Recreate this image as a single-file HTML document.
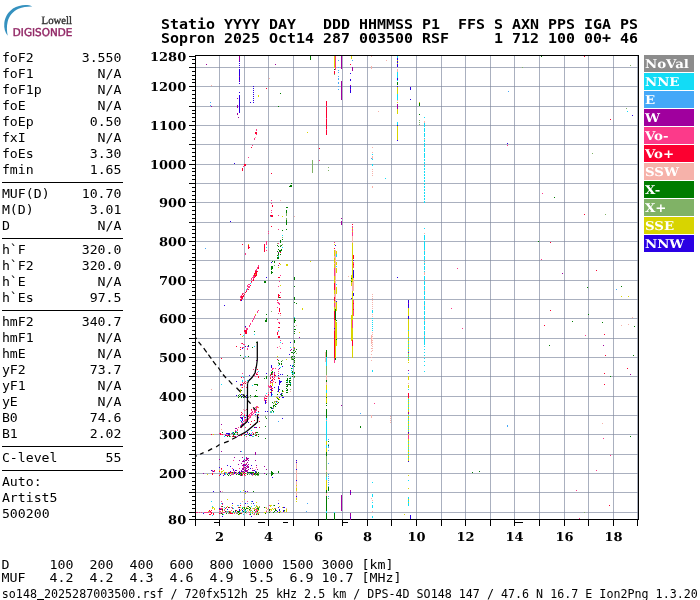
<!DOCTYPE html>
<html><head><meta charset="utf-8"><title>Ionogram</title>
<style>html,body{margin:0;padding:0;background:#fff;}svg{display:block;}</style></head>
<body><svg width="700" height="600" viewBox="0 0 700 600" shape-rendering="crispEdges">
<rect width="700" height="600" fill="#fff"/>
<path d="M32.3,6.5 C27,4 19,5 13,8.5 C8,12 5,17 4.3,23 C3.8,28 5,32.5 7.7,35.7 C6.8,31 6.6,26 7.6,22 C9,16 13,11 18.5,8.7 C23,7 28,6.3 32.3,6.5 Z" fill="#3591bf" shape-rendering="auto"/>
<text x="41.6" y="23.8" font-family="Liberation Serif, serif" font-size="11.2" fill="#2e2e2e" stroke="#2e2e2e" stroke-width="0.35" textLength="30.4" lengthAdjust="spacingAndGlyphs" text-rendering="geometricPrecision">Lowell</text>
<text x="12.8" y="36.2" font-family="DejaVu Sans, sans-serif" font-size="10.8" fill="#922866" stroke="#922866" stroke-width="0.45" textLength="59.6" lengthAdjust="spacingAndGlyphs" text-rendering="geometricPrecision">DIGISONDE</text>
<text x="161" y="28.6" font-family="DejaVu Sans Mono, monospace" font-weight="bold" font-size="13.3" textLength="477.0" lengthAdjust="spacingAndGlyphs" xml:space="preserve">Statio YYYY DAY   DDD HHMMSS P1  FFS S AXN PPS IGA PS</text>
<text x="161" y="42.5" font-family="DejaVu Sans Mono, monospace" font-weight="bold" font-size="13.3" textLength="477.0" lengthAdjust="spacingAndGlyphs" xml:space="preserve">Sopron 2025 Oct14 287 003500 RSF     1 712 100 00+ 46</text>
<text x="1.9" y="61.7" font-family="DejaVu Sans Mono, monospace" font-size="12.4" textLength="31.8" lengthAdjust="spacingAndGlyphs">foF2</text>
<text x="121.5" y="61.7" font-family="DejaVu Sans Mono, monospace" font-size="12.4" text-anchor="end" textLength="39.8" lengthAdjust="spacingAndGlyphs">3.550</text>
<text x="1.9" y="77.7" font-family="DejaVu Sans Mono, monospace" font-size="12.4" textLength="31.8" lengthAdjust="spacingAndGlyphs">foF1</text>
<text x="121.5" y="77.7" font-family="DejaVu Sans Mono, monospace" font-size="12.4" text-anchor="end" textLength="23.9" lengthAdjust="spacingAndGlyphs">N/A</text>
<text x="1.9" y="93.7" font-family="DejaVu Sans Mono, monospace" font-size="12.4" textLength="39.8" lengthAdjust="spacingAndGlyphs">foF1p</text>
<text x="121.5" y="93.7" font-family="DejaVu Sans Mono, monospace" font-size="12.4" text-anchor="end" textLength="23.9" lengthAdjust="spacingAndGlyphs">N/A</text>
<text x="1.9" y="109.7" font-family="DejaVu Sans Mono, monospace" font-size="12.4" textLength="23.9" lengthAdjust="spacingAndGlyphs">foE</text>
<text x="121.5" y="109.7" font-family="DejaVu Sans Mono, monospace" font-size="12.4" text-anchor="end" textLength="23.9" lengthAdjust="spacingAndGlyphs">N/A</text>
<text x="1.9" y="125.7" font-family="DejaVu Sans Mono, monospace" font-size="12.4" textLength="31.8" lengthAdjust="spacingAndGlyphs">foEp</text>
<text x="121.5" y="125.7" font-family="DejaVu Sans Mono, monospace" font-size="12.4" text-anchor="end" textLength="31.8" lengthAdjust="spacingAndGlyphs">0.50</text>
<text x="1.9" y="141.7" font-family="DejaVu Sans Mono, monospace" font-size="12.4" textLength="23.9" lengthAdjust="spacingAndGlyphs">fxI</text>
<text x="121.5" y="141.7" font-family="DejaVu Sans Mono, monospace" font-size="12.4" text-anchor="end" textLength="23.9" lengthAdjust="spacingAndGlyphs">N/A</text>
<text x="1.9" y="157.7" font-family="DejaVu Sans Mono, monospace" font-size="12.4" textLength="31.8" lengthAdjust="spacingAndGlyphs">foEs</text>
<text x="121.5" y="157.7" font-family="DejaVu Sans Mono, monospace" font-size="12.4" text-anchor="end" textLength="31.8" lengthAdjust="spacingAndGlyphs">3.30</text>
<text x="1.9" y="173.7" font-family="DejaVu Sans Mono, monospace" font-size="12.4" textLength="31.8" lengthAdjust="spacingAndGlyphs">fmin</text>
<text x="121.5" y="173.7" font-family="DejaVu Sans Mono, monospace" font-size="12.4" text-anchor="end" textLength="31.8" lengthAdjust="spacingAndGlyphs">1.65</text>
<rect x="2" y="182" width="121" height="1.2" fill="#000"/>
<text x="1.9" y="197.7" font-family="DejaVu Sans Mono, monospace" font-size="12.4" textLength="47.7" lengthAdjust="spacingAndGlyphs">MUF(D)</text>
<text x="121.5" y="197.7" font-family="DejaVu Sans Mono, monospace" font-size="12.4" text-anchor="end" textLength="39.8" lengthAdjust="spacingAndGlyphs">10.70</text>
<text x="1.9" y="213.7" font-family="DejaVu Sans Mono, monospace" font-size="12.4" textLength="31.8" lengthAdjust="spacingAndGlyphs">M(D)</text>
<text x="121.5" y="213.7" font-family="DejaVu Sans Mono, monospace" font-size="12.4" text-anchor="end" textLength="31.8" lengthAdjust="spacingAndGlyphs">3.01</text>
<text x="1.9" y="229.7" font-family="DejaVu Sans Mono, monospace" font-size="12.4" textLength="8.0" lengthAdjust="spacingAndGlyphs">D</text>
<text x="121.5" y="229.7" font-family="DejaVu Sans Mono, monospace" font-size="12.4" text-anchor="end" textLength="23.9" lengthAdjust="spacingAndGlyphs">N/A</text>
<rect x="2" y="238" width="121" height="1.2" fill="#000"/>
<text x="1.9" y="253.7" font-family="DejaVu Sans Mono, monospace" font-size="12.4" textLength="23.9" lengthAdjust="spacingAndGlyphs">h`F</text>
<text x="121.5" y="253.7" font-family="DejaVu Sans Mono, monospace" font-size="12.4" text-anchor="end" textLength="39.8" lengthAdjust="spacingAndGlyphs">320.0</text>
<text x="1.9" y="269.7" font-family="DejaVu Sans Mono, monospace" font-size="12.4" textLength="31.8" lengthAdjust="spacingAndGlyphs">h`F2</text>
<text x="121.5" y="269.7" font-family="DejaVu Sans Mono, monospace" font-size="12.4" text-anchor="end" textLength="39.8" lengthAdjust="spacingAndGlyphs">320.0</text>
<text x="1.9" y="285.7" font-family="DejaVu Sans Mono, monospace" font-size="12.4" textLength="23.9" lengthAdjust="spacingAndGlyphs">h`E</text>
<text x="121.5" y="285.7" font-family="DejaVu Sans Mono, monospace" font-size="12.4" text-anchor="end" textLength="23.9" lengthAdjust="spacingAndGlyphs">N/A</text>
<text x="1.9" y="301.7" font-family="DejaVu Sans Mono, monospace" font-size="12.4" textLength="31.8" lengthAdjust="spacingAndGlyphs">h`Es</text>
<text x="121.5" y="301.7" font-family="DejaVu Sans Mono, monospace" font-size="12.4" text-anchor="end" textLength="31.8" lengthAdjust="spacingAndGlyphs">97.5</text>
<rect x="2" y="310" width="121" height="1.2" fill="#000"/>
<text x="1.9" y="325.7" font-family="DejaVu Sans Mono, monospace" font-size="12.4" textLength="31.8" lengthAdjust="spacingAndGlyphs">hmF2</text>
<text x="121.5" y="325.7" font-family="DejaVu Sans Mono, monospace" font-size="12.4" text-anchor="end" textLength="39.8" lengthAdjust="spacingAndGlyphs">340.7</text>
<text x="1.9" y="341.7" font-family="DejaVu Sans Mono, monospace" font-size="12.4" textLength="31.8" lengthAdjust="spacingAndGlyphs">hmF1</text>
<text x="121.5" y="341.7" font-family="DejaVu Sans Mono, monospace" font-size="12.4" text-anchor="end" textLength="23.9" lengthAdjust="spacingAndGlyphs">N/A</text>
<text x="1.9" y="357.7" font-family="DejaVu Sans Mono, monospace" font-size="12.4" textLength="23.9" lengthAdjust="spacingAndGlyphs">hmE</text>
<text x="121.5" y="357.7" font-family="DejaVu Sans Mono, monospace" font-size="12.4" text-anchor="end" textLength="23.9" lengthAdjust="spacingAndGlyphs">N/A</text>
<text x="1.9" y="373.7" font-family="DejaVu Sans Mono, monospace" font-size="12.4" textLength="23.9" lengthAdjust="spacingAndGlyphs">yF2</text>
<text x="121.5" y="373.7" font-family="DejaVu Sans Mono, monospace" font-size="12.4" text-anchor="end" textLength="31.8" lengthAdjust="spacingAndGlyphs">73.7</text>
<text x="1.9" y="389.7" font-family="DejaVu Sans Mono, monospace" font-size="12.4" textLength="23.9" lengthAdjust="spacingAndGlyphs">yF1</text>
<text x="121.5" y="389.7" font-family="DejaVu Sans Mono, monospace" font-size="12.4" text-anchor="end" textLength="23.9" lengthAdjust="spacingAndGlyphs">N/A</text>
<text x="1.9" y="405.7" font-family="DejaVu Sans Mono, monospace" font-size="12.4" textLength="15.9" lengthAdjust="spacingAndGlyphs">yE</text>
<text x="121.5" y="405.7" font-family="DejaVu Sans Mono, monospace" font-size="12.4" text-anchor="end" textLength="23.9" lengthAdjust="spacingAndGlyphs">N/A</text>
<text x="1.9" y="421.7" font-family="DejaVu Sans Mono, monospace" font-size="12.4" textLength="15.9" lengthAdjust="spacingAndGlyphs">B0</text>
<text x="121.5" y="421.7" font-family="DejaVu Sans Mono, monospace" font-size="12.4" text-anchor="end" textLength="31.8" lengthAdjust="spacingAndGlyphs">74.6</text>
<text x="1.9" y="437.7" font-family="DejaVu Sans Mono, monospace" font-size="12.4" textLength="15.9" lengthAdjust="spacingAndGlyphs">B1</text>
<text x="121.5" y="437.7" font-family="DejaVu Sans Mono, monospace" font-size="12.4" text-anchor="end" textLength="31.8" lengthAdjust="spacingAndGlyphs">2.02</text>
<rect x="2" y="446" width="121" height="1.2" fill="#000"/>
<text x="1.9" y="461.7" font-family="DejaVu Sans Mono, monospace" font-size="12.4" textLength="55.6" lengthAdjust="spacingAndGlyphs">C-level</text>
<text x="121.5" y="461.7" font-family="DejaVu Sans Mono, monospace" font-size="12.4" text-anchor="end" textLength="15.9" lengthAdjust="spacingAndGlyphs">55</text>
<rect x="2" y="470" width="121" height="1.2" fill="#000"/>
<text x="1.9" y="485.7" font-family="DejaVu Sans Mono, monospace" font-size="12.4" textLength="39.8" lengthAdjust="spacingAndGlyphs">Auto:</text>
<text x="1.9" y="501.7" font-family="DejaVu Sans Mono, monospace" font-size="12.4" textLength="55.6" lengthAdjust="spacingAndGlyphs">Artist5</text>
<text x="1.9" y="517.7" font-family="DejaVu Sans Mono, monospace" font-size="12.4" textLength="47.7" lengthAdjust="spacingAndGlyphs">500200</text>
<rect x="219" y="56" width="1" height="463" fill="#aab0bf"/>
<rect x="244" y="56" width="1" height="463" fill="#aab0bf"/>
<rect x="268" y="56" width="1" height="463" fill="#aab0bf"/>
<rect x="293" y="56" width="1" height="463" fill="#aab0bf"/>
<rect x="318" y="56" width="1" height="463" fill="#aab0bf"/>
<rect x="342" y="56" width="1" height="463" fill="#aab0bf"/>
<rect x="367" y="56" width="1" height="463" fill="#aab0bf"/>
<rect x="391" y="56" width="1" height="463" fill="#aab0bf"/>
<rect x="416" y="56" width="1" height="463" fill="#aab0bf"/>
<rect x="441" y="56" width="1" height="463" fill="#aab0bf"/>
<rect x="465" y="56" width="1" height="463" fill="#aab0bf"/>
<rect x="490" y="56" width="1" height="463" fill="#aab0bf"/>
<rect x="514" y="56" width="1" height="463" fill="#aab0bf"/>
<rect x="539" y="56" width="1" height="463" fill="#aab0bf"/>
<rect x="564" y="56" width="1" height="463" fill="#aab0bf"/>
<rect x="588" y="56" width="1" height="463" fill="#aab0bf"/>
<rect x="613" y="56" width="1" height="463" fill="#aab0bf"/>
<rect x="637" y="56" width="1" height="463" fill="#aab0bf"/>
<rect x="196" y="512" width="441" height="1" fill="#aab0bf"/>
<rect x="196" y="492" width="441" height="1" fill="#aab0bf"/>
<rect x="196" y="473" width="441" height="1" fill="#aab0bf"/>
<rect x="196" y="454" width="441" height="1" fill="#aab0bf"/>
<rect x="196" y="434" width="441" height="1" fill="#aab0bf"/>
<rect x="196" y="415" width="441" height="1" fill="#aab0bf"/>
<rect x="196" y="396" width="441" height="1" fill="#aab0bf"/>
<rect x="196" y="376" width="441" height="1" fill="#aab0bf"/>
<rect x="196" y="357" width="441" height="1" fill="#aab0bf"/>
<rect x="196" y="338" width="441" height="1" fill="#aab0bf"/>
<rect x="196" y="318" width="441" height="1" fill="#aab0bf"/>
<rect x="196" y="299" width="441" height="1" fill="#aab0bf"/>
<rect x="196" y="280" width="441" height="1" fill="#aab0bf"/>
<rect x="196" y="260" width="441" height="1" fill="#aab0bf"/>
<rect x="196" y="241" width="441" height="1" fill="#aab0bf"/>
<rect x="196" y="222" width="441" height="1" fill="#aab0bf"/>
<rect x="196" y="202" width="441" height="1" fill="#aab0bf"/>
<rect x="196" y="183" width="441" height="1" fill="#aab0bf"/>
<rect x="196" y="164" width="441" height="1" fill="#aab0bf"/>
<rect x="196" y="144" width="441" height="1" fill="#aab0bf"/>
<rect x="196" y="125" width="441" height="1" fill="#aab0bf"/>
<rect x="196" y="106" width="441" height="1" fill="#aab0bf"/>
<rect x="196" y="86" width="441" height="1" fill="#aab0bf"/>
<rect x="196" y="67" width="441" height="1" fill="#aab0bf"/>
<rect x="219" y="512" width="1" height="1" fill="#8e95a7"/>
<rect x="219" y="492" width="1" height="1" fill="#8e95a7"/>
<rect x="219" y="473" width="1" height="1" fill="#8e95a7"/>
<rect x="219" y="454" width="1" height="1" fill="#8e95a7"/>
<rect x="219" y="434" width="1" height="1" fill="#8e95a7"/>
<rect x="219" y="415" width="1" height="1" fill="#8e95a7"/>
<rect x="219" y="396" width="1" height="1" fill="#8e95a7"/>
<rect x="219" y="376" width="1" height="1" fill="#8e95a7"/>
<rect x="219" y="357" width="1" height="1" fill="#8e95a7"/>
<rect x="219" y="338" width="1" height="1" fill="#8e95a7"/>
<rect x="219" y="318" width="1" height="1" fill="#8e95a7"/>
<rect x="219" y="299" width="1" height="1" fill="#8e95a7"/>
<rect x="219" y="280" width="1" height="1" fill="#8e95a7"/>
<rect x="219" y="260" width="1" height="1" fill="#8e95a7"/>
<rect x="219" y="241" width="1" height="1" fill="#8e95a7"/>
<rect x="219" y="222" width="1" height="1" fill="#8e95a7"/>
<rect x="219" y="202" width="1" height="1" fill="#8e95a7"/>
<rect x="219" y="183" width="1" height="1" fill="#8e95a7"/>
<rect x="219" y="164" width="1" height="1" fill="#8e95a7"/>
<rect x="219" y="144" width="1" height="1" fill="#8e95a7"/>
<rect x="219" y="125" width="1" height="1" fill="#8e95a7"/>
<rect x="219" y="106" width="1" height="1" fill="#8e95a7"/>
<rect x="219" y="86" width="1" height="1" fill="#8e95a7"/>
<rect x="219" y="67" width="1" height="1" fill="#8e95a7"/>
<rect x="244" y="512" width="1" height="1" fill="#8e95a7"/>
<rect x="244" y="492" width="1" height="1" fill="#8e95a7"/>
<rect x="244" y="473" width="1" height="1" fill="#8e95a7"/>
<rect x="244" y="454" width="1" height="1" fill="#8e95a7"/>
<rect x="244" y="434" width="1" height="1" fill="#8e95a7"/>
<rect x="244" y="415" width="1" height="1" fill="#8e95a7"/>
<rect x="244" y="396" width="1" height="1" fill="#8e95a7"/>
<rect x="244" y="376" width="1" height="1" fill="#8e95a7"/>
<rect x="244" y="357" width="1" height="1" fill="#8e95a7"/>
<rect x="244" y="338" width="1" height="1" fill="#8e95a7"/>
<rect x="244" y="318" width="1" height="1" fill="#8e95a7"/>
<rect x="244" y="299" width="1" height="1" fill="#8e95a7"/>
<rect x="244" y="280" width="1" height="1" fill="#8e95a7"/>
<rect x="244" y="260" width="1" height="1" fill="#8e95a7"/>
<rect x="244" y="241" width="1" height="1" fill="#8e95a7"/>
<rect x="244" y="222" width="1" height="1" fill="#8e95a7"/>
<rect x="244" y="202" width="1" height="1" fill="#8e95a7"/>
<rect x="244" y="183" width="1" height="1" fill="#8e95a7"/>
<rect x="244" y="164" width="1" height="1" fill="#8e95a7"/>
<rect x="244" y="144" width="1" height="1" fill="#8e95a7"/>
<rect x="244" y="125" width="1" height="1" fill="#8e95a7"/>
<rect x="244" y="106" width="1" height="1" fill="#8e95a7"/>
<rect x="244" y="86" width="1" height="1" fill="#8e95a7"/>
<rect x="244" y="67" width="1" height="1" fill="#8e95a7"/>
<rect x="268" y="512" width="1" height="1" fill="#8e95a7"/>
<rect x="268" y="492" width="1" height="1" fill="#8e95a7"/>
<rect x="268" y="473" width="1" height="1" fill="#8e95a7"/>
<rect x="268" y="454" width="1" height="1" fill="#8e95a7"/>
<rect x="268" y="434" width="1" height="1" fill="#8e95a7"/>
<rect x="268" y="415" width="1" height="1" fill="#8e95a7"/>
<rect x="268" y="396" width="1" height="1" fill="#8e95a7"/>
<rect x="268" y="376" width="1" height="1" fill="#8e95a7"/>
<rect x="268" y="357" width="1" height="1" fill="#8e95a7"/>
<rect x="268" y="338" width="1" height="1" fill="#8e95a7"/>
<rect x="268" y="318" width="1" height="1" fill="#8e95a7"/>
<rect x="268" y="299" width="1" height="1" fill="#8e95a7"/>
<rect x="268" y="280" width="1" height="1" fill="#8e95a7"/>
<rect x="268" y="260" width="1" height="1" fill="#8e95a7"/>
<rect x="268" y="241" width="1" height="1" fill="#8e95a7"/>
<rect x="268" y="222" width="1" height="1" fill="#8e95a7"/>
<rect x="268" y="202" width="1" height="1" fill="#8e95a7"/>
<rect x="268" y="183" width="1" height="1" fill="#8e95a7"/>
<rect x="268" y="164" width="1" height="1" fill="#8e95a7"/>
<rect x="268" y="144" width="1" height="1" fill="#8e95a7"/>
<rect x="268" y="125" width="1" height="1" fill="#8e95a7"/>
<rect x="268" y="106" width="1" height="1" fill="#8e95a7"/>
<rect x="268" y="86" width="1" height="1" fill="#8e95a7"/>
<rect x="268" y="67" width="1" height="1" fill="#8e95a7"/>
<rect x="293" y="512" width="1" height="1" fill="#8e95a7"/>
<rect x="293" y="492" width="1" height="1" fill="#8e95a7"/>
<rect x="293" y="473" width="1" height="1" fill="#8e95a7"/>
<rect x="293" y="454" width="1" height="1" fill="#8e95a7"/>
<rect x="293" y="434" width="1" height="1" fill="#8e95a7"/>
<rect x="293" y="415" width="1" height="1" fill="#8e95a7"/>
<rect x="293" y="396" width="1" height="1" fill="#8e95a7"/>
<rect x="293" y="376" width="1" height="1" fill="#8e95a7"/>
<rect x="293" y="357" width="1" height="1" fill="#8e95a7"/>
<rect x="293" y="338" width="1" height="1" fill="#8e95a7"/>
<rect x="293" y="318" width="1" height="1" fill="#8e95a7"/>
<rect x="293" y="299" width="1" height="1" fill="#8e95a7"/>
<rect x="293" y="280" width="1" height="1" fill="#8e95a7"/>
<rect x="293" y="260" width="1" height="1" fill="#8e95a7"/>
<rect x="293" y="241" width="1" height="1" fill="#8e95a7"/>
<rect x="293" y="222" width="1" height="1" fill="#8e95a7"/>
<rect x="293" y="202" width="1" height="1" fill="#8e95a7"/>
<rect x="293" y="183" width="1" height="1" fill="#8e95a7"/>
<rect x="293" y="164" width="1" height="1" fill="#8e95a7"/>
<rect x="293" y="144" width="1" height="1" fill="#8e95a7"/>
<rect x="293" y="125" width="1" height="1" fill="#8e95a7"/>
<rect x="293" y="106" width="1" height="1" fill="#8e95a7"/>
<rect x="293" y="86" width="1" height="1" fill="#8e95a7"/>
<rect x="293" y="67" width="1" height="1" fill="#8e95a7"/>
<rect x="318" y="512" width="1" height="1" fill="#8e95a7"/>
<rect x="318" y="492" width="1" height="1" fill="#8e95a7"/>
<rect x="318" y="473" width="1" height="1" fill="#8e95a7"/>
<rect x="318" y="454" width="1" height="1" fill="#8e95a7"/>
<rect x="318" y="434" width="1" height="1" fill="#8e95a7"/>
<rect x="318" y="415" width="1" height="1" fill="#8e95a7"/>
<rect x="318" y="396" width="1" height="1" fill="#8e95a7"/>
<rect x="318" y="376" width="1" height="1" fill="#8e95a7"/>
<rect x="318" y="357" width="1" height="1" fill="#8e95a7"/>
<rect x="318" y="338" width="1" height="1" fill="#8e95a7"/>
<rect x="318" y="318" width="1" height="1" fill="#8e95a7"/>
<rect x="318" y="299" width="1" height="1" fill="#8e95a7"/>
<rect x="318" y="280" width="1" height="1" fill="#8e95a7"/>
<rect x="318" y="260" width="1" height="1" fill="#8e95a7"/>
<rect x="318" y="241" width="1" height="1" fill="#8e95a7"/>
<rect x="318" y="222" width="1" height="1" fill="#8e95a7"/>
<rect x="318" y="202" width="1" height="1" fill="#8e95a7"/>
<rect x="318" y="183" width="1" height="1" fill="#8e95a7"/>
<rect x="318" y="164" width="1" height="1" fill="#8e95a7"/>
<rect x="318" y="144" width="1" height="1" fill="#8e95a7"/>
<rect x="318" y="125" width="1" height="1" fill="#8e95a7"/>
<rect x="318" y="106" width="1" height="1" fill="#8e95a7"/>
<rect x="318" y="86" width="1" height="1" fill="#8e95a7"/>
<rect x="318" y="67" width="1" height="1" fill="#8e95a7"/>
<rect x="342" y="512" width="1" height="1" fill="#8e95a7"/>
<rect x="342" y="492" width="1" height="1" fill="#8e95a7"/>
<rect x="342" y="473" width="1" height="1" fill="#8e95a7"/>
<rect x="342" y="454" width="1" height="1" fill="#8e95a7"/>
<rect x="342" y="434" width="1" height="1" fill="#8e95a7"/>
<rect x="342" y="415" width="1" height="1" fill="#8e95a7"/>
<rect x="342" y="396" width="1" height="1" fill="#8e95a7"/>
<rect x="342" y="376" width="1" height="1" fill="#8e95a7"/>
<rect x="342" y="357" width="1" height="1" fill="#8e95a7"/>
<rect x="342" y="338" width="1" height="1" fill="#8e95a7"/>
<rect x="342" y="318" width="1" height="1" fill="#8e95a7"/>
<rect x="342" y="299" width="1" height="1" fill="#8e95a7"/>
<rect x="342" y="280" width="1" height="1" fill="#8e95a7"/>
<rect x="342" y="260" width="1" height="1" fill="#8e95a7"/>
<rect x="342" y="241" width="1" height="1" fill="#8e95a7"/>
<rect x="342" y="222" width="1" height="1" fill="#8e95a7"/>
<rect x="342" y="202" width="1" height="1" fill="#8e95a7"/>
<rect x="342" y="183" width="1" height="1" fill="#8e95a7"/>
<rect x="342" y="164" width="1" height="1" fill="#8e95a7"/>
<rect x="342" y="144" width="1" height="1" fill="#8e95a7"/>
<rect x="342" y="125" width="1" height="1" fill="#8e95a7"/>
<rect x="342" y="106" width="1" height="1" fill="#8e95a7"/>
<rect x="342" y="86" width="1" height="1" fill="#8e95a7"/>
<rect x="342" y="67" width="1" height="1" fill="#8e95a7"/>
<rect x="367" y="512" width="1" height="1" fill="#8e95a7"/>
<rect x="367" y="492" width="1" height="1" fill="#8e95a7"/>
<rect x="367" y="473" width="1" height="1" fill="#8e95a7"/>
<rect x="367" y="454" width="1" height="1" fill="#8e95a7"/>
<rect x="367" y="434" width="1" height="1" fill="#8e95a7"/>
<rect x="367" y="415" width="1" height="1" fill="#8e95a7"/>
<rect x="367" y="396" width="1" height="1" fill="#8e95a7"/>
<rect x="367" y="376" width="1" height="1" fill="#8e95a7"/>
<rect x="367" y="357" width="1" height="1" fill="#8e95a7"/>
<rect x="367" y="338" width="1" height="1" fill="#8e95a7"/>
<rect x="367" y="318" width="1" height="1" fill="#8e95a7"/>
<rect x="367" y="299" width="1" height="1" fill="#8e95a7"/>
<rect x="367" y="280" width="1" height="1" fill="#8e95a7"/>
<rect x="367" y="260" width="1" height="1" fill="#8e95a7"/>
<rect x="367" y="241" width="1" height="1" fill="#8e95a7"/>
<rect x="367" y="222" width="1" height="1" fill="#8e95a7"/>
<rect x="367" y="202" width="1" height="1" fill="#8e95a7"/>
<rect x="367" y="183" width="1" height="1" fill="#8e95a7"/>
<rect x="367" y="164" width="1" height="1" fill="#8e95a7"/>
<rect x="367" y="144" width="1" height="1" fill="#8e95a7"/>
<rect x="367" y="125" width="1" height="1" fill="#8e95a7"/>
<rect x="367" y="106" width="1" height="1" fill="#8e95a7"/>
<rect x="367" y="86" width="1" height="1" fill="#8e95a7"/>
<rect x="367" y="67" width="1" height="1" fill="#8e95a7"/>
<rect x="391" y="512" width="1" height="1" fill="#8e95a7"/>
<rect x="391" y="492" width="1" height="1" fill="#8e95a7"/>
<rect x="391" y="473" width="1" height="1" fill="#8e95a7"/>
<rect x="391" y="454" width="1" height="1" fill="#8e95a7"/>
<rect x="391" y="434" width="1" height="1" fill="#8e95a7"/>
<rect x="391" y="415" width="1" height="1" fill="#8e95a7"/>
<rect x="391" y="396" width="1" height="1" fill="#8e95a7"/>
<rect x="391" y="376" width="1" height="1" fill="#8e95a7"/>
<rect x="391" y="357" width="1" height="1" fill="#8e95a7"/>
<rect x="391" y="338" width="1" height="1" fill="#8e95a7"/>
<rect x="391" y="318" width="1" height="1" fill="#8e95a7"/>
<rect x="391" y="299" width="1" height="1" fill="#8e95a7"/>
<rect x="391" y="280" width="1" height="1" fill="#8e95a7"/>
<rect x="391" y="260" width="1" height="1" fill="#8e95a7"/>
<rect x="391" y="241" width="1" height="1" fill="#8e95a7"/>
<rect x="391" y="222" width="1" height="1" fill="#8e95a7"/>
<rect x="391" y="202" width="1" height="1" fill="#8e95a7"/>
<rect x="391" y="183" width="1" height="1" fill="#8e95a7"/>
<rect x="391" y="164" width="1" height="1" fill="#8e95a7"/>
<rect x="391" y="144" width="1" height="1" fill="#8e95a7"/>
<rect x="391" y="125" width="1" height="1" fill="#8e95a7"/>
<rect x="391" y="106" width="1" height="1" fill="#8e95a7"/>
<rect x="391" y="86" width="1" height="1" fill="#8e95a7"/>
<rect x="391" y="67" width="1" height="1" fill="#8e95a7"/>
<rect x="416" y="512" width="1" height="1" fill="#8e95a7"/>
<rect x="416" y="492" width="1" height="1" fill="#8e95a7"/>
<rect x="416" y="473" width="1" height="1" fill="#8e95a7"/>
<rect x="416" y="454" width="1" height="1" fill="#8e95a7"/>
<rect x="416" y="434" width="1" height="1" fill="#8e95a7"/>
<rect x="416" y="415" width="1" height="1" fill="#8e95a7"/>
<rect x="416" y="396" width="1" height="1" fill="#8e95a7"/>
<rect x="416" y="376" width="1" height="1" fill="#8e95a7"/>
<rect x="416" y="357" width="1" height="1" fill="#8e95a7"/>
<rect x="416" y="338" width="1" height="1" fill="#8e95a7"/>
<rect x="416" y="318" width="1" height="1" fill="#8e95a7"/>
<rect x="416" y="299" width="1" height="1" fill="#8e95a7"/>
<rect x="416" y="280" width="1" height="1" fill="#8e95a7"/>
<rect x="416" y="260" width="1" height="1" fill="#8e95a7"/>
<rect x="416" y="241" width="1" height="1" fill="#8e95a7"/>
<rect x="416" y="222" width="1" height="1" fill="#8e95a7"/>
<rect x="416" y="202" width="1" height="1" fill="#8e95a7"/>
<rect x="416" y="183" width="1" height="1" fill="#8e95a7"/>
<rect x="416" y="164" width="1" height="1" fill="#8e95a7"/>
<rect x="416" y="144" width="1" height="1" fill="#8e95a7"/>
<rect x="416" y="125" width="1" height="1" fill="#8e95a7"/>
<rect x="416" y="106" width="1" height="1" fill="#8e95a7"/>
<rect x="416" y="86" width="1" height="1" fill="#8e95a7"/>
<rect x="416" y="67" width="1" height="1" fill="#8e95a7"/>
<rect x="441" y="512" width="1" height="1" fill="#8e95a7"/>
<rect x="441" y="492" width="1" height="1" fill="#8e95a7"/>
<rect x="441" y="473" width="1" height="1" fill="#8e95a7"/>
<rect x="441" y="454" width="1" height="1" fill="#8e95a7"/>
<rect x="441" y="434" width="1" height="1" fill="#8e95a7"/>
<rect x="441" y="415" width="1" height="1" fill="#8e95a7"/>
<rect x="441" y="396" width="1" height="1" fill="#8e95a7"/>
<rect x="441" y="376" width="1" height="1" fill="#8e95a7"/>
<rect x="441" y="357" width="1" height="1" fill="#8e95a7"/>
<rect x="441" y="338" width="1" height="1" fill="#8e95a7"/>
<rect x="441" y="318" width="1" height="1" fill="#8e95a7"/>
<rect x="441" y="299" width="1" height="1" fill="#8e95a7"/>
<rect x="441" y="280" width="1" height="1" fill="#8e95a7"/>
<rect x="441" y="260" width="1" height="1" fill="#8e95a7"/>
<rect x="441" y="241" width="1" height="1" fill="#8e95a7"/>
<rect x="441" y="222" width="1" height="1" fill="#8e95a7"/>
<rect x="441" y="202" width="1" height="1" fill="#8e95a7"/>
<rect x="441" y="183" width="1" height="1" fill="#8e95a7"/>
<rect x="441" y="164" width="1" height="1" fill="#8e95a7"/>
<rect x="441" y="144" width="1" height="1" fill="#8e95a7"/>
<rect x="441" y="125" width="1" height="1" fill="#8e95a7"/>
<rect x="441" y="106" width="1" height="1" fill="#8e95a7"/>
<rect x="441" y="86" width="1" height="1" fill="#8e95a7"/>
<rect x="441" y="67" width="1" height="1" fill="#8e95a7"/>
<rect x="465" y="512" width="1" height="1" fill="#8e95a7"/>
<rect x="465" y="492" width="1" height="1" fill="#8e95a7"/>
<rect x="465" y="473" width="1" height="1" fill="#8e95a7"/>
<rect x="465" y="454" width="1" height="1" fill="#8e95a7"/>
<rect x="465" y="434" width="1" height="1" fill="#8e95a7"/>
<rect x="465" y="415" width="1" height="1" fill="#8e95a7"/>
<rect x="465" y="396" width="1" height="1" fill="#8e95a7"/>
<rect x="465" y="376" width="1" height="1" fill="#8e95a7"/>
<rect x="465" y="357" width="1" height="1" fill="#8e95a7"/>
<rect x="465" y="338" width="1" height="1" fill="#8e95a7"/>
<rect x="465" y="318" width="1" height="1" fill="#8e95a7"/>
<rect x="465" y="299" width="1" height="1" fill="#8e95a7"/>
<rect x="465" y="280" width="1" height="1" fill="#8e95a7"/>
<rect x="465" y="260" width="1" height="1" fill="#8e95a7"/>
<rect x="465" y="241" width="1" height="1" fill="#8e95a7"/>
<rect x="465" y="222" width="1" height="1" fill="#8e95a7"/>
<rect x="465" y="202" width="1" height="1" fill="#8e95a7"/>
<rect x="465" y="183" width="1" height="1" fill="#8e95a7"/>
<rect x="465" y="164" width="1" height="1" fill="#8e95a7"/>
<rect x="465" y="144" width="1" height="1" fill="#8e95a7"/>
<rect x="465" y="125" width="1" height="1" fill="#8e95a7"/>
<rect x="465" y="106" width="1" height="1" fill="#8e95a7"/>
<rect x="465" y="86" width="1" height="1" fill="#8e95a7"/>
<rect x="465" y="67" width="1" height="1" fill="#8e95a7"/>
<rect x="490" y="512" width="1" height="1" fill="#8e95a7"/>
<rect x="490" y="492" width="1" height="1" fill="#8e95a7"/>
<rect x="490" y="473" width="1" height="1" fill="#8e95a7"/>
<rect x="490" y="454" width="1" height="1" fill="#8e95a7"/>
<rect x="490" y="434" width="1" height="1" fill="#8e95a7"/>
<rect x="490" y="415" width="1" height="1" fill="#8e95a7"/>
<rect x="490" y="396" width="1" height="1" fill="#8e95a7"/>
<rect x="490" y="376" width="1" height="1" fill="#8e95a7"/>
<rect x="490" y="357" width="1" height="1" fill="#8e95a7"/>
<rect x="490" y="338" width="1" height="1" fill="#8e95a7"/>
<rect x="490" y="318" width="1" height="1" fill="#8e95a7"/>
<rect x="490" y="299" width="1" height="1" fill="#8e95a7"/>
<rect x="490" y="280" width="1" height="1" fill="#8e95a7"/>
<rect x="490" y="260" width="1" height="1" fill="#8e95a7"/>
<rect x="490" y="241" width="1" height="1" fill="#8e95a7"/>
<rect x="490" y="222" width="1" height="1" fill="#8e95a7"/>
<rect x="490" y="202" width="1" height="1" fill="#8e95a7"/>
<rect x="490" y="183" width="1" height="1" fill="#8e95a7"/>
<rect x="490" y="164" width="1" height="1" fill="#8e95a7"/>
<rect x="490" y="144" width="1" height="1" fill="#8e95a7"/>
<rect x="490" y="125" width="1" height="1" fill="#8e95a7"/>
<rect x="490" y="106" width="1" height="1" fill="#8e95a7"/>
<rect x="490" y="86" width="1" height="1" fill="#8e95a7"/>
<rect x="490" y="67" width="1" height="1" fill="#8e95a7"/>
<rect x="514" y="512" width="1" height="1" fill="#8e95a7"/>
<rect x="514" y="492" width="1" height="1" fill="#8e95a7"/>
<rect x="514" y="473" width="1" height="1" fill="#8e95a7"/>
<rect x="514" y="454" width="1" height="1" fill="#8e95a7"/>
<rect x="514" y="434" width="1" height="1" fill="#8e95a7"/>
<rect x="514" y="415" width="1" height="1" fill="#8e95a7"/>
<rect x="514" y="396" width="1" height="1" fill="#8e95a7"/>
<rect x="514" y="376" width="1" height="1" fill="#8e95a7"/>
<rect x="514" y="357" width="1" height="1" fill="#8e95a7"/>
<rect x="514" y="338" width="1" height="1" fill="#8e95a7"/>
<rect x="514" y="318" width="1" height="1" fill="#8e95a7"/>
<rect x="514" y="299" width="1" height="1" fill="#8e95a7"/>
<rect x="514" y="280" width="1" height="1" fill="#8e95a7"/>
<rect x="514" y="260" width="1" height="1" fill="#8e95a7"/>
<rect x="514" y="241" width="1" height="1" fill="#8e95a7"/>
<rect x="514" y="222" width="1" height="1" fill="#8e95a7"/>
<rect x="514" y="202" width="1" height="1" fill="#8e95a7"/>
<rect x="514" y="183" width="1" height="1" fill="#8e95a7"/>
<rect x="514" y="164" width="1" height="1" fill="#8e95a7"/>
<rect x="514" y="144" width="1" height="1" fill="#8e95a7"/>
<rect x="514" y="125" width="1" height="1" fill="#8e95a7"/>
<rect x="514" y="106" width="1" height="1" fill="#8e95a7"/>
<rect x="514" y="86" width="1" height="1" fill="#8e95a7"/>
<rect x="514" y="67" width="1" height="1" fill="#8e95a7"/>
<rect x="539" y="512" width="1" height="1" fill="#8e95a7"/>
<rect x="539" y="492" width="1" height="1" fill="#8e95a7"/>
<rect x="539" y="473" width="1" height="1" fill="#8e95a7"/>
<rect x="539" y="454" width="1" height="1" fill="#8e95a7"/>
<rect x="539" y="434" width="1" height="1" fill="#8e95a7"/>
<rect x="539" y="415" width="1" height="1" fill="#8e95a7"/>
<rect x="539" y="396" width="1" height="1" fill="#8e95a7"/>
<rect x="539" y="376" width="1" height="1" fill="#8e95a7"/>
<rect x="539" y="357" width="1" height="1" fill="#8e95a7"/>
<rect x="539" y="338" width="1" height="1" fill="#8e95a7"/>
<rect x="539" y="318" width="1" height="1" fill="#8e95a7"/>
<rect x="539" y="299" width="1" height="1" fill="#8e95a7"/>
<rect x="539" y="280" width="1" height="1" fill="#8e95a7"/>
<rect x="539" y="260" width="1" height="1" fill="#8e95a7"/>
<rect x="539" y="241" width="1" height="1" fill="#8e95a7"/>
<rect x="539" y="222" width="1" height="1" fill="#8e95a7"/>
<rect x="539" y="202" width="1" height="1" fill="#8e95a7"/>
<rect x="539" y="183" width="1" height="1" fill="#8e95a7"/>
<rect x="539" y="164" width="1" height="1" fill="#8e95a7"/>
<rect x="539" y="144" width="1" height="1" fill="#8e95a7"/>
<rect x="539" y="125" width="1" height="1" fill="#8e95a7"/>
<rect x="539" y="106" width="1" height="1" fill="#8e95a7"/>
<rect x="539" y="86" width="1" height="1" fill="#8e95a7"/>
<rect x="539" y="67" width="1" height="1" fill="#8e95a7"/>
<rect x="564" y="512" width="1" height="1" fill="#8e95a7"/>
<rect x="564" y="492" width="1" height="1" fill="#8e95a7"/>
<rect x="564" y="473" width="1" height="1" fill="#8e95a7"/>
<rect x="564" y="454" width="1" height="1" fill="#8e95a7"/>
<rect x="564" y="434" width="1" height="1" fill="#8e95a7"/>
<rect x="564" y="415" width="1" height="1" fill="#8e95a7"/>
<rect x="564" y="396" width="1" height="1" fill="#8e95a7"/>
<rect x="564" y="376" width="1" height="1" fill="#8e95a7"/>
<rect x="564" y="357" width="1" height="1" fill="#8e95a7"/>
<rect x="564" y="338" width="1" height="1" fill="#8e95a7"/>
<rect x="564" y="318" width="1" height="1" fill="#8e95a7"/>
<rect x="564" y="299" width="1" height="1" fill="#8e95a7"/>
<rect x="564" y="280" width="1" height="1" fill="#8e95a7"/>
<rect x="564" y="260" width="1" height="1" fill="#8e95a7"/>
<rect x="564" y="241" width="1" height="1" fill="#8e95a7"/>
<rect x="564" y="222" width="1" height="1" fill="#8e95a7"/>
<rect x="564" y="202" width="1" height="1" fill="#8e95a7"/>
<rect x="564" y="183" width="1" height="1" fill="#8e95a7"/>
<rect x="564" y="164" width="1" height="1" fill="#8e95a7"/>
<rect x="564" y="144" width="1" height="1" fill="#8e95a7"/>
<rect x="564" y="125" width="1" height="1" fill="#8e95a7"/>
<rect x="564" y="106" width="1" height="1" fill="#8e95a7"/>
<rect x="564" y="86" width="1" height="1" fill="#8e95a7"/>
<rect x="564" y="67" width="1" height="1" fill="#8e95a7"/>
<rect x="588" y="512" width="1" height="1" fill="#8e95a7"/>
<rect x="588" y="492" width="1" height="1" fill="#8e95a7"/>
<rect x="588" y="473" width="1" height="1" fill="#8e95a7"/>
<rect x="588" y="454" width="1" height="1" fill="#8e95a7"/>
<rect x="588" y="434" width="1" height="1" fill="#8e95a7"/>
<rect x="588" y="415" width="1" height="1" fill="#8e95a7"/>
<rect x="588" y="396" width="1" height="1" fill="#8e95a7"/>
<rect x="588" y="376" width="1" height="1" fill="#8e95a7"/>
<rect x="588" y="357" width="1" height="1" fill="#8e95a7"/>
<rect x="588" y="338" width="1" height="1" fill="#8e95a7"/>
<rect x="588" y="318" width="1" height="1" fill="#8e95a7"/>
<rect x="588" y="299" width="1" height="1" fill="#8e95a7"/>
<rect x="588" y="280" width="1" height="1" fill="#8e95a7"/>
<rect x="588" y="260" width="1" height="1" fill="#8e95a7"/>
<rect x="588" y="241" width="1" height="1" fill="#8e95a7"/>
<rect x="588" y="222" width="1" height="1" fill="#8e95a7"/>
<rect x="588" y="202" width="1" height="1" fill="#8e95a7"/>
<rect x="588" y="183" width="1" height="1" fill="#8e95a7"/>
<rect x="588" y="164" width="1" height="1" fill="#8e95a7"/>
<rect x="588" y="144" width="1" height="1" fill="#8e95a7"/>
<rect x="588" y="125" width="1" height="1" fill="#8e95a7"/>
<rect x="588" y="106" width="1" height="1" fill="#8e95a7"/>
<rect x="588" y="86" width="1" height="1" fill="#8e95a7"/>
<rect x="588" y="67" width="1" height="1" fill="#8e95a7"/>
<rect x="613" y="512" width="1" height="1" fill="#8e95a7"/>
<rect x="613" y="492" width="1" height="1" fill="#8e95a7"/>
<rect x="613" y="473" width="1" height="1" fill="#8e95a7"/>
<rect x="613" y="454" width="1" height="1" fill="#8e95a7"/>
<rect x="613" y="434" width="1" height="1" fill="#8e95a7"/>
<rect x="613" y="415" width="1" height="1" fill="#8e95a7"/>
<rect x="613" y="396" width="1" height="1" fill="#8e95a7"/>
<rect x="613" y="376" width="1" height="1" fill="#8e95a7"/>
<rect x="613" y="357" width="1" height="1" fill="#8e95a7"/>
<rect x="613" y="338" width="1" height="1" fill="#8e95a7"/>
<rect x="613" y="318" width="1" height="1" fill="#8e95a7"/>
<rect x="613" y="299" width="1" height="1" fill="#8e95a7"/>
<rect x="613" y="280" width="1" height="1" fill="#8e95a7"/>
<rect x="613" y="260" width="1" height="1" fill="#8e95a7"/>
<rect x="613" y="241" width="1" height="1" fill="#8e95a7"/>
<rect x="613" y="222" width="1" height="1" fill="#8e95a7"/>
<rect x="613" y="202" width="1" height="1" fill="#8e95a7"/>
<rect x="613" y="183" width="1" height="1" fill="#8e95a7"/>
<rect x="613" y="164" width="1" height="1" fill="#8e95a7"/>
<rect x="613" y="144" width="1" height="1" fill="#8e95a7"/>
<rect x="613" y="125" width="1" height="1" fill="#8e95a7"/>
<rect x="613" y="106" width="1" height="1" fill="#8e95a7"/>
<rect x="613" y="86" width="1" height="1" fill="#8e95a7"/>
<rect x="613" y="67" width="1" height="1" fill="#8e95a7"/>
<rect x="637" y="512" width="1" height="1" fill="#8e95a7"/>
<rect x="637" y="492" width="1" height="1" fill="#8e95a7"/>
<rect x="637" y="473" width="1" height="1" fill="#8e95a7"/>
<rect x="637" y="454" width="1" height="1" fill="#8e95a7"/>
<rect x="637" y="434" width="1" height="1" fill="#8e95a7"/>
<rect x="637" y="415" width="1" height="1" fill="#8e95a7"/>
<rect x="637" y="396" width="1" height="1" fill="#8e95a7"/>
<rect x="637" y="376" width="1" height="1" fill="#8e95a7"/>
<rect x="637" y="357" width="1" height="1" fill="#8e95a7"/>
<rect x="637" y="338" width="1" height="1" fill="#8e95a7"/>
<rect x="637" y="318" width="1" height="1" fill="#8e95a7"/>
<rect x="637" y="299" width="1" height="1" fill="#8e95a7"/>
<rect x="637" y="280" width="1" height="1" fill="#8e95a7"/>
<rect x="637" y="260" width="1" height="1" fill="#8e95a7"/>
<rect x="637" y="241" width="1" height="1" fill="#8e95a7"/>
<rect x="637" y="222" width="1" height="1" fill="#8e95a7"/>
<rect x="637" y="202" width="1" height="1" fill="#8e95a7"/>
<rect x="637" y="183" width="1" height="1" fill="#8e95a7"/>
<rect x="637" y="164" width="1" height="1" fill="#8e95a7"/>
<rect x="637" y="144" width="1" height="1" fill="#8e95a7"/>
<rect x="637" y="125" width="1" height="1" fill="#8e95a7"/>
<rect x="637" y="106" width="1" height="1" fill="#8e95a7"/>
<rect x="637" y="86" width="1" height="1" fill="#8e95a7"/>
<rect x="637" y="67" width="1" height="1" fill="#8e95a7"/>
<rect x="195" y="55" width="444" height="1" fill="#000"/>
<rect x="195" y="519" width="444" height="1" fill="#000"/>
<rect x="195" y="55" width="1" height="465" fill="#000"/>
<rect x="638" y="55" width="1" height="465" fill="#000"/>
<rect x="189" y="519" width="6" height="1" fill="#000"/>
<rect x="192" y="516" width="3" height="1" fill="#000"/>
<rect x="189" y="512" width="6" height="1" fill="#000"/>
<rect x="192" y="508" width="3" height="1" fill="#000"/>
<rect x="192" y="504" width="3" height="1" fill="#000"/>
<rect x="192" y="500" width="3" height="1" fill="#000"/>
<rect x="192" y="496" width="3" height="1" fill="#000"/>
<rect x="189" y="492" width="6" height="1" fill="#000"/>
<rect x="192" y="489" width="3" height="1" fill="#000"/>
<rect x="192" y="485" width="3" height="1" fill="#000"/>
<rect x="192" y="481" width="3" height="1" fill="#000"/>
<rect x="192" y="477" width="3" height="1" fill="#000"/>
<rect x="189" y="473" width="6" height="1" fill="#000"/>
<rect x="192" y="469" width="3" height="1" fill="#000"/>
<rect x="192" y="465" width="3" height="1" fill="#000"/>
<rect x="192" y="462" width="3" height="1" fill="#000"/>
<rect x="192" y="458" width="3" height="1" fill="#000"/>
<rect x="189" y="454" width="6" height="1" fill="#000"/>
<rect x="192" y="450" width="3" height="1" fill="#000"/>
<rect x="192" y="446" width="3" height="1" fill="#000"/>
<rect x="192" y="442" width="3" height="1" fill="#000"/>
<rect x="192" y="438" width="3" height="1" fill="#000"/>
<rect x="189" y="434" width="6" height="1" fill="#000"/>
<rect x="192" y="431" width="3" height="1" fill="#000"/>
<rect x="192" y="427" width="3" height="1" fill="#000"/>
<rect x="192" y="423" width="3" height="1" fill="#000"/>
<rect x="192" y="419" width="3" height="1" fill="#000"/>
<rect x="189" y="415" width="6" height="1" fill="#000"/>
<rect x="192" y="411" width="3" height="1" fill="#000"/>
<rect x="192" y="407" width="3" height="1" fill="#000"/>
<rect x="192" y="403" width="3" height="1" fill="#000"/>
<rect x="192" y="400" width="3" height="1" fill="#000"/>
<rect x="189" y="396" width="6" height="1" fill="#000"/>
<rect x="192" y="392" width="3" height="1" fill="#000"/>
<rect x="192" y="388" width="3" height="1" fill="#000"/>
<rect x="192" y="384" width="3" height="1" fill="#000"/>
<rect x="192" y="380" width="3" height="1" fill="#000"/>
<rect x="189" y="376" width="6" height="1" fill="#000"/>
<rect x="192" y="373" width="3" height="1" fill="#000"/>
<rect x="192" y="369" width="3" height="1" fill="#000"/>
<rect x="192" y="365" width="3" height="1" fill="#000"/>
<rect x="192" y="361" width="3" height="1" fill="#000"/>
<rect x="189" y="357" width="6" height="1" fill="#000"/>
<rect x="192" y="353" width="3" height="1" fill="#000"/>
<rect x="192" y="349" width="3" height="1" fill="#000"/>
<rect x="192" y="345" width="3" height="1" fill="#000"/>
<rect x="192" y="342" width="3" height="1" fill="#000"/>
<rect x="189" y="338" width="6" height="1" fill="#000"/>
<rect x="192" y="334" width="3" height="1" fill="#000"/>
<rect x="192" y="330" width="3" height="1" fill="#000"/>
<rect x="192" y="326" width="3" height="1" fill="#000"/>
<rect x="192" y="322" width="3" height="1" fill="#000"/>
<rect x="189" y="318" width="6" height="1" fill="#000"/>
<rect x="192" y="315" width="3" height="1" fill="#000"/>
<rect x="192" y="311" width="3" height="1" fill="#000"/>
<rect x="192" y="307" width="3" height="1" fill="#000"/>
<rect x="192" y="303" width="3" height="1" fill="#000"/>
<rect x="189" y="299" width="6" height="1" fill="#000"/>
<rect x="192" y="295" width="3" height="1" fill="#000"/>
<rect x="192" y="291" width="3" height="1" fill="#000"/>
<rect x="192" y="287" width="3" height="1" fill="#000"/>
<rect x="192" y="284" width="3" height="1" fill="#000"/>
<rect x="189" y="280" width="6" height="1" fill="#000"/>
<rect x="192" y="276" width="3" height="1" fill="#000"/>
<rect x="192" y="272" width="3" height="1" fill="#000"/>
<rect x="192" y="268" width="3" height="1" fill="#000"/>
<rect x="192" y="264" width="3" height="1" fill="#000"/>
<rect x="189" y="260" width="6" height="1" fill="#000"/>
<rect x="192" y="257" width="3" height="1" fill="#000"/>
<rect x="192" y="253" width="3" height="1" fill="#000"/>
<rect x="192" y="249" width="3" height="1" fill="#000"/>
<rect x="192" y="245" width="3" height="1" fill="#000"/>
<rect x="189" y="241" width="6" height="1" fill="#000"/>
<rect x="192" y="237" width="3" height="1" fill="#000"/>
<rect x="192" y="233" width="3" height="1" fill="#000"/>
<rect x="192" y="229" width="3" height="1" fill="#000"/>
<rect x="192" y="226" width="3" height="1" fill="#000"/>
<rect x="189" y="222" width="6" height="1" fill="#000"/>
<rect x="192" y="218" width="3" height="1" fill="#000"/>
<rect x="192" y="214" width="3" height="1" fill="#000"/>
<rect x="192" y="210" width="3" height="1" fill="#000"/>
<rect x="192" y="206" width="3" height="1" fill="#000"/>
<rect x="189" y="202" width="6" height="1" fill="#000"/>
<rect x="192" y="199" width="3" height="1" fill="#000"/>
<rect x="192" y="195" width="3" height="1" fill="#000"/>
<rect x="192" y="191" width="3" height="1" fill="#000"/>
<rect x="192" y="187" width="3" height="1" fill="#000"/>
<rect x="189" y="183" width="6" height="1" fill="#000"/>
<rect x="192" y="179" width="3" height="1" fill="#000"/>
<rect x="192" y="175" width="3" height="1" fill="#000"/>
<rect x="192" y="171" width="3" height="1" fill="#000"/>
<rect x="192" y="168" width="3" height="1" fill="#000"/>
<rect x="189" y="164" width="6" height="1" fill="#000"/>
<rect x="192" y="160" width="3" height="1" fill="#000"/>
<rect x="192" y="156" width="3" height="1" fill="#000"/>
<rect x="192" y="152" width="3" height="1" fill="#000"/>
<rect x="192" y="148" width="3" height="1" fill="#000"/>
<rect x="189" y="144" width="6" height="1" fill="#000"/>
<rect x="192" y="140" width="3" height="1" fill="#000"/>
<rect x="192" y="137" width="3" height="1" fill="#000"/>
<rect x="192" y="133" width="3" height="1" fill="#000"/>
<rect x="192" y="129" width="3" height="1" fill="#000"/>
<rect x="189" y="125" width="6" height="1" fill="#000"/>
<rect x="192" y="121" width="3" height="1" fill="#000"/>
<rect x="192" y="117" width="3" height="1" fill="#000"/>
<rect x="192" y="113" width="3" height="1" fill="#000"/>
<rect x="192" y="110" width="3" height="1" fill="#000"/>
<rect x="189" y="106" width="6" height="1" fill="#000"/>
<rect x="192" y="102" width="3" height="1" fill="#000"/>
<rect x="192" y="98" width="3" height="1" fill="#000"/>
<rect x="192" y="94" width="3" height="1" fill="#000"/>
<rect x="192" y="90" width="3" height="1" fill="#000"/>
<rect x="189" y="86" width="6" height="1" fill="#000"/>
<rect x="192" y="82" width="3" height="1" fill="#000"/>
<rect x="192" y="79" width="3" height="1" fill="#000"/>
<rect x="192" y="75" width="3" height="1" fill="#000"/>
<rect x="192" y="71" width="3" height="1" fill="#000"/>
<rect x="189" y="67" width="6" height="1" fill="#000"/>
<rect x="192" y="63" width="3" height="1" fill="#000"/>
<rect x="192" y="59" width="3" height="1" fill="#000"/>
<rect x="189" y="56" width="6" height="1" fill="#000"/>
<rect x="195" y="520" width="1" height="6" fill="#000"/>
<rect x="219" y="520" width="1" height="6" fill="#000"/>
<rect x="244" y="520" width="1" height="6" fill="#000"/>
<rect x="268" y="520" width="1" height="6" fill="#000"/>
<rect x="293" y="520" width="1" height="6" fill="#000"/>
<rect x="318" y="520" width="1" height="6" fill="#000"/>
<rect x="342" y="520" width="1" height="6" fill="#000"/>
<rect x="367" y="520" width="1" height="6" fill="#000"/>
<rect x="391" y="520" width="1" height="6" fill="#000"/>
<rect x="416" y="520" width="1" height="6" fill="#000"/>
<rect x="441" y="520" width="1" height="6" fill="#000"/>
<rect x="465" y="520" width="1" height="6" fill="#000"/>
<rect x="490" y="520" width="1" height="6" fill="#000"/>
<rect x="514" y="520" width="1" height="6" fill="#000"/>
<rect x="539" y="520" width="1" height="6" fill="#000"/>
<rect x="564" y="520" width="1" height="6" fill="#000"/>
<rect x="588" y="520" width="1" height="6" fill="#000"/>
<rect x="613" y="520" width="1" height="6" fill="#000"/>
<rect x="637" y="520" width="1" height="6" fill="#000"/>
<rect x="214" y="522" width="5" height="1" fill="#000"/>
<rect x="258" y="522" width="7" height="1" fill="#000"/>
<rect x="283" y="522" width="5" height="1" fill="#000"/>
<rect x="343" y="522" width="5" height="1" fill="#000"/>
<rect x="515" y="522" width="8" height="1" fill="#000"/>
<text transform="translate(186.2,61.0) scale(1.066,1)" font-family="DejaVu Serif, serif" font-weight="bold" font-size="12.2" text-rendering="geometricPrecision" text-anchor="end">1280</text>
<text transform="translate(186.2,91.0) scale(1.066,1)" font-family="DejaVu Serif, serif" font-weight="bold" font-size="12.2" text-rendering="geometricPrecision" text-anchor="end">1200</text>
<text transform="translate(186.2,130.0) scale(1.066,1)" font-family="DejaVu Serif, serif" font-weight="bold" font-size="12.2" text-rendering="geometricPrecision" text-anchor="end">1100</text>
<text transform="translate(186.2,169.0) scale(1.066,1)" font-family="DejaVu Serif, serif" font-weight="bold" font-size="12.2" text-rendering="geometricPrecision" text-anchor="end">1000</text>
<text transform="translate(186.2,207.0) scale(1.066,1)" font-family="DejaVu Serif, serif" font-weight="bold" font-size="12.2" text-rendering="geometricPrecision" text-anchor="end">900</text>
<text transform="translate(186.2,246.0) scale(1.066,1)" font-family="DejaVu Serif, serif" font-weight="bold" font-size="12.2" text-rendering="geometricPrecision" text-anchor="end">800</text>
<text transform="translate(186.2,285.0) scale(1.066,1)" font-family="DejaVu Serif, serif" font-weight="bold" font-size="12.2" text-rendering="geometricPrecision" text-anchor="end">700</text>
<text transform="translate(186.2,323.0) scale(1.066,1)" font-family="DejaVu Serif, serif" font-weight="bold" font-size="12.2" text-rendering="geometricPrecision" text-anchor="end">600</text>
<text transform="translate(186.2,362.0) scale(1.066,1)" font-family="DejaVu Serif, serif" font-weight="bold" font-size="12.2" text-rendering="geometricPrecision" text-anchor="end">500</text>
<text transform="translate(186.2,401.0) scale(1.066,1)" font-family="DejaVu Serif, serif" font-weight="bold" font-size="12.2" text-rendering="geometricPrecision" text-anchor="end">400</text>
<text transform="translate(186.2,439.0) scale(1.066,1)" font-family="DejaVu Serif, serif" font-weight="bold" font-size="12.2" text-rendering="geometricPrecision" text-anchor="end">300</text>
<text transform="translate(186.2,478.0) scale(1.066,1)" font-family="DejaVu Serif, serif" font-weight="bold" font-size="12.2" text-rendering="geometricPrecision" text-anchor="end">200</text>
<text transform="translate(186.2,524.0) scale(1.066,1)" font-family="DejaVu Serif, serif" font-weight="bold" font-size="12.2" text-rendering="geometricPrecision" text-anchor="end">80</text>
<text transform="translate(219.5,540.7) scale(1.066,1)" font-family="DejaVu Serif, serif" font-weight="bold" font-size="12.2" text-rendering="geometricPrecision" text-anchor="middle">2</text>
<text transform="translate(268.5,540.7) scale(1.066,1)" font-family="DejaVu Serif, serif" font-weight="bold" font-size="12.2" text-rendering="geometricPrecision" text-anchor="middle">4</text>
<text transform="translate(318.5,540.7) scale(1.066,1)" font-family="DejaVu Serif, serif" font-weight="bold" font-size="12.2" text-rendering="geometricPrecision" text-anchor="middle">6</text>
<text transform="translate(367.5,540.7) scale(1.066,1)" font-family="DejaVu Serif, serif" font-weight="bold" font-size="12.2" text-rendering="geometricPrecision" text-anchor="middle">8</text>
<text transform="translate(416.5,540.7) scale(1.066,1)" font-family="DejaVu Serif, serif" font-weight="bold" font-size="12.2" text-rendering="geometricPrecision" text-anchor="middle">10</text>
<text transform="translate(465.5,540.7) scale(1.066,1)" font-family="DejaVu Serif, serif" font-weight="bold" font-size="12.2" text-rendering="geometricPrecision" text-anchor="middle">12</text>
<text transform="translate(514.5,540.7) scale(1.066,1)" font-family="DejaVu Serif, serif" font-weight="bold" font-size="12.2" text-rendering="geometricPrecision" text-anchor="middle">14</text>
<text transform="translate(564.5,540.7) scale(1.066,1)" font-family="DejaVu Serif, serif" font-weight="bold" font-size="12.2" text-rendering="geometricPrecision" text-anchor="middle">16</text>
<text transform="translate(613.5,540.7) scale(1.066,1)" font-family="DejaVu Serif, serif" font-weight="bold" font-size="12.2" text-rendering="geometricPrecision" text-anchor="middle">18</text>
<rect x="644" y="55" width="50" height="17" fill="#8c8c8c"/>
<text transform="translate(645,68.2) scale(1.11,1)" font-family="DejaVu Serif, serif" font-weight="bold" font-size="12" fill="#fff" text-rendering="geometricPrecision">NoVal</text>
<rect x="644" y="73" width="50" height="17" fill="#12dcf6"/>
<text transform="translate(645,86.2) scale(1.11,1)" font-family="DejaVu Serif, serif" font-weight="bold" font-size="12" fill="#fff" text-rendering="geometricPrecision">NNE</text>
<rect x="644" y="91" width="50" height="17" fill="#44a8f8"/>
<text transform="translate(645,104.2) scale(1.11,1)" font-family="DejaVu Serif, serif" font-weight="bold" font-size="12" fill="#fff" text-rendering="geometricPrecision">E</text>
<rect x="644" y="109" width="50" height="17" fill="#a0009e"/>
<text transform="translate(645,122.2) scale(1.11,1)" font-family="DejaVu Serif, serif" font-weight="bold" font-size="12" fill="#fff" text-rendering="geometricPrecision">W</text>
<rect x="644" y="127" width="50" height="17" fill="#fc3a8a"/>
<text transform="translate(645,140.2) scale(1.11,1)" font-family="DejaVu Serif, serif" font-weight="bold" font-size="12" fill="#fff" text-rendering="geometricPrecision">Vo-</text>
<rect x="644" y="145" width="50" height="17" fill="#fc0030"/>
<text transform="translate(645,158.2) scale(1.11,1)" font-family="DejaVu Serif, serif" font-weight="bold" font-size="12" fill="#fff" text-rendering="geometricPrecision">Vo+</text>
<rect x="644" y="163" width="50" height="17" fill="#f6b2aa"/>
<text transform="translate(645,176.2) scale(1.11,1)" font-family="DejaVu Serif, serif" font-weight="bold" font-size="12" fill="#fff" text-rendering="geometricPrecision">SSW</text>
<rect x="644" y="181" width="50" height="17" fill="#007c00"/>
<text transform="translate(645,194.2) scale(1.11,1)" font-family="DejaVu Serif, serif" font-weight="bold" font-size="12" fill="#fff" text-rendering="geometricPrecision">X-</text>
<rect x="644" y="199" width="50" height="17" fill="#80b266"/>
<text transform="translate(645,212.2) scale(1.11,1)" font-family="DejaVu Serif, serif" font-weight="bold" font-size="12" fill="#fff" text-rendering="geometricPrecision">X+</text>
<rect x="644" y="217" width="50" height="17" fill="#d8d400"/>
<text transform="translate(645,230.2) scale(1.11,1)" font-family="DejaVu Serif, serif" font-weight="bold" font-size="12" fill="#fff" text-rendering="geometricPrecision">SSE</text>
<rect x="644" y="235" width="50" height="17" fill="#2a00e4"/>
<text transform="translate(645,248.2) scale(1.11,1)" font-family="DejaVu Serif, serif" font-weight="bold" font-size="12" fill="#fff" text-rendering="geometricPrecision">NNW</text>
<text x="1.5" y="569.2" font-family="DejaVu Sans Mono, monospace" font-size="12.4" xml:space="preserve" textLength="392.0" lengthAdjust="spacingAndGlyphs">D     100  200  400  600  800 1000 1500 3000 [km]</text>
<text x="1.5" y="581.8" font-family="DejaVu Sans Mono, monospace" font-size="12.4" xml:space="preserve" textLength="400.0" lengthAdjust="spacingAndGlyphs">MUF   4.2  4.2  4.3  4.6  4.9  5.5  6.9 10.7 [MHz]</text>
<rect x="37" y="599" width="7" height="1" fill="#000"/>
<text x="1.8" y="597.5" font-family="DejaVu Sans Mono, monospace" font-size="11.5" xml:space="preserve" textLength="696.0" lengthAdjust="spacingAndGlyphs">so148_2025287003500.rsf / 720fx512h 25 kHz 2.5 km / DPS-4D SO148 147 / 47.6 N 16.7 E Ion2Png 1.3.20</text>
<rect x="239" y="56" width="1" height="5" fill="#a0009e"/>
<rect x="239" y="61" width="1" height="1" fill="#2a00e4"/>
<rect x="239" y="63" width="1" height="1" fill="#2a00e4"/>
<rect x="239" y="65" width="1" height="1" fill="#2a00e4"/>
<rect x="239" y="67" width="1" height="1" fill="#2a00e4"/>
<rect x="239" y="69" width="1" height="1" fill="#2a00e4"/>
<rect x="239" y="71" width="1" height="1" fill="#2a00e4"/>
<rect x="239" y="73" width="1" height="1" fill="#2a00e4"/>
<rect x="239" y="75" width="1" height="1" fill="#2a00e4"/>
<rect x="239" y="77" width="1" height="1" fill="#2a00e4"/>
<rect x="239" y="79" width="1" height="1" fill="#2a00e4"/>
<rect x="239" y="81" width="1" height="1" fill="#2a00e4"/>
<rect x="239" y="83" width="1" height="1" fill="#2a00e4"/>
<rect x="239" y="69" width="1" height="6" fill="#2a00e4"/>
<rect x="239" y="77" width="1" height="4" fill="#2a00e4"/>
<rect x="239" y="76" width="1" height="1" fill="#a0009e"/>
<rect x="239" y="80" width="1" height="1" fill="#a0009e"/>
<rect x="239" y="92" width="1" height="1" fill="#2a00e4"/>
<rect x="239" y="95" width="1" height="18" fill="#2a00e4"/>
<rect x="237" y="98" width="1" height="1" fill="#a0009e"/>
<rect x="237" y="105" width="1" height="3" fill="#a0009e"/>
<rect x="237" y="113" width="1" height="2" fill="#a0009e"/>
<rect x="238" y="117" width="1" height="1" fill="#a0009e"/>
<rect x="253" y="86" width="1" height="1" fill="#2a00e4"/>
<rect x="253" y="88" width="1" height="1" fill="#2a00e4"/>
<rect x="253" y="90" width="1" height="1" fill="#2a00e4"/>
<rect x="253" y="92" width="1" height="1" fill="#2a00e4"/>
<rect x="253" y="94" width="1" height="1" fill="#2a00e4"/>
<rect x="253" y="96" width="1" height="1" fill="#2a00e4"/>
<rect x="253" y="98" width="1" height="1" fill="#2a00e4"/>
<rect x="253" y="100" width="1" height="1" fill="#2a00e4"/>
<rect x="253" y="102" width="1" height="1" fill="#2a00e4"/>
<rect x="250" y="102" width="1" height="1" fill="#2a00e4"/>
<rect x="258" y="95" width="1" height="2" fill="#d8d400"/>
<rect x="266" y="88" width="1" height="1" fill="#fc0030"/>
<rect x="269" y="78" width="1" height="1" fill="#f6b2aa"/>
<rect x="211" y="85" width="1" height="1" fill="#f6b2aa"/>
<rect x="206" y="64" width="1" height="1" fill="#a0009e"/>
<rect x="210" y="102" width="1" height="1" fill="#44a8f8"/>
<rect x="210" y="105" width="1" height="1" fill="#44a8f8"/>
<rect x="211" y="106" width="1" height="1" fill="#a0009e"/>
<rect x="256" y="129" width="1" height="2" fill="#fc3a8a"/>
<rect x="255" y="132" width="2" height="2" fill="#fc0030"/>
<rect x="256" y="134" width="1" height="1" fill="#fc3a8a"/>
<rect x="255" y="137" width="1" height="1" fill="#f6b2aa"/>
<rect x="254" y="138" width="1" height="2" fill="#fc3a8a"/>
<rect x="252" y="145" width="1" height="1" fill="#fc3a8a"/>
<rect x="251" y="147" width="1" height="1" fill="#fc0030"/>
<rect x="248" y="157" width="1" height="1" fill="#fc3a8a"/>
<rect x="234" y="163" width="1" height="1" fill="#2a00e4"/>
<rect x="244" y="164" width="2" height="2" fill="#fc0030"/>
<rect x="243" y="166" width="1" height="1" fill="#fc3a8a"/>
<rect x="242" y="168" width="1" height="3" fill="#fc0030"/>
<rect x="271" y="173" width="1" height="1" fill="#fc0030"/>
<rect x="271" y="200" width="1" height="1" fill="#fc3a8a"/>
<rect x="271" y="203" width="1" height="1" fill="#fc3a8a"/>
<rect x="272" y="205" width="1" height="2" fill="#fc0030"/>
<rect x="271" y="210" width="1" height="1" fill="#fc3a8a"/>
<rect x="271" y="212" width="1" height="1" fill="#fc3a8a"/>
<rect x="270" y="215" width="3" height="2" fill="#fc0030"/>
<rect x="270" y="216" width="1" height="1" fill="#44a8f8"/>
<rect x="271" y="226" width="1" height="1" fill="#fc0030"/>
<rect x="268" y="231" width="1" height="1" fill="#fc3a8a"/>
<rect x="268" y="233" width="1" height="1" fill="#fc3a8a"/>
<rect x="266" y="241" width="1" height="4" fill="#fc3a8a"/>
<rect x="264" y="244" width="1" height="8" fill="#fc0030"/>
<rect x="266" y="247" width="1" height="1" fill="#12dcf6"/>
<rect x="266" y="250" width="1" height="1" fill="#fc3a8a"/>
<rect x="242" y="244" width="1" height="1" fill="#fc0030"/>
<rect x="248" y="244" width="1" height="1" fill="#d8d400"/>
<rect x="248" y="245" width="1" height="4" fill="#fc0030"/>
<rect x="249" y="247" width="1" height="1" fill="#fc0030"/>
<rect x="245" y="253" width="1" height="1" fill="#fc3a8a"/>
<rect x="230" y="221" width="1" height="1" fill="#2a00e4"/>
<rect x="205" y="248" width="1" height="1" fill="#44a8f8"/>
<rect x="245" y="253" width="1" height="2" fill="#fc3a8a"/>
<rect x="240" y="299" width="1" height="1" fill="#fc3a8a"/>
<rect x="241" y="298" width="1" height="1" fill="#fc3a8a"/>
<rect x="241" y="297" width="1" height="1" fill="#fc3a8a"/>
<rect x="242" y="296" width="1" height="1" fill="#fc3a8a"/>
<rect x="243" y="293" width="1" height="1" fill="#fc3a8a"/>
<rect x="246" y="290" width="1" height="1" fill="#fc3a8a"/>
<rect x="247" y="289" width="1" height="1" fill="#fc3a8a"/>
<rect x="247" y="288" width="1" height="1" fill="#fc3a8a"/>
<rect x="248" y="287" width="1" height="1" fill="#fc3a8a"/>
<rect x="248" y="286" width="1" height="1" fill="#fc3a8a"/>
<rect x="249" y="284" width="1" height="1" fill="#fc3a8a"/>
<rect x="250" y="283" width="1" height="1" fill="#fc3a8a"/>
<rect x="251" y="282" width="1" height="1" fill="#fc3a8a"/>
<rect x="251" y="281" width="1" height="1" fill="#fc3a8a"/>
<rect x="252" y="280" width="1" height="1" fill="#fc3a8a"/>
<rect x="253" y="278" width="1" height="1" fill="#fc3a8a"/>
<rect x="253" y="277" width="1" height="1" fill="#fc3a8a"/>
<rect x="254" y="276" width="1" height="1" fill="#fc3a8a"/>
<rect x="254" y="274" width="1" height="1" fill="#fc3a8a"/>
<rect x="255" y="273" width="1" height="1" fill="#fc3a8a"/>
<rect x="255" y="272" width="1" height="1" fill="#fc3a8a"/>
<rect x="256" y="271" width="1" height="1" fill="#fc3a8a"/>
<rect x="256" y="270" width="1" height="1" fill="#fc3a8a"/>
<rect x="256" y="269" width="1" height="1" fill="#fc3a8a"/>
<rect x="257" y="268" width="1" height="1" fill="#fc3a8a"/>
<rect x="257" y="267" width="1" height="1" fill="#fc3a8a"/>
<rect x="258" y="266" width="1" height="1" fill="#fc3a8a"/>
<rect x="258" y="265" width="1" height="1" fill="#fc3a8a"/>
<rect x="241" y="300" width="1" height="1" fill="#fc0030"/>
<rect x="241" y="299" width="1" height="1" fill="#fc0030"/>
<rect x="242" y="298" width="1" height="1" fill="#fc0030"/>
<rect x="243" y="296" width="1" height="1" fill="#fc0030"/>
<rect x="243" y="295" width="1" height="1" fill="#fc0030"/>
<rect x="244" y="294" width="1" height="1" fill="#fc0030"/>
<rect x="245" y="292" width="1" height="1" fill="#fc0030"/>
<rect x="246" y="291" width="1" height="1" fill="#fc0030"/>
<rect x="248" y="289" width="1" height="1" fill="#fc0030"/>
<rect x="249" y="286" width="1" height="1" fill="#fc0030"/>
<rect x="250" y="285" width="1" height="1" fill="#fc0030"/>
<rect x="253" y="280" width="1" height="1" fill="#fc0030"/>
<rect x="253" y="279" width="1" height="1" fill="#fc0030"/>
<rect x="254" y="277" width="1" height="1" fill="#fc0030"/>
<rect x="255" y="276" width="1" height="1" fill="#fc0030"/>
<rect x="255" y="275" width="1" height="1" fill="#fc0030"/>
<rect x="255" y="274" width="1" height="1" fill="#fc0030"/>
<rect x="257" y="271" width="1" height="1" fill="#fc0030"/>
<rect x="258" y="268" width="1" height="1" fill="#fc0030"/>
<rect x="258" y="267" width="1" height="1" fill="#fc0030"/>
<rect x="240" y="297" width="1" height="1" fill="#fc3a8a"/>
<rect x="240" y="296" width="1" height="1" fill="#fc3a8a"/>
<rect x="241" y="295" width="1" height="1" fill="#fc3a8a"/>
<rect x="242" y="293" width="1" height="1" fill="#fc3a8a"/>
<rect x="247" y="286" width="1" height="1" fill="#fc3a8a"/>
<rect x="247" y="285" width="1" height="1" fill="#fc3a8a"/>
<rect x="248" y="284" width="1" height="1" fill="#fc3a8a"/>
<rect x="251" y="279" width="1" height="1" fill="#fc3a8a"/>
<rect x="251" y="278" width="1" height="1" fill="#fc3a8a"/>
<rect x="252" y="277" width="1" height="1" fill="#fc3a8a"/>
<rect x="253" y="275" width="1" height="1" fill="#fc3a8a"/>
<rect x="255" y="270" width="1" height="1" fill="#fc3a8a"/>
<rect x="240" y="299" width="2" height="2" fill="#fc0030"/>
<rect x="241" y="296" width="2" height="2" fill="#fc0030"/>
<rect x="242" y="294" width="1" height="1" fill="#fc0030"/>
<rect x="246" y="289" width="1" height="1" fill="#12dcf6"/>
<rect x="248" y="286" width="2" height="2" fill="#fc3a8a"/>
<rect x="250" y="283" width="1" height="1" fill="#12dcf6"/>
<rect x="251" y="281" width="1" height="1" fill="#fc0030"/>
<rect x="254" y="273" width="3" height="3" fill="#fc0030"/>
<rect x="255" y="271" width="2" height="2" fill="#fc0030"/>
<rect x="255" y="274" width="1" height="1" fill="#d8d400"/>
<rect x="257" y="268" width="1" height="1" fill="#fc3a8a"/>
<rect x="258" y="265" width="1" height="1" fill="#fc3a8a"/>
<rect x="253" y="276" width="1" height="1" fill="#fc3a8a"/>
<rect x="241" y="300" width="1" height="1" fill="#2a00e4"/>
<rect x="224" y="305" width="1" height="1" fill="#2a00e4"/>
<rect x="255" y="315" width="1" height="1" fill="#fc3a8a"/>
<rect x="257" y="312" width="1" height="1" fill="#fc3a8a"/>
<rect x="257" y="311" width="1" height="1" fill="#fc3a8a"/>
<rect x="258" y="310" width="1" height="1" fill="#fc3a8a"/>
<rect x="255" y="314" width="1" height="1" fill="#d8d400"/>
<rect x="264" y="281" width="2" height="2" fill="#007c00"/>
<rect x="266" y="277" width="1" height="1" fill="#2a00e4"/>
<rect x="271" y="267" width="1" height="3" fill="#007c00"/>
<rect x="271" y="271" width="1" height="1" fill="#007c00"/>
<rect x="271" y="262" width="1" height="1" fill="#2a00e4"/>
<rect x="274" y="262" width="1" height="1" fill="#007c00"/>
<rect x="266" y="314" width="1" height="1" fill="#007c00"/>
<rect x="271" y="311" width="1" height="1" fill="#80b266"/>
<rect x="266" y="319" width="1" height="1" fill="#007c00"/>
<rect x="254" y="316" width="1" height="1" fill="#fc3a8a"/>
<rect x="254" y="317" width="1" height="1" fill="#fc3a8a"/>
<rect x="253" y="318" width="1" height="1" fill="#fc3a8a"/>
<rect x="253" y="319" width="1" height="1" fill="#fc3a8a"/>
<rect x="252" y="320" width="1" height="1" fill="#fc3a8a"/>
<rect x="252" y="321" width="1" height="1" fill="#fc3a8a"/>
<rect x="250" y="323" width="1" height="1" fill="#fc3a8a"/>
<rect x="250" y="324" width="1" height="1" fill="#fc3a8a"/>
<rect x="249" y="325" width="1" height="1" fill="#fc3a8a"/>
<rect x="249" y="326" width="1" height="1" fill="#fc3a8a"/>
<rect x="247" y="328" width="1" height="1" fill="#fc3a8a"/>
<rect x="246" y="331" width="1" height="1" fill="#fc3a8a"/>
<rect x="245" y="332" width="1" height="1" fill="#fc3a8a"/>
<rect x="245" y="326" width="1" height="2" fill="#fc3a8a"/>
<rect x="246" y="328" width="2" height="2" fill="#fc3a8a"/>
<rect x="244" y="330" width="3" height="2" fill="#fc0030"/>
<rect x="245" y="332" width="2" height="2" fill="#fc0030"/>
<rect x="245" y="326" width="1" height="1" fill="#2a00e4"/>
<rect x="240" y="334" width="1" height="1" fill="#fc0030"/>
<rect x="242" y="336" width="1" height="1" fill="#d8d400"/>
<rect x="243" y="335" width="1" height="1" fill="#12dcf6"/>
<rect x="254" y="331" width="1" height="1" fill="#007c00"/>
<rect x="254" y="334" width="1" height="1" fill="#12dcf6"/>
<rect x="265" y="320" width="2" height="2" fill="#007c00"/>
<rect x="266" y="318" width="1" height="1" fill="#007c00"/>
<rect x="247" y="349" width="1" height="1" fill="#fc3a8a"/>
<rect x="247" y="346" width="1" height="1" fill="#fc3a8a"/>
<rect x="243" y="344" width="1" height="1" fill="#fc3a8a"/>
<rect x="247" y="348" width="1" height="1" fill="#fc3a8a"/>
<rect x="242" y="343" width="1" height="1" fill="#fc0030"/>
<rect x="244" y="344" width="1" height="1" fill="#fc3a8a"/>
<rect x="240" y="347" width="1" height="1" fill="#fc0030"/>
<rect x="247" y="348" width="1" height="1" fill="#fc3a8a"/>
<rect x="242" y="347" width="1" height="1" fill="#fc3a8a"/>
<rect x="241" y="343" width="1" height="1" fill="#fc3a8a"/>
<rect x="243" y="344" width="1" height="1" fill="#fc3a8a"/>
<rect x="240" y="349" width="1" height="1" fill="#fc0030"/>
<rect x="245" y="346" width="1" height="1" fill="#fc3a8a"/>
<rect x="243" y="347" width="1" height="1" fill="#fc3a8a"/>
<rect x="242" y="348" width="1" height="1" fill="#2a00e4"/>
<rect x="245" y="346" width="1" height="1" fill="#2a00e4"/>
<rect x="248" y="346" width="1" height="1" fill="#2a00e4"/>
<rect x="236" y="346" width="1" height="1" fill="#fc0030"/>
<rect x="248" y="345" width="1" height="1" fill="#007c00"/>
<rect x="252" y="347" width="1" height="1" fill="#007c00"/>
<rect x="254" y="346" width="1" height="1" fill="#12dcf6"/>
<rect x="256" y="342" width="1" height="1" fill="#007c00"/>
<rect x="240" y="355" width="1" height="1" fill="#007c00"/>
<rect x="245" y="356" width="1" height="1" fill="#12dcf6"/>
<rect x="248" y="356" width="1" height="1" fill="#007c00"/>
<rect x="243" y="358" width="1" height="1" fill="#007c00"/>
<rect x="221" y="358" width="1" height="1" fill="#fc0030"/>
<rect x="256" y="373" width="1" height="1" fill="#fc3a8a"/>
<rect x="254" y="375" width="1" height="1" fill="#fc3a8a"/>
<rect x="255" y="376" width="1" height="1" fill="#fc3a8a"/>
<rect x="258" y="376" width="1" height="1" fill="#fc0030"/>
<rect x="257" y="369" width="1" height="1" fill="#fc0030"/>
<rect x="256" y="374" width="1" height="1" fill="#fc0030"/>
<rect x="255" y="372" width="1" height="1" fill="#fc3a8a"/>
<rect x="257" y="372" width="1" height="1" fill="#fc3a8a"/>
<rect x="257" y="374" width="1" height="1" fill="#f6b2aa"/>
<rect x="253" y="369" width="1" height="1" fill="#fc3a8a"/>
<rect x="258" y="377" width="1" height="1" fill="#fc0030"/>
<rect x="253" y="375" width="1" height="1" fill="#f6b2aa"/>
<rect x="253" y="375" width="1" height="1" fill="#fc0030"/>
<rect x="257" y="374" width="1" height="1" fill="#fc0030"/>
<rect x="249" y="375" width="1" height="1" fill="#2a00e4"/>
<rect x="258" y="371" width="1" height="1" fill="#12dcf6"/>
<rect x="256" y="360" width="1" height="1" fill="#a0009e"/>
<rect x="255" y="367" width="1" height="1" fill="#fc3a8a"/>
<rect x="271" y="365" width="1" height="3" fill="#2a00e4"/>
<rect x="272" y="377" width="1" height="1" fill="#fc0030"/>
<rect x="275" y="375" width="1" height="1" fill="#fc0030"/>
<rect x="271" y="373" width="1" height="1" fill="#fc0030"/>
<rect x="270" y="374" width="1" height="1" fill="#fc3a8a"/>
<rect x="270" y="381" width="1" height="1" fill="#fc0030"/>
<rect x="275" y="368" width="1" height="1" fill="#fc3a8a"/>
<rect x="271" y="370" width="1" height="1" fill="#fc3a8a"/>
<rect x="273" y="381" width="1" height="1" fill="#fc0030"/>
<rect x="272" y="379" width="1" height="1" fill="#fc0030"/>
<rect x="273" y="381" width="1" height="1" fill="#fc3a8a"/>
<rect x="273" y="378" width="1" height="1" fill="#fc3a8a"/>
<rect x="272" y="376" width="1" height="1" fill="#a0009e"/>
<rect x="274" y="372" width="1" height="1" fill="#a0009e"/>
<rect x="275" y="382" width="1" height="1" fill="#fc0030"/>
<rect x="272" y="374" width="1" height="1" fill="#fc0030"/>
<rect x="274" y="379" width="1" height="1" fill="#fc3a8a"/>
<rect x="272" y="371" width="1" height="4" fill="#007c00"/>
<rect x="266" y="373" width="1" height="1" fill="#2a00e4"/>
<rect x="266" y="376" width="1" height="3" fill="#007c00"/>
<rect x="264" y="378" width="1" height="1" fill="#007c00"/>
<rect x="241" y="385" width="1" height="1" fill="#fc0030"/>
<rect x="242" y="380" width="1" height="1" fill="#12dcf6"/>
<rect x="243" y="377" width="1" height="1" fill="#fc3a8a"/>
<rect x="243" y="383" width="1" height="1" fill="#fc3a8a"/>
<rect x="244" y="377" width="1" height="1" fill="#12dcf6"/>
<rect x="242" y="381" width="1" height="1" fill="#12dcf6"/>
<rect x="247" y="380" width="1" height="1" fill="#12dcf6"/>
<rect x="247" y="384" width="1" height="1" fill="#fc0030"/>
<rect x="242" y="384" width="1" height="1" fill="#12dcf6"/>
<rect x="242" y="376" width="1" height="1" fill="#fc3a8a"/>
<rect x="241" y="385" width="1" height="1" fill="#12dcf6"/>
<rect x="241" y="377" width="1" height="1" fill="#12dcf6"/>
<rect x="242" y="382" width="1" height="1" fill="#fc3a8a"/>
<rect x="245" y="383" width="1" height="1" fill="#fc0030"/>
<rect x="241" y="377" width="1" height="1" fill="#fc0030"/>
<rect x="245" y="381" width="1" height="1" fill="#fc0030"/>
<rect x="242" y="376" width="1" height="1" fill="#12dcf6"/>
<rect x="242" y="373" width="1" height="1" fill="#fc3a8a"/>
<rect x="236" y="381" width="1" height="1" fill="#2a00e4"/>
<rect x="249" y="379" width="1" height="1" fill="#2a00e4"/>
<rect x="255" y="384" width="3" height="1" fill="#007c00"/>
<rect x="221" y="384" width="1" height="1" fill="#12dcf6"/>
<rect x="275" y="64" width="1" height="1" fill="#a0009e"/>
<rect x="310" y="56" width="1" height="4" fill="#007c00"/>
<rect x="334" y="56" width="1" height="12" fill="#d8d400"/>
<rect x="335" y="56" width="1" height="14" fill="#fc3a8a"/>
<rect x="334" y="69" width="1" height="1" fill="#007c00"/>
<rect x="334" y="71" width="1" height="3" fill="#fc0030"/>
<rect x="334" y="74" width="1" height="1" fill="#80b266"/>
<rect x="338" y="60" width="1" height="1" fill="#44a8f8"/>
<rect x="338" y="67" width="1" height="1" fill="#44a8f8"/>
<rect x="338" y="70" width="1" height="1" fill="#44a8f8"/>
<rect x="338" y="72" width="1" height="1" fill="#44a8f8"/>
<rect x="338" y="76" width="1" height="1" fill="#44a8f8"/>
<rect x="338" y="78" width="1" height="1" fill="#44a8f8"/>
<rect x="338" y="79" width="1" height="1" fill="#44a8f8"/>
<rect x="338" y="82" width="1" height="1" fill="#44a8f8"/>
<rect x="338" y="83" width="1" height="1" fill="#44a8f8"/>
<rect x="338" y="86" width="1" height="1" fill="#44a8f8"/>
<rect x="338" y="89" width="1" height="1" fill="#44a8f8"/>
<rect x="341" y="56" width="1" height="13" fill="#a0009e"/>
<rect x="341" y="81" width="1" height="19" fill="#a0009e"/>
<rect x="280" y="93" width="1" height="1" fill="#007c00"/>
<rect x="278" y="106" width="1" height="1" fill="#007c00"/>
<rect x="326" y="101" width="1" height="34" fill="#fc0030"/>
<rect x="326" y="106" width="1" height="1" fill="#fc3a8a"/>
<rect x="326" y="118" width="1" height="1" fill="#fc3a8a"/>
<rect x="326" y="129" width="1" height="1" fill="#fc3a8a"/>
<rect x="307" y="132" width="1" height="1" fill="#d8d400"/>
<rect x="319" y="148" width="1" height="1" fill="#fc0030"/>
<rect x="319" y="160" width="1" height="1" fill="#fc3a8a"/>
<rect x="312" y="160" width="1" height="13" fill="#80b266"/>
<rect x="328" y="167" width="1" height="1" fill="#80b266"/>
<rect x="328" y="170" width="1" height="1" fill="#80b266"/>
<rect x="290" y="185" width="2" height="2" fill="#007c00"/>
<rect x="291" y="183" width="1" height="1" fill="#007c00"/>
<rect x="289" y="186" width="1" height="1" fill="#007c00"/>
<rect x="286" y="207" width="1" height="1" fill="#007c00"/>
<rect x="287" y="207" width="1" height="1" fill="#007c00"/>
<rect x="286" y="210" width="1" height="3" fill="#007c00"/>
<rect x="286" y="213" width="1" height="3" fill="#80b266"/>
<rect x="286" y="218" width="1" height="2" fill="#80b266"/>
<rect x="286" y="220" width="1" height="5" fill="#007c00"/>
<rect x="286" y="229" width="1" height="1" fill="#007c00"/>
<rect x="280" y="200" width="1" height="1" fill="#f6b2aa"/>
<rect x="294" y="216" width="1" height="1" fill="#f6b2aa"/>
<rect x="278" y="215" width="1" height="1" fill="#fc3a8a"/>
<rect x="282" y="216" width="1" height="1" fill="#d8d400"/>
<rect x="278" y="229" width="1" height="1" fill="#fc3a8a"/>
<rect x="282" y="230" width="1" height="1" fill="#007c00"/>
<rect x="282" y="235" width="1" height="1" fill="#12dcf6"/>
<rect x="282" y="237" width="1" height="1" fill="#80b266"/>
<rect x="282" y="239" width="1" height="1" fill="#007c00"/>
<rect x="280" y="240" width="1" height="3" fill="#007c00"/>
<rect x="278" y="249" width="1" height="1" fill="#007c00"/>
<rect x="282" y="247" width="1" height="1" fill="#007c00"/>
<rect x="278" y="255" width="1" height="1" fill="#007c00"/>
<rect x="281" y="245" width="1" height="1" fill="#007c00"/>
<rect x="277" y="243" width="1" height="1" fill="#80b266"/>
<rect x="281" y="249" width="1" height="1" fill="#007c00"/>
<rect x="278" y="255" width="1" height="1" fill="#007c00"/>
<rect x="278" y="254" width="1" height="1" fill="#007c00"/>
<rect x="280" y="254" width="1" height="1" fill="#007c00"/>
<rect x="281" y="250" width="1" height="1" fill="#007c00"/>
<rect x="279" y="251" width="1" height="1" fill="#007c00"/>
<rect x="282" y="244" width="1" height="1" fill="#80b266"/>
<rect x="277" y="245" width="1" height="1" fill="#007c00"/>
<rect x="277" y="255" width="1" height="1" fill="#007c00"/>
<rect x="280" y="245" width="1" height="1" fill="#80b266"/>
<rect x="280" y="250" width="1" height="1" fill="#007c00"/>
<rect x="278" y="253" width="1" height="1" fill="#007c00"/>
<rect x="280" y="246" width="1" height="1" fill="#007c00"/>
<rect x="278" y="246" width="1" height="1" fill="#007c00"/>
<rect x="277" y="251" width="1" height="1" fill="#007c00"/>
<rect x="278" y="243" width="1" height="1" fill="#fc3a8a"/>
<rect x="282" y="247" width="1" height="1" fill="#12dcf6"/>
<rect x="278" y="252" width="1" height="1" fill="#a0009e"/>
<rect x="280" y="252" width="1" height="1" fill="#fc0030"/>
<rect x="341" y="218" width="1" height="1" fill="#a0009e"/>
<rect x="341" y="221" width="1" height="4" fill="#a0009e"/>
<rect x="334" y="242" width="1" height="1" fill="#fc3a8a"/>
<rect x="335" y="245" width="1" height="1" fill="#2a00e4"/>
<rect x="334" y="244" width="1" height="1" fill="#d8d400"/>
<rect x="334" y="248" width="1" height="1" fill="#fc0030"/>
<rect x="334" y="250" width="1" height="6" fill="#f6b2aa"/>
<rect x="336" y="252" width="1" height="4" fill="#d8d400"/>
<rect x="278" y="252" width="1" height="1" fill="#a0009e"/>
<rect x="280" y="252" width="1" height="1" fill="#fc0030"/>
<rect x="279" y="250" width="2" height="2" fill="#007c00"/>
<rect x="278" y="255" width="1" height="1" fill="#80b266"/>
<rect x="278" y="256" width="1" height="1" fill="#12dcf6"/>
<rect x="277" y="257" width="2" height="2" fill="#007c00"/>
<rect x="279" y="263" width="1" height="1" fill="#fc0030"/>
<rect x="280" y="264" width="1" height="1" fill="#d8d400"/>
<rect x="278" y="265" width="1" height="1" fill="#a0009e"/>
<rect x="278" y="267" width="1" height="1" fill="#d8d400"/>
<rect x="286" y="264" width="2" height="2" fill="#d8d400"/>
<rect x="280" y="275" width="1" height="1" fill="#fc3a8a"/>
<rect x="278" y="277" width="2" height="1" fill="#fc0030"/>
<rect x="279" y="281" width="1" height="1" fill="#fc3a8a"/>
<rect x="278" y="286" width="1" height="1" fill="#fc3a8a"/>
<rect x="280" y="285" width="1" height="1" fill="#d8d400"/>
<rect x="280" y="292" width="1" height="1" fill="#fc3a8a"/>
<rect x="278" y="294" width="1" height="3" fill="#fc0030"/>
<rect x="279" y="295" width="1" height="1" fill="#fc0030"/>
<rect x="278" y="297" width="3" height="1" fill="#fc0030"/>
<rect x="279" y="297" width="1" height="1" fill="#007c00"/>
<rect x="277" y="307" width="1" height="1" fill="#fc0030"/>
<rect x="278" y="302" width="1" height="1" fill="#fc3a8a"/>
<rect x="277" y="302" width="1" height="1" fill="#fc0030"/>
<rect x="279" y="303" width="1" height="1" fill="#fc3a8a"/>
<rect x="277" y="302" width="1" height="1" fill="#fc3a8a"/>
<rect x="277" y="300" width="1" height="1" fill="#fc0030"/>
<rect x="277" y="307" width="1" height="1" fill="#fc3a8a"/>
<rect x="278" y="303" width="1" height="1" fill="#fc3a8a"/>
<rect x="279" y="304" width="1" height="1" fill="#fc3a8a"/>
<rect x="279" y="308" width="1" height="4" fill="#fc0030"/>
<rect x="278" y="313" width="1" height="1" fill="#fc3a8a"/>
<rect x="280" y="313" width="1" height="1" fill="#fc0030"/>
<rect x="280" y="315" width="1" height="1" fill="#f6b2aa"/>
<rect x="277" y="319" width="1" height="1" fill="#fc3a8a"/>
<rect x="271" y="262" width="1" height="1" fill="#2a00e4"/>
<rect x="272" y="261" width="1" height="1" fill="#007c00"/>
<rect x="274" y="261" width="1" height="2" fill="#007c00"/>
<rect x="271" y="266" width="2" height="3" fill="#007c00"/>
<rect x="271" y="271" width="1" height="3" fill="#007c00"/>
<rect x="272" y="272" width="1" height="1" fill="#007c00"/>
<rect x="271" y="311" width="1" height="1" fill="#80b266"/>
<rect x="274" y="265" width="1" height="1" fill="#80b266"/>
<rect x="294" y="277" width="1" height="3" fill="#007c00"/>
<rect x="294" y="286" width="1" height="1" fill="#007c00"/>
<rect x="294" y="297" width="1" height="3" fill="#007c00"/>
<rect x="294" y="302" width="1" height="1" fill="#007c00"/>
<rect x="296" y="303" width="1" height="1" fill="#007c00"/>
<rect x="294" y="318" width="1" height="2" fill="#007c00"/>
<rect x="294" y="317" width="1" height="1" fill="#12dcf6"/>
<rect x="310" y="261" width="1" height="1" fill="#d8d400"/>
<rect x="302" y="308" width="1" height="2" fill="#d8d400"/>
<rect x="348" y="276" width="1" height="1" fill="#f6b2aa"/>
<rect x="334" y="250" width="2" height="71" fill="#f6b2aa"/>
<rect x="334" y="250" width="1" height="6" fill="#d8d400"/>
<rect x="334" y="258" width="1" height="5" fill="#d8d400"/>
<rect x="334" y="264" width="1" height="4" fill="#d8d400"/>
<rect x="334" y="276" width="1" height="7" fill="#d8d400"/>
<rect x="334" y="290" width="1" height="4" fill="#d8d400"/>
<rect x="334" y="300" width="1" height="3" fill="#d8d400"/>
<rect x="334" y="307" width="1" height="4" fill="#d8d400"/>
<rect x="336" y="251" width="1" height="3" fill="#d8d400"/>
<rect x="336" y="262" width="1" height="3" fill="#d8d400"/>
<rect x="336" y="268" width="1" height="5" fill="#d8d400"/>
<rect x="336" y="287" width="1" height="7" fill="#d8d400"/>
<rect x="336" y="302" width="1" height="9" fill="#d8d400"/>
<rect x="334" y="268" width="1" height="8" fill="#fc3a8a"/>
<rect x="334" y="283" width="1" height="7" fill="#fc0030"/>
<rect x="334" y="297" width="1" height="4" fill="#fc0030"/>
<rect x="334" y="303" width="1" height="4" fill="#fc3a8a"/>
<rect x="334" y="311" width="1" height="4" fill="#fc0030"/>
<rect x="336" y="254" width="1" height="3" fill="#12dcf6"/>
<rect x="336" y="266" width="1" height="1" fill="#12dcf6"/>
<rect x="336" y="284" width="1" height="1" fill="#12dcf6"/>
<rect x="336" y="301" width="1" height="1" fill="#2a00e4"/>
<rect x="335" y="309" width="1" height="12" fill="#007c00"/>
<rect x="277" y="319" width="1" height="1" fill="#fc3a8a"/>
<rect x="278" y="322" width="2" height="1" fill="#fc3a8a"/>
<rect x="279" y="323" width="1" height="1" fill="#fc0030"/>
<rect x="278" y="327" width="2" height="1" fill="#fc0030"/>
<rect x="278" y="330" width="1" height="1" fill="#12dcf6"/>
<rect x="278" y="331" width="1" height="1" fill="#fc3a8a"/>
<rect x="277" y="332" width="1" height="3" fill="#fc0030"/>
<rect x="278" y="336" width="2" height="2" fill="#fc0030"/>
<rect x="280" y="340" width="1" height="1" fill="#fc3a8a"/>
<rect x="280" y="342" width="1" height="1" fill="#12dcf6"/>
<rect x="282" y="343" width="1" height="1" fill="#fc3a8a"/>
<rect x="277" y="347" width="1" height="1" fill="#fc3a8a"/>
<rect x="279" y="346" width="1" height="1" fill="#f6b2aa"/>
<rect x="280" y="348" width="1" height="1" fill="#fc3a8a"/>
<rect x="294" y="319" width="1" height="4" fill="#007c00"/>
<rect x="295" y="320" width="1" height="1" fill="#007c00"/>
<rect x="296" y="325" width="1" height="1" fill="#f6b2aa"/>
<rect x="294" y="326" width="1" height="1" fill="#007c00"/>
<rect x="294" y="329" width="2" height="1" fill="#007c00"/>
<rect x="294" y="331" width="1" height="1" fill="#007c00"/>
<rect x="294" y="333" width="1" height="1" fill="#007c00"/>
<rect x="299" y="332" width="1" height="1" fill="#d8d400"/>
<rect x="299" y="337" width="1" height="1" fill="#a0009e"/>
<rect x="294" y="340" width="1" height="1" fill="#007c00"/>
<rect x="294" y="341" width="1" height="1" fill="#12dcf6"/>
<rect x="296" y="349" width="1" height="1" fill="#007c00"/>
<rect x="294" y="350" width="1" height="1" fill="#80b266"/>
<rect x="295" y="351" width="1" height="1" fill="#007c00"/>
<rect x="296" y="353" width="1" height="1" fill="#80b266"/>
<rect x="293" y="353" width="1" height="1" fill="#007c00"/>
<rect x="293" y="350" width="1" height="1" fill="#007c00"/>
<rect x="294" y="352" width="1" height="1" fill="#007c00"/>
<rect x="294" y="349" width="1" height="1" fill="#80b266"/>
<rect x="293" y="347" width="1" height="1" fill="#80b266"/>
<rect x="293" y="350" width="1" height="1" fill="#007c00"/>
<rect x="294" y="348" width="1" height="1" fill="#a0009e"/>
<rect x="294" y="347" width="1" height="1" fill="#d8d400"/>
<rect x="290" y="342" width="1" height="1" fill="#2a00e4"/>
<rect x="290" y="347" width="1" height="1" fill="#12dcf6"/>
<rect x="291" y="349" width="1" height="1" fill="#a0009e"/>
<rect x="291" y="352" width="1" height="1" fill="#007c00"/>
<rect x="292" y="359" width="1" height="1" fill="#80b266"/>
<rect x="292" y="356" width="1" height="1" fill="#007c00"/>
<rect x="292" y="358" width="1" height="1" fill="#80b266"/>
<rect x="291" y="358" width="1" height="1" fill="#80b266"/>
<rect x="291" y="356" width="1" height="1" fill="#80b266"/>
<rect x="291" y="357" width="1" height="1" fill="#007c00"/>
<rect x="291" y="359" width="1" height="1" fill="#80b266"/>
<rect x="292" y="359" width="1" height="1" fill="#007c00"/>
<rect x="292" y="352" width="1" height="1" fill="#007c00"/>
<rect x="294" y="360" width="1" height="1" fill="#007c00"/>
<rect x="294" y="364" width="1" height="1" fill="#80b266"/>
<rect x="293" y="365" width="1" height="1" fill="#007c00"/>
<rect x="294" y="356" width="1" height="1" fill="#007c00"/>
<rect x="294" y="358" width="1" height="1" fill="#007c00"/>
<rect x="294" y="361" width="1" height="1" fill="#80b266"/>
<rect x="294" y="366" width="1" height="1" fill="#007c00"/>
<rect x="293" y="359" width="1" height="1" fill="#007c00"/>
<rect x="294" y="362" width="1" height="1" fill="#007c00"/>
<rect x="291" y="368" width="1" height="1" fill="#12dcf6"/>
<rect x="292" y="376" width="1" height="1" fill="#007c00"/>
<rect x="291" y="370" width="1" height="1" fill="#12dcf6"/>
<rect x="291" y="372" width="1" height="1" fill="#12dcf6"/>
<rect x="292" y="366" width="1" height="1" fill="#12dcf6"/>
<rect x="292" y="374" width="1" height="1" fill="#007c00"/>
<rect x="292" y="366" width="1" height="1" fill="#2a00e4"/>
<rect x="292" y="365" width="1" height="1" fill="#a0009e"/>
<rect x="290" y="377" width="1" height="1" fill="#12dcf6"/>
<rect x="290" y="365" width="1" height="1" fill="#007c00"/>
<rect x="292" y="365" width="1" height="1" fill="#12dcf6"/>
<rect x="291" y="368" width="1" height="1" fill="#007c00"/>
<rect x="292" y="376" width="1" height="1" fill="#a0009e"/>
<rect x="292" y="371" width="1" height="1" fill="#007c00"/>
<rect x="290" y="365" width="1" height="1" fill="#2a00e4"/>
<rect x="290" y="378" width="1" height="1" fill="#007c00"/>
<rect x="292" y="373" width="1" height="1" fill="#12dcf6"/>
<rect x="292" y="368" width="1" height="1" fill="#12dcf6"/>
<rect x="294" y="377" width="1" height="1" fill="#80b266"/>
<rect x="294" y="372" width="1" height="1" fill="#007c00"/>
<rect x="294" y="376" width="1" height="1" fill="#007c00"/>
<rect x="292" y="372" width="1" height="1" fill="#007c00"/>
<rect x="292" y="376" width="1" height="1" fill="#80b266"/>
<rect x="294" y="373" width="1" height="1" fill="#007c00"/>
<rect x="292" y="371" width="1" height="1" fill="#007c00"/>
<rect x="292" y="376" width="1" height="1" fill="#007c00"/>
<rect x="287" y="375" width="1" height="1" fill="#007c00"/>
<rect x="287" y="378" width="1" height="1" fill="#007c00"/>
<rect x="287" y="379" width="1" height="1" fill="#007c00"/>
<rect x="287" y="380" width="1" height="1" fill="#007c00"/>
<rect x="287" y="381" width="1" height="1" fill="#007c00"/>
<rect x="287" y="382" width="1" height="1" fill="#007c00"/>
<rect x="287" y="384" width="1" height="1" fill="#007c00"/>
<rect x="287" y="385" width="1" height="1" fill="#007c00"/>
<rect x="287" y="386" width="1" height="1" fill="#007c00"/>
<rect x="287" y="389" width="1" height="1" fill="#007c00"/>
<rect x="287" y="390" width="1" height="1" fill="#007c00"/>
<rect x="287" y="392" width="1" height="1" fill="#007c00"/>
<rect x="287" y="381" width="1" height="1" fill="#12dcf6"/>
<rect x="290" y="382" width="1" height="4" fill="#007c00"/>
<rect x="290" y="389" width="1" height="1" fill="#80b266"/>
<rect x="293" y="373" width="1" height="1" fill="#12dcf6"/>
<rect x="286" y="359" width="1" height="1" fill="#d8d400"/>
<rect x="290" y="342" width="1" height="1" fill="#2a00e4"/>
<rect x="290" y="347" width="1" height="1" fill="#12dcf6"/>
<rect x="294" y="340" width="1" height="3" fill="#007c00"/>
<rect x="290" y="350" width="1" height="1" fill="#a0009e"/>
<rect x="289" y="354" width="1" height="1" fill="#2a00e4"/>
<rect x="277" y="356" width="1" height="1" fill="#d8d400"/>
<rect x="277" y="359" width="1" height="1" fill="#fc0030"/>
<rect x="278" y="362" width="1" height="1" fill="#80b266"/>
<rect x="279" y="363" width="1" height="1" fill="#007c00"/>
<rect x="278" y="363" width="1" height="1" fill="#80b266"/>
<rect x="281" y="364" width="1" height="1" fill="#007c00"/>
<rect x="281" y="364" width="1" height="1" fill="#007c00"/>
<rect x="281" y="363" width="1" height="1" fill="#007c00"/>
<rect x="278" y="360" width="1" height="1" fill="#007c00"/>
<rect x="281" y="361" width="1" height="1" fill="#007c00"/>
<rect x="279" y="364" width="1" height="1" fill="#007c00"/>
<rect x="282" y="360" width="1" height="1" fill="#80b266"/>
<rect x="286" y="359" width="1" height="1" fill="#d8d400"/>
<rect x="278" y="365" width="1" height="1" fill="#12dcf6"/>
<rect x="279" y="368" width="1" height="1" fill="#2a00e4"/>
<rect x="282" y="366" width="1" height="1" fill="#2a00e4"/>
<rect x="280" y="367" width="1" height="1" fill="#12dcf6"/>
<rect x="278" y="369" width="1" height="1" fill="#fc3a8a"/>
<rect x="278" y="371" width="1" height="1" fill="#fc3a8a"/>
<rect x="278" y="373" width="1" height="1" fill="#fc3a8a"/>
<rect x="278" y="375" width="1" height="1" fill="#fc3a8a"/>
<rect x="278" y="377" width="1" height="1" fill="#fc3a8a"/>
<rect x="278" y="375" width="1" height="1" fill="#2a00e4"/>
<rect x="280" y="374" width="1" height="1" fill="#2a00e4"/>
<rect x="282" y="374" width="1" height="1" fill="#2a00e4"/>
<rect x="278" y="378" width="2" height="1" fill="#fc0030"/>
<rect x="280" y="381" width="1" height="1" fill="#2a00e4"/>
<rect x="280" y="382" width="1" height="1" fill="#2a00e4"/>
<rect x="279" y="382" width="1" height="1" fill="#2a00e4"/>
<rect x="281" y="381" width="1" height="1" fill="#2a00e4"/>
<rect x="279" y="383" width="1" height="1" fill="#a0009e"/>
<rect x="271" y="366" width="1" height="1" fill="#2a00e4"/>
<rect x="272" y="374" width="1" height="1" fill="#fc0030"/>
<rect x="272" y="369" width="1" height="1" fill="#fc3a8a"/>
<rect x="272" y="368" width="1" height="1" fill="#fc3a8a"/>
<rect x="273" y="368" width="1" height="1" fill="#fc3a8a"/>
<rect x="272" y="369" width="1" height="1" fill="#fc3a8a"/>
<rect x="275" y="368" width="1" height="1" fill="#fc3a8a"/>
<rect x="271" y="372" width="1" height="1" fill="#a0009e"/>
<rect x="271" y="374" width="1" height="1" fill="#fc3a8a"/>
<rect x="274" y="374" width="1" height="1" fill="#a0009e"/>
<rect x="275" y="368" width="1" height="1" fill="#fc3a8a"/>
<rect x="271" y="373" width="1" height="1" fill="#fc3a8a"/>
<rect x="272" y="373" width="1" height="1" fill="#fc3a8a"/>
<rect x="271" y="372" width="1" height="3" fill="#007c00"/>
<rect x="270" y="378" width="1" height="1" fill="#fc0030"/>
<rect x="274" y="379" width="1" height="1" fill="#fc0030"/>
<rect x="274" y="376" width="1" height="1" fill="#fc3a8a"/>
<rect x="274" y="375" width="1" height="1" fill="#fc0030"/>
<rect x="270" y="377" width="1" height="1" fill="#fc3a8a"/>
<rect x="270" y="375" width="1" height="1" fill="#fc0030"/>
<rect x="274" y="377" width="1" height="1" fill="#fc3a8a"/>
<rect x="272" y="380" width="1" height="1" fill="#fc0030"/>
<rect x="274" y="373" width="1" height="1" fill="#fc3a8a"/>
<rect x="271" y="380" width="1" height="1" fill="#2a00e4"/>
<rect x="272" y="382" width="1" height="1" fill="#fc3a8a"/>
<rect x="289" y="378" width="1" height="1" fill="#007c00"/>
<rect x="289" y="380" width="1" height="1" fill="#007c00"/>
<rect x="289" y="382" width="1" height="1" fill="#007c00"/>
<rect x="289" y="384" width="1" height="1" fill="#007c00"/>
<rect x="290" y="383" width="1" height="1" fill="#12dcf6"/>
<rect x="288" y="384" width="1" height="1" fill="#007c00"/>
<rect x="334" y="315" width="1" height="48" fill="#fc0030"/>
<rect x="334" y="320" width="1" height="11" fill="#fc3a8a"/>
<rect x="335" y="320" width="1" height="38" fill="#d8d400"/>
<rect x="336" y="322" width="1" height="24" fill="#d8d400"/>
<rect x="336" y="320" width="1" height="1" fill="#007c00"/>
<rect x="334" y="328" width="1" height="1" fill="#2a00e4"/>
<rect x="336" y="339" width="1" height="1" fill="#007c00"/>
<rect x="335" y="358" width="1" height="2" fill="#007c00"/>
<rect x="334" y="358" width="1" height="5" fill="#fc3a8a"/>
<rect x="325" y="352" width="1" height="10" fill="#f6b2aa"/>
<rect x="326" y="350" width="1" height="7" fill="#007c00"/>
<rect x="326" y="357" width="1" height="10" fill="#12dcf6"/>
<rect x="326" y="366" width="1" height="9" fill="#80b266"/>
<rect x="326" y="375" width="1" height="6" fill="#f6b2aa"/>
<rect x="326" y="380" width="1" height="5" fill="#12dcf6"/>
<rect x="326" y="385" width="1" height="1" fill="#007c00"/>
<rect x="236" y="381" width="1" height="1" fill="#2a00e4"/>
<rect x="241" y="387" width="1" height="1" fill="#f6b2aa"/>
<rect x="244" y="382" width="1" height="1" fill="#fc0030"/>
<rect x="246" y="382" width="1" height="1" fill="#f6b2aa"/>
<rect x="242" y="387" width="1" height="1" fill="#fc0030"/>
<rect x="244" y="384" width="1" height="1" fill="#f6b2aa"/>
<rect x="244" y="386" width="1" height="1" fill="#fc3a8a"/>
<rect x="244" y="386" width="1" height="1" fill="#fc3a8a"/>
<rect x="243" y="383" width="1" height="1" fill="#fc0030"/>
<rect x="245" y="381" width="1" height="1" fill="#fc3a8a"/>
<rect x="240" y="385" width="1" height="1" fill="#fc3a8a"/>
<rect x="240" y="384" width="1" height="1" fill="#fc0030"/>
<rect x="242" y="385" width="1" height="1" fill="#fc3a8a"/>
<rect x="242" y="384" width="1" height="1" fill="#fc0030"/>
<rect x="246" y="387" width="1" height="1" fill="#fc3a8a"/>
<rect x="241" y="384" width="1" height="1" fill="#2a00e4"/>
<rect x="221" y="384" width="1" height="1" fill="#12dcf6"/>
<rect x="211" y="389" width="1" height="1" fill="#f6b2aa"/>
<rect x="252" y="385" width="1" height="1" fill="#12dcf6"/>
<rect x="254" y="384" width="3" height="1" fill="#007c00"/>
<rect x="257" y="385" width="1" height="1" fill="#007c00"/>
<rect x="256" y="390" width="1" height="1" fill="#007c00"/>
<rect x="240" y="389" width="1" height="4" fill="#d8d400"/>
<rect x="241" y="390" width="1" height="1" fill="#007c00"/>
<rect x="236" y="395" width="1" height="1" fill="#2a00e4"/>
<rect x="242" y="394" width="1" height="1" fill="#80b266"/>
<rect x="245" y="396" width="1" height="1" fill="#007c00"/>
<rect x="238" y="395" width="1" height="1" fill="#007c00"/>
<rect x="250" y="397" width="1" height="1" fill="#007c00"/>
<rect x="243" y="397" width="1" height="1" fill="#007c00"/>
<rect x="238" y="397" width="1" height="1" fill="#007c00"/>
<rect x="238" y="395" width="1" height="1" fill="#007c00"/>
<rect x="240" y="395" width="1" height="1" fill="#007c00"/>
<rect x="241" y="396" width="1" height="1" fill="#007c00"/>
<rect x="250" y="397" width="1" height="1" fill="#007c00"/>
<rect x="239" y="394" width="1" height="1" fill="#80b266"/>
<rect x="244" y="394" width="1" height="1" fill="#80b266"/>
<rect x="244" y="396" width="1" height="1" fill="#80b266"/>
<rect x="240" y="395" width="1" height="1" fill="#007c00"/>
<rect x="246" y="395" width="1" height="1" fill="#2a00e4"/>
<rect x="239" y="396" width="1" height="1" fill="#007c00"/>
<rect x="250" y="397" width="1" height="1" fill="#80b266"/>
<rect x="248" y="397" width="1" height="1" fill="#80b266"/>
<rect x="238" y="395" width="1" height="1" fill="#007c00"/>
<rect x="241" y="397" width="1" height="1" fill="#007c00"/>
<rect x="240" y="395" width="1" height="1" fill="#007c00"/>
<rect x="250" y="395" width="1" height="1" fill="#007c00"/>
<rect x="241" y="394" width="1" height="1" fill="#2a00e4"/>
<rect x="242" y="396" width="1" height="1" fill="#2a00e4"/>
<rect x="246" y="397" width="1" height="1" fill="#2a00e4"/>
<rect x="254" y="396" width="4" height="1" fill="#007c00"/>
<rect x="255" y="395" width="1" height="1" fill="#007c00"/>
<rect x="266" y="398" width="1" height="1" fill="#fc0030"/>
<rect x="266" y="402" width="1" height="1" fill="#fc3a8a"/>
<rect x="266" y="400" width="1" height="1" fill="#fc3a8a"/>
<rect x="265" y="395" width="1" height="1" fill="#fc3a8a"/>
<rect x="264" y="400" width="1" height="1" fill="#fc3a8a"/>
<rect x="264" y="399" width="1" height="1" fill="#fc3a8a"/>
<rect x="264" y="397" width="1" height="1" fill="#fc3a8a"/>
<rect x="265" y="398" width="1" height="1" fill="#fc0030"/>
<rect x="264" y="398" width="1" height="1" fill="#fc3a8a"/>
<rect x="264" y="400" width="1" height="1" fill="#fc3a8a"/>
<rect x="266" y="396" width="1" height="1" fill="#fc0030"/>
<rect x="267" y="396" width="1" height="1" fill="#fc0030"/>
<rect x="266" y="396" width="1" height="1" fill="#fc0030"/>
<rect x="268" y="395" width="1" height="1" fill="#fc3a8a"/>
<rect x="268" y="392" width="1" height="1" fill="#fc3a8a"/>
<rect x="267" y="396" width="1" height="1" fill="#fc3a8a"/>
<rect x="268" y="394" width="1" height="1" fill="#fc0030"/>
<rect x="268" y="385" width="1" height="1" fill="#fc3a8a"/>
<rect x="270" y="386" width="1" height="1" fill="#fc3a8a"/>
<rect x="270" y="385" width="1" height="1" fill="#fc0030"/>
<rect x="268" y="386" width="1" height="1" fill="#fc3a8a"/>
<rect x="270" y="387" width="1" height="1" fill="#fc3a8a"/>
<rect x="269" y="387" width="1" height="1" fill="#fc3a8a"/>
<rect x="269" y="386" width="1" height="1" fill="#fc3a8a"/>
<rect x="272" y="380" width="1" height="1" fill="#fc0030"/>
<rect x="272" y="384" width="1" height="1" fill="#fc0030"/>
<rect x="272" y="383" width="1" height="1" fill="#fc3a8a"/>
<rect x="270" y="382" width="1" height="1" fill="#fc3a8a"/>
<rect x="271" y="382" width="1" height="1" fill="#fc3a8a"/>
<rect x="265" y="400" width="1" height="4" fill="#2a00e4"/>
<rect x="266" y="393" width="1" height="1" fill="#12dcf6"/>
<rect x="271" y="386" width="1" height="6" fill="#2a00e4"/>
<rect x="272" y="383" width="1" height="3" fill="#d8d400"/>
<rect x="272" y="394" width="1" height="1" fill="#12dcf6"/>
<rect x="265" y="417" width="1" height="1" fill="#007c00"/>
<rect x="265" y="417" width="1" height="1" fill="#80b266"/>
<rect x="266" y="418" width="1" height="1" fill="#80b266"/>
<rect x="265" y="416" width="1" height="1" fill="#80b266"/>
<rect x="266" y="418" width="1" height="1" fill="#007c00"/>
<rect x="265" y="411" width="1" height="1" fill="#2a00e4"/>
<rect x="267" y="411" width="1" height="1" fill="#2a00e4"/>
<rect x="271" y="408" width="1" height="1" fill="#007c00"/>
<rect x="273" y="405" width="1" height="1" fill="#007c00"/>
<rect x="270" y="411" width="1" height="1" fill="#80b266"/>
<rect x="274" y="401" width="1" height="2" fill="#80b266"/>
<rect x="265" y="426" width="1" height="1" fill="#007c00"/>
<rect x="265" y="438" width="1" height="1" fill="#007c00"/>
<rect x="238" y="427" width="1" height="1" fill="#fc3a8a"/>
<rect x="241" y="424" width="1" height="1" fill="#fc3a8a"/>
<rect x="242" y="422" width="1" height="1" fill="#fc3a8a"/>
<rect x="243" y="421" width="1" height="1" fill="#fc3a8a"/>
<rect x="244" y="420" width="1" height="1" fill="#fc3a8a"/>
<rect x="245" y="419" width="1" height="1" fill="#fc3a8a"/>
<rect x="247" y="416" width="1" height="1" fill="#fc3a8a"/>
<rect x="248" y="415" width="1" height="1" fill="#fc3a8a"/>
<rect x="249" y="414" width="1" height="1" fill="#fc3a8a"/>
<rect x="250" y="413" width="1" height="1" fill="#fc3a8a"/>
<rect x="251" y="412" width="1" height="1" fill="#fc3a8a"/>
<rect x="252" y="411" width="1" height="1" fill="#fc3a8a"/>
<rect x="253" y="409" width="1" height="1" fill="#fc3a8a"/>
<rect x="254" y="408" width="1" height="1" fill="#fc3a8a"/>
<rect x="255" y="407" width="1" height="1" fill="#fc3a8a"/>
<rect x="256" y="406" width="1" height="1" fill="#fc3a8a"/>
<rect x="240" y="426" width="1" height="1" fill="#fc3a8a"/>
<rect x="241" y="425" width="1" height="1" fill="#fc3a8a"/>
<rect x="242" y="424" width="1" height="1" fill="#fc3a8a"/>
<rect x="242" y="423" width="1" height="1" fill="#fc3a8a"/>
<rect x="245" y="420" width="1" height="1" fill="#fc3a8a"/>
<rect x="246" y="419" width="1" height="1" fill="#fc3a8a"/>
<rect x="249" y="415" width="1" height="1" fill="#fc3a8a"/>
<rect x="251" y="413" width="1" height="1" fill="#fc3a8a"/>
<rect x="252" y="412" width="1" height="1" fill="#fc3a8a"/>
<rect x="254" y="410" width="1" height="1" fill="#fc3a8a"/>
<rect x="256" y="407" width="1" height="1" fill="#fc3a8a"/>
<rect x="257" y="406" width="1" height="1" fill="#fc3a8a"/>
<rect x="240" y="427" width="1" height="1" fill="#fc3a8a"/>
<rect x="242" y="425" width="1" height="1" fill="#fc3a8a"/>
<rect x="243" y="424" width="1" height="1" fill="#fc3a8a"/>
<rect x="243" y="423" width="1" height="1" fill="#fc3a8a"/>
<rect x="245" y="421" width="1" height="1" fill="#fc3a8a"/>
<rect x="246" y="420" width="1" height="1" fill="#fc3a8a"/>
<rect x="247" y="419" width="1" height="1" fill="#fc3a8a"/>
<rect x="248" y="418" width="1" height="1" fill="#fc3a8a"/>
<rect x="249" y="417" width="1" height="1" fill="#fc3a8a"/>
<rect x="249" y="416" width="1" height="1" fill="#fc3a8a"/>
<rect x="250" y="415" width="1" height="1" fill="#fc3a8a"/>
<rect x="251" y="414" width="1" height="1" fill="#fc3a8a"/>
<rect x="254" y="411" width="1" height="1" fill="#fc3a8a"/>
<rect x="255" y="410" width="1" height="1" fill="#fc3a8a"/>
<rect x="256" y="408" width="1" height="1" fill="#fc3a8a"/>
<rect x="257" y="407" width="1" height="1" fill="#fc3a8a"/>
<rect x="241" y="427" width="1" height="1" fill="#fc3a8a"/>
<rect x="247" y="420" width="1" height="1" fill="#fc3a8a"/>
<rect x="248" y="419" width="1" height="1" fill="#fc3a8a"/>
<rect x="249" y="418" width="1" height="1" fill="#fc3a8a"/>
<rect x="250" y="417" width="1" height="1" fill="#fc3a8a"/>
<rect x="250" y="416" width="1" height="1" fill="#fc3a8a"/>
<rect x="251" y="415" width="1" height="1" fill="#fc3a8a"/>
<rect x="252" y="414" width="1" height="1" fill="#fc3a8a"/>
<rect x="253" y="413" width="1" height="1" fill="#fc3a8a"/>
<rect x="254" y="412" width="1" height="1" fill="#fc3a8a"/>
<rect x="255" y="411" width="1" height="1" fill="#fc3a8a"/>
<rect x="256" y="410" width="1" height="1" fill="#fc3a8a"/>
<rect x="256" y="409" width="1" height="1" fill="#fc3a8a"/>
<rect x="258" y="407" width="1" height="1" fill="#fc3a8a"/>
<rect x="258" y="414" width="1" height="1" fill="#fc3a8a"/>
<rect x="246" y="409" width="1" height="1" fill="#fc3a8a"/>
<rect x="254" y="420" width="1" height="1" fill="#fc0030"/>
<rect x="249" y="416" width="1" height="1" fill="#f6b2aa"/>
<rect x="259" y="421" width="1" height="1" fill="#fc0030"/>
<rect x="258" y="411" width="1" height="1" fill="#fc0030"/>
<rect x="255" y="414" width="1" height="1" fill="#f6b2aa"/>
<rect x="242" y="422" width="1" height="1" fill="#f6b2aa"/>
<rect x="251" y="409" width="1" height="1" fill="#fc0030"/>
<rect x="244" y="417" width="1" height="1" fill="#fc0030"/>
<rect x="245" y="417" width="1" height="1" fill="#fc0030"/>
<rect x="245" y="427" width="1" height="1" fill="#fc3a8a"/>
<rect x="242" y="413" width="1" height="1" fill="#fc3a8a"/>
<rect x="254" y="412" width="1" height="1" fill="#fc3a8a"/>
<rect x="244" y="415" width="1" height="1" fill="#fc0030"/>
<rect x="248" y="416" width="1" height="1" fill="#fc0030"/>
<rect x="255" y="424" width="1" height="1" fill="#fc0030"/>
<rect x="258" y="418" width="1" height="1" fill="#f6b2aa"/>
<rect x="244" y="417" width="1" height="1" fill="#fc0030"/>
<rect x="246" y="422" width="1" height="1" fill="#fc3a8a"/>
<rect x="259" y="415" width="1" height="1" fill="#f6b2aa"/>
<rect x="259" y="427" width="1" height="1" fill="#fc0030"/>
<rect x="245" y="410" width="1" height="1" fill="#f6b2aa"/>
<rect x="249" y="418" width="1" height="1" fill="#f6b2aa"/>
<rect x="255" y="416" width="1" height="1" fill="#f6b2aa"/>
<rect x="244" y="410" width="1" height="1" fill="#fc3a8a"/>
<rect x="241" y="424" width="1" height="1" fill="#fc3a8a"/>
<rect x="241" y="417" width="1" height="1" fill="#fc0030"/>
<rect x="241" y="414" width="1" height="1" fill="#fc0030"/>
<rect x="243" y="409" width="1" height="1" fill="#f6b2aa"/>
<rect x="241" y="425" width="1" height="1" fill="#fc0030"/>
<rect x="255" y="427" width="1" height="1" fill="#fc0030"/>
<rect x="250" y="424" width="1" height="1" fill="#fc0030"/>
<rect x="251" y="410" width="1" height="1" fill="#fc3a8a"/>
<rect x="244" y="414" width="1" height="1" fill="#fc3a8a"/>
<rect x="251" y="421" width="1" height="1" fill="#fc0030"/>
<rect x="255" y="412" width="1" height="1" fill="#fc3a8a"/>
<rect x="258" y="414" width="1" height="1" fill="#fc0030"/>
<rect x="241" y="412" width="1" height="1" fill="#fc0030"/>
<rect x="251" y="421" width="1" height="1" fill="#fc0030"/>
<rect x="240" y="417" width="1" height="1" fill="#2a00e4"/>
<rect x="240" y="417" width="1" height="1" fill="#2a00e4"/>
<rect x="242" y="417" width="1" height="1" fill="#2a00e4"/>
<rect x="241" y="418" width="1" height="1" fill="#2a00e4"/>
<rect x="242" y="418" width="1" height="1" fill="#2a00e4"/>
<rect x="242" y="419" width="1" height="1" fill="#2a00e4"/>
<rect x="240" y="420" width="1" height="1" fill="#12dcf6"/>
<rect x="246" y="415" width="2" height="1" fill="#2a00e4"/>
<rect x="258" y="417" width="1" height="1" fill="#2a00e4"/>
<rect x="258" y="412" width="1" height="1" fill="#12dcf6"/>
<rect x="256" y="412" width="1" height="1" fill="#12dcf6"/>
<rect x="257" y="407" width="1" height="1" fill="#d8d400"/>
<rect x="255" y="414" width="1" height="1" fill="#2a00e4"/>
<rect x="240" y="415" width="1" height="1" fill="#a0009e"/>
<rect x="248" y="422" width="1" height="1" fill="#2a00e4"/>
<rect x="247" y="418" width="1" height="1" fill="#2a00e4"/>
<rect x="242" y="420" width="1" height="1" fill="#44a8f8"/>
<rect x="243" y="416" width="1" height="1" fill="#12dcf6"/>
<rect x="245" y="417" width="1" height="1" fill="#2a00e4"/>
<rect x="242" y="424" width="1" height="1" fill="#2a00e4"/>
<rect x="241" y="421" width="1" height="1" fill="#2a00e4"/>
<rect x="242" y="420" width="1" height="1" fill="#2a00e4"/>
<rect x="240" y="425" width="1" height="1" fill="#12dcf6"/>
<rect x="242" y="418" width="1" height="1" fill="#2a00e4"/>
<rect x="247" y="417" width="1" height="1" fill="#12dcf6"/>
<rect x="242" y="422" width="1" height="1" fill="#12dcf6"/>
<rect x="221" y="424" width="1" height="1" fill="#a0009e"/>
<rect x="221" y="429" width="1" height="1" fill="#f6b2aa"/>
<rect x="211" y="434" width="1" height="1" fill="#fc0030"/>
<rect x="213" y="434" width="1" height="1" fill="#d8d400"/>
<rect x="221" y="434" width="1" height="1" fill="#fc3a8a"/>
<rect x="220" y="434" width="1" height="1" fill="#fc0030"/>
<rect x="222" y="434" width="1" height="1" fill="#fc0030"/>
<rect x="219" y="433" width="1" height="1" fill="#fc3a8a"/>
<rect x="220" y="433" width="1" height="1" fill="#fc0030"/>
<rect x="219" y="433" width="1" height="1" fill="#fc3a8a"/>
<rect x="222" y="432" width="1" height="1" fill="#007c00"/>
<rect x="255" y="433" width="1" height="1" fill="#80b266"/>
<rect x="237" y="434" width="1" height="1" fill="#fc0030"/>
<rect x="244" y="432" width="1" height="1" fill="#a0009e"/>
<rect x="246" y="434" width="1" height="1" fill="#007c00"/>
<rect x="249" y="435" width="1" height="1" fill="#fc3a8a"/>
<rect x="234" y="434" width="1" height="1" fill="#007c00"/>
<rect x="256" y="432" width="1" height="1" fill="#007c00"/>
<rect x="245" y="432" width="1" height="1" fill="#12dcf6"/>
<rect x="233" y="433" width="1" height="1" fill="#12dcf6"/>
<rect x="242" y="434" width="1" height="1" fill="#fc3a8a"/>
<rect x="252" y="434" width="1" height="1" fill="#fc3a8a"/>
<rect x="235" y="436" width="1" height="1" fill="#fc0030"/>
<rect x="250" y="435" width="1" height="1" fill="#2a00e4"/>
<rect x="232" y="433" width="1" height="1" fill="#007c00"/>
<rect x="258" y="434" width="1" height="1" fill="#a0009e"/>
<rect x="224" y="436" width="1" height="1" fill="#12dcf6"/>
<rect x="229" y="434" width="1" height="1" fill="#007c00"/>
<rect x="251" y="433" width="1" height="1" fill="#007c00"/>
<rect x="253" y="434" width="1" height="1" fill="#007c00"/>
<rect x="249" y="433" width="1" height="1" fill="#007c00"/>
<rect x="246" y="436" width="1" height="1" fill="#fc3a8a"/>
<rect x="226" y="435" width="1" height="1" fill="#fc0030"/>
<rect x="251" y="435" width="1" height="1" fill="#2a00e4"/>
<rect x="232" y="432" width="1" height="1" fill="#12dcf6"/>
<rect x="255" y="432" width="1" height="1" fill="#fc0030"/>
<rect x="255" y="435" width="1" height="1" fill="#007c00"/>
<rect x="247" y="433" width="1" height="1" fill="#fc3a8a"/>
<rect x="234" y="436" width="1" height="1" fill="#a0009e"/>
<rect x="252" y="432" width="1" height="1" fill="#007c00"/>
<rect x="237" y="433" width="1" height="1" fill="#007c00"/>
<rect x="225" y="435" width="1" height="1" fill="#2a00e4"/>
<rect x="237" y="434" width="1" height="1" fill="#a0009e"/>
<rect x="250" y="434" width="1" height="1" fill="#a0009e"/>
<rect x="228" y="434" width="1" height="1" fill="#2a00e4"/>
<rect x="235" y="432" width="1" height="1" fill="#007c00"/>
<rect x="249" y="435" width="1" height="1" fill="#007c00"/>
<rect x="244" y="433" width="1" height="1" fill="#fc0030"/>
<rect x="229" y="436" width="1" height="1" fill="#007c00"/>
<rect x="233" y="434" width="1" height="1" fill="#007c00"/>
<rect x="232" y="433" width="1" height="1" fill="#a0009e"/>
<rect x="228" y="435" width="1" height="1" fill="#fc0030"/>
<rect x="251" y="433" width="1" height="1" fill="#12dcf6"/>
<rect x="253" y="436" width="1" height="1" fill="#12dcf6"/>
<rect x="257" y="432" width="1" height="1" fill="#007c00"/>
<rect x="232" y="436" width="1" height="1" fill="#fc3a8a"/>
<rect x="255" y="433" width="1" height="1" fill="#80b266"/>
<rect x="232" y="436" width="1" height="1" fill="#007c00"/>
<rect x="227" y="435" width="1" height="1" fill="#fc3a8a"/>
<rect x="252" y="434" width="1" height="1" fill="#80b266"/>
<rect x="241" y="435" width="1" height="1" fill="#fc0030"/>
<rect x="232" y="436" width="1" height="1" fill="#fc0030"/>
<rect x="258" y="436" width="1" height="1" fill="#007c00"/>
<rect x="246" y="434" width="1" height="1" fill="#007c00"/>
<rect x="235" y="434" width="1" height="1" fill="#12dcf6"/>
<rect x="231" y="433" width="1" height="1" fill="#80b266"/>
<rect x="233" y="435" width="1" height="1" fill="#fc0030"/>
<rect x="252" y="432" width="1" height="1" fill="#fc3a8a"/>
<rect x="230" y="436" width="1" height="1" fill="#12dcf6"/>
<rect x="256" y="435" width="1" height="1" fill="#fc0030"/>
<rect x="237" y="433" width="1" height="1" fill="#fc3a8a"/>
<rect x="253" y="433" width="1" height="1" fill="#fc0030"/>
<rect x="229" y="435" width="1" height="1" fill="#a0009e"/>
<rect x="233" y="436" width="1" height="1" fill="#007c00"/>
<rect x="236" y="432" width="1" height="1" fill="#80b266"/>
<rect x="258" y="436" width="1" height="1" fill="#007c00"/>
<rect x="258" y="434" width="1" height="1" fill="#007c00"/>
<rect x="252" y="434" width="1" height="1" fill="#007c00"/>
<rect x="225" y="434" width="1" height="1" fill="#fc3a8a"/>
<rect x="237" y="436" width="1" height="1" fill="#a0009e"/>
<rect x="244" y="435" width="1" height="1" fill="#007c00"/>
<rect x="256" y="434" width="1" height="1" fill="#007c00"/>
<rect x="242" y="434" width="1" height="1" fill="#fc3a8a"/>
<rect x="252" y="436" width="1" height="1" fill="#80b266"/>
<rect x="237" y="434" width="1" height="1" fill="#007c00"/>
<rect x="227" y="436" width="1" height="1" fill="#007c00"/>
<rect x="245" y="434" width="1" height="1" fill="#2a00e4"/>
<rect x="233" y="432" width="1" height="1" fill="#fc3a8a"/>
<rect x="248" y="434" width="1" height="1" fill="#2a00e4"/>
<rect x="237" y="436" width="1" height="1" fill="#a0009e"/>
<rect x="228" y="433" width="1" height="1" fill="#007c00"/>
<rect x="252" y="434" width="1" height="1" fill="#fc3a8a"/>
<rect x="234" y="433" width="1" height="1" fill="#12dcf6"/>
<rect x="229" y="434" width="1" height="1" fill="#007c00"/>
<rect x="228" y="433" width="1" height="1" fill="#007c00"/>
<rect x="237" y="432" width="1" height="1" fill="#007c00"/>
<rect x="247" y="432" width="1" height="1" fill="#2a00e4"/>
<rect x="238" y="435" width="1" height="1" fill="#a0009e"/>
<rect x="230" y="436" width="1" height="1" fill="#80b266"/>
<rect x="233" y="432" width="1" height="1" fill="#007c00"/>
<rect x="234" y="433" width="1" height="1" fill="#007c00"/>
<rect x="226" y="433" width="4" height="1" fill="#2a00e4"/>
<rect x="237" y="429" width="1" height="1" fill="#fc3a8a"/>
<rect x="235" y="431" width="1" height="1" fill="#a0009e"/>
<rect x="237" y="430" width="1" height="1" fill="#fc3a8a"/>
<rect x="237" y="429" width="1" height="1" fill="#fc3a8a"/>
<rect x="235" y="430" width="1" height="1" fill="#fc3a8a"/>
<rect x="235" y="428" width="1" height="1" fill="#a0009e"/>
<rect x="236" y="428" width="1" height="1" fill="#a0009e"/>
<rect x="236" y="431" width="1" height="1" fill="#12dcf6"/>
<rect x="241" y="422" width="1" height="1" fill="#fc3a8a"/>
<rect x="254" y="427" width="1" height="1" fill="#2a00e4"/>
<rect x="256" y="427" width="1" height="1" fill="#2a00e4"/>
<rect x="251" y="430" width="1" height="1" fill="#12dcf6"/>
<rect x="203" y="473" width="1" height="1" fill="#a0009e"/>
<rect x="207" y="474" width="1" height="1" fill="#d8d400"/>
<rect x="212" y="474" width="1" height="1" fill="#fc0030"/>
<rect x="212" y="471" width="1" height="1" fill="#fc3a8a"/>
<rect x="212" y="470" width="1" height="1" fill="#fc3a8a"/>
<rect x="214" y="470" width="1" height="1" fill="#fc3a8a"/>
<rect x="214" y="470" width="1" height="1" fill="#2a00e4"/>
<rect x="213" y="471" width="1" height="1" fill="#2a00e4"/>
<rect x="211" y="470" width="1" height="1" fill="#2a00e4"/>
<rect x="214" y="470" width="1" height="1" fill="#fc0030"/>
<rect x="214" y="471" width="1" height="1" fill="#fc3a8a"/>
<rect x="212" y="473" width="1" height="1" fill="#fc0030"/>
<rect x="219" y="470" width="1" height="1" fill="#d8d400"/>
<rect x="223" y="473" width="1" height="1" fill="#d8d400"/>
<rect x="223" y="470" width="1" height="1" fill="#d8d400"/>
<rect x="220" y="474" width="1" height="1" fill="#2a00e4"/>
<rect x="219" y="471" width="1" height="1" fill="#fc0030"/>
<rect x="219" y="475" width="1" height="1" fill="#fc0030"/>
<rect x="221" y="469" width="1" height="1" fill="#fc3a8a"/>
<rect x="221" y="468" width="1" height="1" fill="#fc0030"/>
<rect x="221" y="472" width="1" height="1" fill="#d8d400"/>
<rect x="221" y="471" width="1" height="1" fill="#d8d400"/>
<rect x="222" y="471" width="1" height="1" fill="#d8d400"/>
<rect x="223" y="475" width="1" height="1" fill="#2a00e4"/>
<rect x="241" y="472" width="1" height="1" fill="#d8d400"/>
<rect x="254" y="474" width="1" height="1" fill="#007c00"/>
<rect x="253" y="473" width="1" height="1" fill="#12dcf6"/>
<rect x="228" y="473" width="1" height="1" fill="#fc3a8a"/>
<rect x="257" y="474" width="1" height="1" fill="#80b266"/>
<rect x="252" y="472" width="1" height="1" fill="#007c00"/>
<rect x="240" y="473" width="1" height="1" fill="#007c00"/>
<rect x="250" y="473" width="1" height="1" fill="#d8d400"/>
<rect x="251" y="473" width="1" height="1" fill="#d8d400"/>
<rect x="251" y="472" width="1" height="1" fill="#007c00"/>
<rect x="240" y="474" width="1" height="1" fill="#12dcf6"/>
<rect x="236" y="474" width="1" height="1" fill="#007c00"/>
<rect x="253" y="474" width="1" height="1" fill="#fc0030"/>
<rect x="242" y="472" width="1" height="1" fill="#80b266"/>
<rect x="225" y="472" width="1" height="1" fill="#2a00e4"/>
<rect x="241" y="474" width="1" height="1" fill="#007c00"/>
<rect x="239" y="474" width="1" height="1" fill="#007c00"/>
<rect x="251" y="472" width="1" height="1" fill="#007c00"/>
<rect x="229" y="474" width="1" height="1" fill="#80b266"/>
<rect x="232" y="474" width="1" height="1" fill="#007c00"/>
<rect x="252" y="473" width="1" height="1" fill="#a0009e"/>
<rect x="239" y="473" width="1" height="1" fill="#2a00e4"/>
<rect x="236" y="472" width="1" height="1" fill="#fc3a8a"/>
<rect x="230" y="473" width="1" height="1" fill="#fc3a8a"/>
<rect x="227" y="474" width="1" height="1" fill="#007c00"/>
<rect x="247" y="473" width="1" height="1" fill="#007c00"/>
<rect x="245" y="473" width="1" height="1" fill="#007c00"/>
<rect x="232" y="472" width="1" height="1" fill="#007c00"/>
<rect x="243" y="473" width="1" height="1" fill="#fc3a8a"/>
<rect x="240" y="474" width="1" height="1" fill="#fc3a8a"/>
<rect x="229" y="473" width="1" height="1" fill="#007c00"/>
<rect x="230" y="472" width="1" height="1" fill="#007c00"/>
<rect x="240" y="474" width="1" height="1" fill="#a0009e"/>
<rect x="229" y="474" width="1" height="1" fill="#80b266"/>
<rect x="244" y="472" width="1" height="1" fill="#80b266"/>
<rect x="231" y="472" width="1" height="1" fill="#2a00e4"/>
<rect x="236" y="474" width="1" height="1" fill="#007c00"/>
<rect x="250" y="472" width="1" height="1" fill="#007c00"/>
<rect x="249" y="474" width="1" height="1" fill="#007c00"/>
<rect x="233" y="472" width="1" height="1" fill="#80b266"/>
<rect x="232" y="474" width="1" height="1" fill="#80b266"/>
<rect x="248" y="472" width="1" height="1" fill="#fc3a8a"/>
<rect x="228" y="472" width="1" height="1" fill="#12dcf6"/>
<rect x="250" y="473" width="1" height="1" fill="#12dcf6"/>
<rect x="248" y="473" width="1" height="1" fill="#80b266"/>
<rect x="243" y="473" width="1" height="1" fill="#fc0030"/>
<rect x="232" y="473" width="1" height="1" fill="#fc3a8a"/>
<rect x="254" y="473" width="1" height="1" fill="#007c00"/>
<rect x="255" y="473" width="1" height="1" fill="#fc0030"/>
<rect x="257" y="474" width="1" height="1" fill="#007c00"/>
<rect x="241" y="473" width="1" height="1" fill="#007c00"/>
<rect x="228" y="472" width="1" height="1" fill="#12dcf6"/>
<rect x="256" y="473" width="1" height="1" fill="#d8d400"/>
<rect x="247" y="474" width="1" height="1" fill="#007c00"/>
<rect x="244" y="474" width="1" height="1" fill="#fc3a8a"/>
<rect x="253" y="473" width="1" height="1" fill="#fc3a8a"/>
<rect x="224" y="472" width="1" height="1" fill="#80b266"/>
<rect x="231" y="472" width="1" height="1" fill="#fc0030"/>
<rect x="237" y="473" width="1" height="1" fill="#a0009e"/>
<rect x="256" y="474" width="1" height="1" fill="#fc0030"/>
<rect x="230" y="472" width="1" height="1" fill="#d8d400"/>
<rect x="252" y="473" width="1" height="1" fill="#a0009e"/>
<rect x="247" y="472" width="1" height="1" fill="#007c00"/>
<rect x="247" y="474" width="1" height="1" fill="#007c00"/>
<rect x="236" y="474" width="1" height="1" fill="#007c00"/>
<rect x="252" y="474" width="1" height="1" fill="#007c00"/>
<rect x="249" y="472" width="1" height="1" fill="#007c00"/>
<rect x="225" y="472" width="1" height="1" fill="#fc0030"/>
<rect x="231" y="474" width="1" height="1" fill="#fc3a8a"/>
<rect x="238" y="472" width="1" height="1" fill="#007c00"/>
<rect x="255" y="472" width="1" height="1" fill="#a0009e"/>
<rect x="247" y="473" width="1" height="1" fill="#80b266"/>
<rect x="232" y="473" width="1" height="1" fill="#80b266"/>
<rect x="240" y="472" width="1" height="1" fill="#80b266"/>
<rect x="241" y="474" width="1" height="1" fill="#007c00"/>
<rect x="256" y="473" width="1" height="1" fill="#80b266"/>
<rect x="249" y="474" width="1" height="1" fill="#80b266"/>
<rect x="233" y="473" width="1" height="1" fill="#fc3a8a"/>
<rect x="241" y="472" width="1" height="1" fill="#d8d400"/>
<rect x="225" y="472" width="1" height="1" fill="#80b266"/>
<rect x="235" y="472" width="1" height="1" fill="#007c00"/>
<rect x="244" y="472" width="1" height="1" fill="#007c00"/>
<rect x="228" y="473" width="1" height="1" fill="#fc3a8a"/>
<rect x="234" y="472" width="1" height="1" fill="#12dcf6"/>
<rect x="256" y="474" width="1" height="1" fill="#fc0030"/>
<rect x="230" y="473" width="1" height="1" fill="#d8d400"/>
<rect x="233" y="474" width="1" height="1" fill="#fc3a8a"/>
<rect x="244" y="473" width="1" height="1" fill="#fc3a8a"/>
<rect x="234" y="472" width="1" height="1" fill="#2a00e4"/>
<rect x="224" y="472" width="1" height="1" fill="#fc3a8a"/>
<rect x="252" y="474" width="1" height="1" fill="#12dcf6"/>
<rect x="251" y="473" width="1" height="1" fill="#007c00"/>
<rect x="226" y="472" width="1" height="1" fill="#d8d400"/>
<rect x="238" y="474" width="1" height="1" fill="#007c00"/>
<rect x="230" y="472" width="1" height="1" fill="#fc0030"/>
<rect x="234" y="473" width="1" height="1" fill="#2a00e4"/>
<rect x="225" y="473" width="1" height="1" fill="#12dcf6"/>
<rect x="245" y="473" width="1" height="1" fill="#fc0030"/>
<rect x="228" y="473" width="1" height="1" fill="#2a00e4"/>
<rect x="244" y="474" width="1" height="1" fill="#007c00"/>
<rect x="242" y="474" width="1" height="1" fill="#fc0030"/>
<rect x="224" y="474" width="1" height="1" fill="#fc0030"/>
<rect x="228" y="472" width="1" height="1" fill="#2a00e4"/>
<rect x="258" y="472" width="1" height="1" fill="#007c00"/>
<rect x="235" y="473" width="1" height="1" fill="#fc3a8a"/>
<rect x="225" y="474" width="1" height="1" fill="#12dcf6"/>
<rect x="240" y="474" width="1" height="1" fill="#d8d400"/>
<rect x="257" y="473" width="1" height="1" fill="#007c00"/>
<rect x="240" y="472" width="1" height="1" fill="#007c00"/>
<rect x="240" y="474" width="1" height="1" fill="#007c00"/>
<rect x="228" y="475" width="1" height="1" fill="#007c00"/>
<rect x="224" y="473" width="1" height="1" fill="#a0009e"/>
<rect x="230" y="475" width="1" height="1" fill="#a0009e"/>
<rect x="240" y="474" width="1" height="1" fill="#fc3a8a"/>
<rect x="241" y="470" width="1" height="1" fill="#a0009e"/>
<rect x="224" y="473" width="1" height="1" fill="#2a00e4"/>
<rect x="240" y="472" width="1" height="1" fill="#a0009e"/>
<rect x="250" y="472" width="1" height="1" fill="#007c00"/>
<rect x="243" y="472" width="1" height="1" fill="#fc3a8a"/>
<rect x="253" y="472" width="1" height="1" fill="#007c00"/>
<rect x="228" y="472" width="1" height="1" fill="#fc3a8a"/>
<rect x="230" y="471" width="1" height="1" fill="#2a00e4"/>
<rect x="256" y="472" width="1" height="1" fill="#007c00"/>
<rect x="244" y="475" width="1" height="1" fill="#fc3a8a"/>
<rect x="233" y="472" width="1" height="1" fill="#fc3a8a"/>
<rect x="229" y="472" width="1" height="1" fill="#a0009e"/>
<rect x="255" y="475" width="1" height="1" fill="#2a00e4"/>
<rect x="242" y="475" width="1" height="1" fill="#fc3a8a"/>
<rect x="234" y="471" width="1" height="1" fill="#fc3a8a"/>
<rect x="250" y="473" width="1" height="1" fill="#2a00e4"/>
<rect x="252" y="475" width="1" height="1" fill="#fc3a8a"/>
<rect x="252" y="470" width="1" height="1" fill="#a0009e"/>
<rect x="245" y="475" width="1" height="1" fill="#fc3a8a"/>
<rect x="241" y="475" width="1" height="1" fill="#007c00"/>
<rect x="240" y="475" width="1" height="1" fill="#a0009e"/>
<rect x="248" y="466" width="1" height="1" fill="#a0009e"/>
<rect x="248" y="458" width="1" height="1" fill="#a0009e"/>
<rect x="242" y="469" width="1" height="1" fill="#a0009e"/>
<rect x="243" y="471" width="1" height="1" fill="#a0009e"/>
<rect x="244" y="458" width="1" height="1" fill="#fc3a8a"/>
<rect x="248" y="464" width="1" height="1" fill="#a0009e"/>
<rect x="244" y="464" width="1" height="1" fill="#a0009e"/>
<rect x="244" y="461" width="1" height="1" fill="#a0009e"/>
<rect x="246" y="457" width="1" height="1" fill="#a0009e"/>
<rect x="246" y="457" width="1" height="1" fill="#a0009e"/>
<rect x="248" y="460" width="1" height="1" fill="#fc3a8a"/>
<rect x="243" y="466" width="1" height="1" fill="#fc3a8a"/>
<rect x="243" y="461" width="1" height="1" fill="#a0009e"/>
<rect x="247" y="470" width="1" height="1" fill="#fc3a8a"/>
<rect x="242" y="465" width="1" height="1" fill="#a0009e"/>
<rect x="248" y="467" width="1" height="1" fill="#a0009e"/>
<rect x="246" y="457" width="1" height="1" fill="#a0009e"/>
<rect x="243" y="468" width="1" height="1" fill="#a0009e"/>
<rect x="242" y="457" width="1" height="1" fill="#a0009e"/>
<rect x="247" y="470" width="1" height="1" fill="#a0009e"/>
<rect x="245" y="468" width="1" height="1" fill="#a0009e"/>
<rect x="245" y="468" width="1" height="1" fill="#fc3a8a"/>
<rect x="243" y="468" width="1" height="1" fill="#a0009e"/>
<rect x="246" y="459" width="1" height="1" fill="#fc3a8a"/>
<rect x="245" y="464" width="1" height="1" fill="#fc3a8a"/>
<rect x="246" y="458" width="1" height="1" fill="#a0009e"/>
<rect x="243" y="471" width="1" height="1" fill="#a0009e"/>
<rect x="245" y="470" width="1" height="1" fill="#fc3a8a"/>
<rect x="243" y="464" width="1" height="1" fill="#a0009e"/>
<rect x="243" y="461" width="1" height="1" fill="#a0009e"/>
<rect x="242" y="461" width="1" height="1" fill="#a0009e"/>
<rect x="247" y="465" width="1" height="1" fill="#a0009e"/>
<rect x="246" y="468" width="1" height="1" fill="#a0009e"/>
<rect x="244" y="459" width="1" height="1" fill="#a0009e"/>
<rect x="248" y="458" width="1" height="1" fill="#a0009e"/>
<rect x="246" y="471" width="1" height="1" fill="#a0009e"/>
<rect x="247" y="465" width="1" height="1" fill="#a0009e"/>
<rect x="245" y="471" width="1" height="1" fill="#a0009e"/>
<rect x="248" y="460" width="1" height="1" fill="#a0009e"/>
<rect x="247" y="462" width="1" height="1" fill="#a0009e"/>
<rect x="247" y="458" width="1" height="1" fill="#a0009e"/>
<rect x="245" y="460" width="1" height="1" fill="#a0009e"/>
<rect x="246" y="470" width="1" height="1" fill="#a0009e"/>
<rect x="244" y="465" width="1" height="1" fill="#a0009e"/>
<rect x="242" y="468" width="1" height="1" fill="#a0009e"/>
<rect x="246" y="464" width="1" height="1" fill="#a0009e"/>
<rect x="247" y="467" width="1" height="1" fill="#a0009e"/>
<rect x="244" y="464" width="1" height="1" fill="#a0009e"/>
<rect x="245" y="470" width="1" height="1" fill="#a0009e"/>
<rect x="242" y="468" width="1" height="1" fill="#a0009e"/>
<rect x="248" y="469" width="1" height="1" fill="#a0009e"/>
<rect x="243" y="467" width="1" height="1" fill="#fc3a8a"/>
<rect x="245" y="469" width="1" height="1" fill="#a0009e"/>
<rect x="247" y="459" width="1" height="1" fill="#a0009e"/>
<rect x="245" y="471" width="1" height="1" fill="#a0009e"/>
<rect x="243" y="465" width="1" height="1" fill="#a0009e"/>
<rect x="247" y="465" width="1" height="1" fill="#a0009e"/>
<rect x="245" y="465" width="1" height="1" fill="#a0009e"/>
<rect x="245" y="460" width="1" height="1" fill="#a0009e"/>
<rect x="246" y="470" width="1" height="1" fill="#a0009e"/>
<rect x="243" y="469" width="1" height="1" fill="#a0009e"/>
<rect x="247" y="459" width="1" height="1" fill="#a0009e"/>
<rect x="247" y="471" width="1" height="1" fill="#fc3a8a"/>
<rect x="247" y="466" width="1" height="1" fill="#a0009e"/>
<rect x="242" y="461" width="1" height="1" fill="#a0009e"/>
<rect x="247" y="466" width="1" height="1" fill="#fc3a8a"/>
<rect x="243" y="464" width="1" height="1" fill="#a0009e"/>
<rect x="246" y="460" width="1" height="1" fill="#a0009e"/>
<rect x="248" y="467" width="1" height="1" fill="#a0009e"/>
<rect x="243" y="460" width="1" height="1" fill="#a0009e"/>
<rect x="242" y="468" width="1" height="1" fill="#a0009e"/>
<rect x="245" y="467" width="1" height="1" fill="#a0009e"/>
<rect x="240" y="472" width="1" height="1" fill="#a0009e"/>
<rect x="242" y="471" width="1" height="1" fill="#a0009e"/>
<rect x="244" y="470" width="1" height="1" fill="#a0009e"/>
<rect x="246" y="463" width="1" height="1" fill="#fc3a8a"/>
<rect x="246" y="466" width="1" height="1" fill="#a0009e"/>
<rect x="251" y="465" width="1" height="1" fill="#2a00e4"/>
<rect x="248" y="472" width="1" height="1" fill="#2a00e4"/>
<rect x="239" y="468" width="1" height="1" fill="#fc3a8a"/>
<rect x="243" y="465" width="1" height="1" fill="#a0009e"/>
<rect x="248" y="469" width="1" height="1" fill="#a0009e"/>
<rect x="241" y="471" width="1" height="1" fill="#2a00e4"/>
<rect x="239" y="472" width="1" height="1" fill="#2a00e4"/>
<rect x="245" y="465" width="1" height="1" fill="#2a00e4"/>
<rect x="241" y="463" width="1" height="1" fill="#a0009e"/>
<rect x="239" y="471" width="1" height="1" fill="#a0009e"/>
<rect x="243" y="464" width="1" height="1" fill="#a0009e"/>
<rect x="244" y="467" width="1" height="1" fill="#a0009e"/>
<rect x="239" y="460" width="1" height="1" fill="#a0009e"/>
<rect x="233" y="469" width="1" height="1" fill="#2a00e4"/>
<rect x="233" y="460" width="1" height="1" fill="#fc3a8a"/>
<rect x="236" y="470" width="1" height="1" fill="#2a00e4"/>
<rect x="236" y="470" width="1" height="1" fill="#a0009e"/>
<rect x="227" y="465" width="1" height="1" fill="#2a00e4"/>
<rect x="238" y="464" width="1" height="1" fill="#a0009e"/>
<rect x="233" y="470" width="1" height="1" fill="#a0009e"/>
<rect x="235" y="470" width="1" height="1" fill="#2a00e4"/>
<rect x="230" y="466" width="1" height="1" fill="#2a00e4"/>
<rect x="232" y="468" width="1" height="1" fill="#fc3a8a"/>
<rect x="234" y="457" width="1" height="1" fill="#a0009e"/>
<rect x="219" y="459" width="1" height="1" fill="#a0009e"/>
<rect x="219" y="467" width="1" height="1" fill="#2a00e4"/>
<rect x="221" y="451" width="1" height="1" fill="#a0009e"/>
<rect x="241" y="451" width="1" height="1" fill="#12dcf6"/>
<rect x="240" y="451" width="1" height="1" fill="#a0009e"/>
<rect x="255" y="452" width="1" height="3" fill="#a0009e"/>
<rect x="244" y="458" width="1" height="1" fill="#12dcf6"/>
<rect x="264" y="466" width="1" height="1" fill="#a0009e"/>
<rect x="266" y="469" width="1" height="1" fill="#a0009e"/>
<rect x="266" y="474" width="1" height="1" fill="#007c00"/>
<rect x="271" y="471" width="1" height="5" fill="#007c00"/>
<rect x="272" y="472" width="1" height="3" fill="#007c00"/>
<rect x="273" y="473" width="1" height="1" fill="#007c00"/>
<rect x="272" y="477" width="1" height="1" fill="#2a00e4"/>
<rect x="264" y="473" width="1" height="1" fill="#a0009e"/>
<rect x="255" y="471" width="1" height="1" fill="#2a00e4"/>
<rect x="253" y="470" width="1" height="1" fill="#a0009e"/>
<rect x="256" y="474" width="1" height="1" fill="#fc3a8a"/>
<rect x="254" y="470" width="1" height="1" fill="#2a00e4"/>
<rect x="257" y="469" width="1" height="1" fill="#a0009e"/>
<rect x="255" y="474" width="1" height="1" fill="#007c00"/>
<rect x="253" y="470" width="1" height="1" fill="#a0009e"/>
<rect x="250" y="473" width="1" height="1" fill="#2a00e4"/>
<rect x="256" y="473" width="1" height="1" fill="#fc3a8a"/>
<rect x="255" y="472" width="1" height="1" fill="#2a00e4"/>
<rect x="250" y="468" width="1" height="1" fill="#2a00e4"/>
<rect x="252" y="468" width="1" height="1" fill="#fc3a8a"/>
<rect x="251" y="473" width="1" height="1" fill="#007c00"/>
<rect x="251" y="474" width="1" height="1" fill="#a0009e"/>
<rect x="213" y="491" width="1" height="1" fill="#2a00e4"/>
<rect x="220" y="491" width="1" height="1" fill="#a0009e"/>
<rect x="222" y="491" width="1" height="1" fill="#f6b2aa"/>
<rect x="240" y="491" width="1" height="1" fill="#12dcf6"/>
<rect x="243" y="490" width="1" height="1" fill="#d8d400"/>
<rect x="245" y="491" width="1" height="1" fill="#2a00e4"/>
<rect x="247" y="491" width="1" height="1" fill="#a0009e"/>
<rect x="253" y="491" width="1" height="1" fill="#007c00"/>
<rect x="245" y="493" width="1" height="1" fill="#d8d400"/>
<rect x="227" y="499" width="1" height="1" fill="#d8d400"/>
<rect x="244" y="499" width="1" height="1" fill="#d8d400"/>
<rect x="211" y="501" width="1" height="1" fill="#12dcf6"/>
<rect x="247" y="501" width="1" height="1" fill="#fc3a8a"/>
<rect x="252" y="501" width="1" height="1" fill="#2a00e4"/>
<rect x="222" y="503" width="1" height="1" fill="#a0009e"/>
<rect x="232" y="503" width="1" height="1" fill="#2a00e4"/>
<rect x="245" y="503" width="1" height="1" fill="#2a00e4"/>
<rect x="253" y="503" width="1" height="1" fill="#2a00e4"/>
<rect x="256" y="502" width="1" height="1" fill="#d8d400"/>
<rect x="196" y="512" width="1" height="1" fill="#fc3a8a"/>
<rect x="197" y="512" width="1" height="1" fill="#fc3a8a"/>
<rect x="199" y="512" width="1" height="1" fill="#fc3a8a"/>
<rect x="201" y="512" width="1" height="1" fill="#fc3a8a"/>
<rect x="204" y="512" width="1" height="1" fill="#fc3a8a"/>
<rect x="205" y="512" width="1" height="1" fill="#fc3a8a"/>
<rect x="206" y="512" width="1" height="1" fill="#fc3a8a"/>
<rect x="207" y="512" width="1" height="1" fill="#fc3a8a"/>
<rect x="208" y="512" width="1" height="1" fill="#fc3a8a"/>
<rect x="203" y="513" width="1" height="1" fill="#2a00e4"/>
<rect x="208" y="511" width="1" height="1" fill="#d8d400"/>
<rect x="211" y="512" width="1" height="1" fill="#fc0030"/>
<rect x="210" y="511" width="1" height="1" fill="#fc0030"/>
<rect x="211" y="513" width="1" height="1" fill="#fc0030"/>
<rect x="210" y="514" width="1" height="1" fill="#fc0030"/>
<rect x="211" y="510" width="1" height="1" fill="#fc0030"/>
<rect x="210" y="511" width="1" height="1" fill="#fc0030"/>
<rect x="210" y="512" width="1" height="1" fill="#fc3a8a"/>
<rect x="209" y="510" width="1" height="1" fill="#fc3a8a"/>
<rect x="213" y="513" width="1" height="1" fill="#fc0030"/>
<rect x="210" y="511" width="1" height="1" fill="#fc0030"/>
<rect x="209" y="511" width="1" height="1" fill="#fc0030"/>
<rect x="213" y="514" width="1" height="1" fill="#fc0030"/>
<rect x="209" y="511" width="1" height="1" fill="#fc3a8a"/>
<rect x="209" y="510" width="1" height="1" fill="#fc0030"/>
<rect x="209" y="514" width="1" height="1" fill="#fc0030"/>
<rect x="211" y="513" width="1" height="1" fill="#fc0030"/>
<rect x="212" y="507" width="1" height="1" fill="#d8d400"/>
<rect x="214" y="509" width="1" height="1" fill="#d8d400"/>
<rect x="212" y="508" width="1" height="1" fill="#d8d400"/>
<rect x="214" y="508" width="1" height="1" fill="#d8d400"/>
<rect x="213" y="507" width="1" height="1" fill="#d8d400"/>
<rect x="214" y="508" width="1" height="1" fill="#d8d400"/>
<rect x="212" y="506" width="1" height="1" fill="#12dcf6"/>
<rect x="212" y="515" width="1" height="1" fill="#12dcf6"/>
<rect x="211" y="501" width="1" height="1" fill="#12dcf6"/>
<rect x="220" y="511" width="1" height="1" fill="#fc3a8a"/>
<rect x="220" y="509" width="1" height="1" fill="#fc0030"/>
<rect x="222" y="509" width="1" height="1" fill="#fc3a8a"/>
<rect x="221" y="508" width="1" height="1" fill="#fc0030"/>
<rect x="219" y="513" width="1" height="1" fill="#fc0030"/>
<rect x="221" y="509" width="1" height="1" fill="#fc0030"/>
<rect x="222" y="514" width="1" height="1" fill="#007c00"/>
<rect x="221" y="512" width="1" height="1" fill="#fc3a8a"/>
<rect x="222" y="508" width="1" height="1" fill="#fc3a8a"/>
<rect x="222" y="508" width="1" height="1" fill="#007c00"/>
<rect x="221" y="513" width="1" height="1" fill="#007c00"/>
<rect x="222" y="513" width="1" height="1" fill="#fc3a8a"/>
<rect x="219" y="511" width="1" height="1" fill="#fc3a8a"/>
<rect x="219" y="509" width="1" height="1" fill="#fc0030"/>
<rect x="222" y="510" width="1" height="1" fill="#fc3a8a"/>
<rect x="220" y="513" width="1" height="1" fill="#fc3a8a"/>
<rect x="222" y="510" width="1" height="1" fill="#fc0030"/>
<rect x="219" y="508" width="1" height="1" fill="#2a00e4"/>
<rect x="221" y="501" width="1" height="1" fill="#fc3a8a"/>
<rect x="221" y="503" width="1" height="1" fill="#12dcf6"/>
<rect x="222" y="504" width="1" height="1" fill="#fc3a8a"/>
<rect x="221" y="506" width="1" height="1" fill="#fc0030"/>
<rect x="222" y="506" width="1" height="1" fill="#007c00"/>
<rect x="220" y="508" width="3" height="1" fill="#fc3a8a"/>
<rect x="220" y="509" width="1" height="1" fill="#2a00e4"/>
<rect x="228" y="507" width="1" height="1" fill="#007c00"/>
<rect x="227" y="509" width="1" height="1" fill="#2a00e4"/>
<rect x="238" y="507" width="1" height="1" fill="#fc0030"/>
<rect x="231" y="510" width="1" height="1" fill="#fc3a8a"/>
<rect x="230" y="511" width="1" height="1" fill="#d8d400"/>
<rect x="226" y="511" width="1" height="1" fill="#007c00"/>
<rect x="239" y="514" width="1" height="1" fill="#007c00"/>
<rect x="242" y="508" width="1" height="1" fill="#fc3a8a"/>
<rect x="232" y="507" width="1" height="1" fill="#d8d400"/>
<rect x="240" y="513" width="1" height="1" fill="#007c00"/>
<rect x="242" y="507" width="1" height="1" fill="#12dcf6"/>
<rect x="231" y="507" width="1" height="1" fill="#fc0030"/>
<rect x="222" y="511" width="1" height="1" fill="#fc3a8a"/>
<rect x="229" y="511" width="1" height="1" fill="#2a00e4"/>
<rect x="233" y="512" width="1" height="1" fill="#12dcf6"/>
<rect x="232" y="508" width="1" height="1" fill="#fc0030"/>
<rect x="230" y="513" width="1" height="1" fill="#fc0030"/>
<rect x="226" y="513" width="1" height="1" fill="#007c00"/>
<rect x="229" y="507" width="1" height="1" fill="#fc0030"/>
<rect x="241" y="509" width="1" height="1" fill="#fc3a8a"/>
<rect x="239" y="507" width="1" height="1" fill="#007c00"/>
<rect x="238" y="512" width="1" height="1" fill="#fc0030"/>
<rect x="242" y="508" width="1" height="1" fill="#2a00e4"/>
<rect x="231" y="507" width="1" height="1" fill="#fc3a8a"/>
<rect x="239" y="514" width="1" height="1" fill="#d8d400"/>
<rect x="225" y="508" width="1" height="1" fill="#fc0030"/>
<rect x="232" y="513" width="1" height="1" fill="#fc3a8a"/>
<rect x="233" y="508" width="1" height="1" fill="#007c00"/>
<rect x="222" y="509" width="1" height="1" fill="#80b266"/>
<rect x="233" y="511" width="1" height="1" fill="#d8d400"/>
<rect x="234" y="513" width="1" height="1" fill="#fc3a8a"/>
<rect x="240" y="510" width="1" height="1" fill="#d8d400"/>
<rect x="238" y="514" width="1" height="1" fill="#007c00"/>
<rect x="239" y="507" width="1" height="1" fill="#007c00"/>
<rect x="226" y="507" width="1" height="1" fill="#2a00e4"/>
<rect x="234" y="512" width="1" height="1" fill="#d8d400"/>
<rect x="233" y="508" width="1" height="1" fill="#12dcf6"/>
<rect x="223" y="512" width="1" height="1" fill="#fc3a8a"/>
<rect x="240" y="507" width="1" height="1" fill="#d8d400"/>
<rect x="241" y="513" width="1" height="1" fill="#007c00"/>
<rect x="223" y="514" width="1" height="1" fill="#12dcf6"/>
<rect x="235" y="511" width="1" height="1" fill="#2a00e4"/>
<rect x="232" y="513" width="1" height="1" fill="#fc3a8a"/>
<rect x="224" y="510" width="1" height="1" fill="#fc3a8a"/>
<rect x="227" y="511" width="1" height="1" fill="#12dcf6"/>
<rect x="222" y="511" width="1" height="1" fill="#d8d400"/>
<rect x="224" y="509" width="1" height="1" fill="#fc0030"/>
<rect x="239" y="509" width="1" height="1" fill="#2a00e4"/>
<rect x="224" y="507" width="1" height="1" fill="#12dcf6"/>
<rect x="232" y="513" width="1" height="1" fill="#80b266"/>
<rect x="224" y="512" width="1" height="1" fill="#fc3a8a"/>
<rect x="224" y="509" width="1" height="1" fill="#80b266"/>
<rect x="239" y="507" width="1" height="1" fill="#007c00"/>
<rect x="242" y="507" width="1" height="1" fill="#12dcf6"/>
<rect x="222" y="509" width="1" height="1" fill="#007c00"/>
<rect x="226" y="507" width="1" height="1" fill="#fc0030"/>
<rect x="235" y="510" width="1" height="1" fill="#007c00"/>
<rect x="238" y="512" width="1" height="1" fill="#fc0030"/>
<rect x="236" y="510" width="1" height="1" fill="#fc0030"/>
<rect x="242" y="510" width="1" height="1" fill="#2a00e4"/>
<rect x="241" y="513" width="1" height="1" fill="#fc0030"/>
<rect x="239" y="513" width="1" height="1" fill="#007c00"/>
<rect x="236" y="513" width="1" height="1" fill="#80b266"/>
<rect x="225" y="511" width="1" height="1" fill="#007c00"/>
<rect x="233" y="511" width="1" height="1" fill="#007c00"/>
<rect x="226" y="511" width="1" height="1" fill="#fc3a8a"/>
<rect x="238" y="512" width="1" height="1" fill="#007c00"/>
<rect x="239" y="511" width="1" height="1" fill="#fc0030"/>
<rect x="239" y="511" width="1" height="1" fill="#fc3a8a"/>
<rect x="237" y="512" width="1" height="1" fill="#fc3a8a"/>
<rect x="232" y="513" width="1" height="1" fill="#fc3a8a"/>
<rect x="232" y="513" width="1" height="1" fill="#fc0030"/>
<rect x="239" y="511" width="1" height="1" fill="#007c00"/>
<rect x="229" y="512" width="1" height="1" fill="#007c00"/>
<rect x="229" y="511" width="1" height="1" fill="#fc0030"/>
<rect x="232" y="512" width="1" height="1" fill="#80b266"/>
<rect x="238" y="511" width="1" height="1" fill="#007c00"/>
<rect x="241" y="513" width="1" height="1" fill="#fc0030"/>
<rect x="237" y="513" width="1" height="1" fill="#80b266"/>
<rect x="229" y="513" width="1" height="1" fill="#fc3a8a"/>
<rect x="231" y="513" width="1" height="1" fill="#fc0030"/>
<rect x="228" y="513" width="1" height="1" fill="#80b266"/>
<rect x="237" y="511" width="1" height="1" fill="#007c00"/>
<rect x="230" y="512" width="1" height="1" fill="#fc0030"/>
<rect x="228" y="511" width="1" height="1" fill="#80b266"/>
<rect x="246" y="507" width="1" height="1" fill="#d8d400"/>
<rect x="249" y="510" width="1" height="1" fill="#12dcf6"/>
<rect x="245" y="509" width="1" height="1" fill="#f6b2aa"/>
<rect x="249" y="507" width="1" height="1" fill="#007c00"/>
<rect x="250" y="513" width="1" height="1" fill="#007c00"/>
<rect x="250" y="511" width="1" height="1" fill="#12dcf6"/>
<rect x="247" y="506" width="1" height="1" fill="#fc3a8a"/>
<rect x="243" y="507" width="1" height="1" fill="#d8d400"/>
<rect x="250" y="513" width="1" height="1" fill="#fc3a8a"/>
<rect x="245" y="511" width="1" height="1" fill="#12dcf6"/>
<rect x="250" y="513" width="1" height="1" fill="#12dcf6"/>
<rect x="250" y="508" width="1" height="1" fill="#007c00"/>
<rect x="244" y="510" width="1" height="1" fill="#80b266"/>
<rect x="246" y="508" width="1" height="1" fill="#fc3a8a"/>
<rect x="242" y="508" width="1" height="1" fill="#007c00"/>
<rect x="245" y="512" width="1" height="1" fill="#007c00"/>
<rect x="249" y="510" width="1" height="1" fill="#d8d400"/>
<rect x="246" y="513" width="1" height="1" fill="#007c00"/>
<rect x="244" y="507" width="1" height="1" fill="#007c00"/>
<rect x="246" y="507" width="1" height="1" fill="#d8d400"/>
<rect x="245" y="509" width="1" height="1" fill="#007c00"/>
<rect x="247" y="510" width="1" height="1" fill="#f6b2aa"/>
<rect x="249" y="514" width="1" height="1" fill="#fc3a8a"/>
<rect x="244" y="508" width="1" height="1" fill="#007c00"/>
<rect x="242" y="511" width="1" height="1" fill="#12dcf6"/>
<rect x="250" y="507" width="1" height="1" fill="#d8d400"/>
<rect x="249" y="509" width="1" height="1" fill="#d8d400"/>
<rect x="243" y="514" width="1" height="1" fill="#12dcf6"/>
<rect x="250" y="509" width="1" height="1" fill="#f6b2aa"/>
<rect x="246" y="511" width="1" height="1" fill="#fc3a8a"/>
<rect x="243" y="509" width="1" height="1" fill="#80b266"/>
<rect x="250" y="510" width="1" height="1" fill="#d8d400"/>
<rect x="249" y="509" width="1" height="1" fill="#007c00"/>
<rect x="247" y="508" width="1" height="1" fill="#007c00"/>
<rect x="246" y="513" width="1" height="1" fill="#f6b2aa"/>
<rect x="248" y="511" width="1" height="1" fill="#f6b2aa"/>
<rect x="245" y="510" width="1" height="1" fill="#12dcf6"/>
<rect x="249" y="512" width="1" height="1" fill="#12dcf6"/>
<rect x="246" y="511" width="1" height="1" fill="#007c00"/>
<rect x="246" y="511" width="1" height="1" fill="#80b266"/>
<rect x="246" y="508" width="1" height="1" fill="#007c00"/>
<rect x="243" y="511" width="1" height="1" fill="#007c00"/>
<rect x="249" y="512" width="1" height="1" fill="#fc3a8a"/>
<rect x="248" y="508" width="1" height="1" fill="#d8d400"/>
<rect x="248" y="506" width="1" height="1" fill="#007c00"/>
<rect x="254" y="509" width="1" height="1" fill="#d8d400"/>
<rect x="251" y="510" width="1" height="1" fill="#80b266"/>
<rect x="256" y="508" width="1" height="1" fill="#80b266"/>
<rect x="250" y="512" width="1" height="1" fill="#fc3a8a"/>
<rect x="253" y="514" width="1" height="1" fill="#f6b2aa"/>
<rect x="250" y="512" width="1" height="1" fill="#80b266"/>
<rect x="253" y="508" width="1" height="1" fill="#d8d400"/>
<rect x="254" y="513" width="1" height="1" fill="#f6b2aa"/>
<rect x="252" y="508" width="1" height="1" fill="#f6b2aa"/>
<rect x="255" y="512" width="1" height="1" fill="#f6b2aa"/>
<rect x="252" y="513" width="1" height="1" fill="#80b266"/>
<rect x="254" y="514" width="1" height="1" fill="#fc3a8a"/>
<rect x="257" y="514" width="1" height="1" fill="#f6b2aa"/>
<rect x="257" y="508" width="1" height="1" fill="#d8d400"/>
<rect x="257" y="511" width="1" height="1" fill="#007c00"/>
<rect x="258" y="514" width="1" height="1" fill="#f6b2aa"/>
<rect x="256" y="508" width="1" height="1" fill="#80b266"/>
<rect x="250" y="514" width="1" height="1" fill="#007c00"/>
<rect x="256" y="514" width="1" height="1" fill="#80b266"/>
<rect x="258" y="514" width="1" height="1" fill="#007c00"/>
<rect x="257" y="509" width="1" height="1" fill="#007c00"/>
<rect x="252" y="511" width="1" height="1" fill="#80b266"/>
<rect x="257" y="508" width="1" height="1" fill="#80b266"/>
<rect x="252" y="512" width="1" height="1" fill="#d8d400"/>
<rect x="257" y="509" width="1" height="1" fill="#f6b2aa"/>
<rect x="257" y="513" width="1" height="1" fill="#007c00"/>
<rect x="258" y="513" width="1" height="1" fill="#fc3a8a"/>
<rect x="257" y="510" width="1" height="1" fill="#fc3a8a"/>
<rect x="250" y="512" width="1" height="1" fill="#007c00"/>
<rect x="250" y="512" width="1" height="1" fill="#d8d400"/>
<rect x="254" y="513" width="1" height="1" fill="#80b266"/>
<rect x="256" y="511" width="1" height="1" fill="#fc3a8a"/>
<rect x="255" y="509" width="1" height="1" fill="#fc3a8a"/>
<rect x="254" y="508" width="1" height="1" fill="#80b266"/>
<rect x="257" y="513" width="1" height="1" fill="#d8d400"/>
<rect x="255" y="511" width="1" height="1" fill="#fc3a8a"/>
<rect x="257" y="508" width="1" height="1" fill="#007c00"/>
<rect x="254" y="510" width="1" height="1" fill="#007c00"/>
<rect x="256" y="508" width="1" height="1" fill="#d8d400"/>
<rect x="256" y="508" width="1" height="1" fill="#80b266"/>
<rect x="227" y="506" width="1" height="1" fill="#d8d400"/>
<rect x="232" y="505" width="1" height="1" fill="#d8d400"/>
<rect x="232" y="507" width="1" height="1" fill="#12dcf6"/>
<rect x="232" y="503" width="1" height="1" fill="#2a00e4"/>
<rect x="237" y="505" width="2" height="1" fill="#44a8f8"/>
<rect x="239" y="510" width="1" height="1" fill="#2a00e4"/>
<rect x="240" y="505" width="1" height="1" fill="#fc0030"/>
<rect x="227" y="499" width="1" height="1" fill="#d8d400"/>
<rect x="240" y="503" width="1" height="1" fill="#44a8f8"/>
<rect x="242" y="501" width="1" height="1" fill="#f6b2aa"/>
<rect x="244" y="499" width="1" height="1" fill="#d8d400"/>
<rect x="245" y="503" width="1" height="1" fill="#2a00e4"/>
<rect x="247" y="503" width="1" height="1" fill="#44a8f8"/>
<rect x="251" y="501" width="1" height="1" fill="#44a8f8"/>
<rect x="251" y="503" width="1" height="1" fill="#80b266"/>
<rect x="253" y="503" width="1" height="1" fill="#2a00e4"/>
<rect x="251" y="506" width="1" height="1" fill="#12dcf6"/>
<rect x="254" y="505" width="1" height="1" fill="#44a8f8"/>
<rect x="256" y="505" width="1" height="1" fill="#d8d400"/>
<rect x="258" y="507" width="1" height="1" fill="#d8d400"/>
<rect x="270" y="389" width="1" height="1" fill="#fc0030"/>
<rect x="272" y="390" width="1" height="1" fill="#fc0030"/>
<rect x="271" y="387" width="1" height="1" fill="#fc0030"/>
<rect x="271" y="387" width="1" height="1" fill="#fc3a8a"/>
<rect x="270" y="383" width="1" height="1" fill="#d8d400"/>
<rect x="271" y="392" width="1" height="1" fill="#fc0030"/>
<rect x="270" y="392" width="1" height="1" fill="#fc0030"/>
<rect x="271" y="392" width="1" height="1" fill="#fc3a8a"/>
<rect x="270" y="392" width="1" height="1" fill="#fc0030"/>
<rect x="272" y="388" width="1" height="1" fill="#fc3a8a"/>
<rect x="271" y="388" width="1" height="1" fill="#fc3a8a"/>
<rect x="271" y="391" width="1" height="1" fill="#d8d400"/>
<rect x="271" y="382" width="1" height="1" fill="#fc3a8a"/>
<rect x="270" y="386" width="1" height="1" fill="#fc3a8a"/>
<rect x="272" y="388" width="1" height="1" fill="#fc0030"/>
<rect x="271" y="392" width="1" height="1" fill="#fc3a8a"/>
<rect x="271" y="392" width="1" height="4" fill="#2a00e4"/>
<rect x="271" y="396" width="1" height="1" fill="#12dcf6"/>
<rect x="274" y="387" width="1" height="1" fill="#2a00e4"/>
<rect x="279" y="380" width="1" height="5" fill="#2a00e4"/>
<rect x="278" y="386" width="1" height="4" fill="#2a00e4"/>
<rect x="278" y="391" width="1" height="1" fill="#12dcf6"/>
<rect x="273" y="411" width="1" height="1" fill="#007c00"/>
<rect x="270" y="411" width="1" height="1" fill="#80b266"/>
<rect x="271" y="407" width="1" height="1" fill="#007c00"/>
<rect x="270" y="407" width="1" height="1" fill="#007c00"/>
<rect x="271" y="411" width="1" height="1" fill="#12dcf6"/>
<rect x="271" y="412" width="1" height="1" fill="#80b266"/>
<rect x="273" y="412" width="1" height="1" fill="#12dcf6"/>
<rect x="270" y="412" width="1" height="1" fill="#12dcf6"/>
<rect x="273" y="407" width="1" height="1" fill="#80b266"/>
<rect x="272" y="410" width="1" height="1" fill="#007c00"/>
<rect x="275" y="406" width="1" height="1" fill="#007c00"/>
<rect x="272" y="402" width="1" height="1" fill="#007c00"/>
<rect x="273" y="403" width="1" height="1" fill="#80b266"/>
<rect x="272" y="408" width="1" height="1" fill="#2a00e4"/>
<rect x="276" y="402" width="1" height="1" fill="#12dcf6"/>
<rect x="276" y="402" width="1" height="1" fill="#12dcf6"/>
<rect x="274" y="405" width="1" height="1" fill="#007c00"/>
<rect x="272" y="408" width="1" height="1" fill="#2a00e4"/>
<rect x="273" y="407" width="1" height="1" fill="#80b266"/>
<rect x="273" y="406" width="1" height="1" fill="#007c00"/>
<rect x="276" y="404" width="1" height="1" fill="#007c00"/>
<rect x="273" y="408" width="1" height="1" fill="#80b266"/>
<rect x="279" y="399" width="1" height="1" fill="#007c00"/>
<rect x="277" y="401" width="1" height="1" fill="#d8d400"/>
<rect x="275" y="404" width="1" height="1" fill="#007c00"/>
<rect x="277" y="403" width="1" height="1" fill="#a0009e"/>
<rect x="277" y="397" width="1" height="1" fill="#d8d400"/>
<rect x="275" y="403" width="1" height="1" fill="#007c00"/>
<rect x="278" y="402" width="1" height="1" fill="#2a00e4"/>
<rect x="275" y="403" width="1" height="1" fill="#d8d400"/>
<rect x="276" y="401" width="1" height="1" fill="#2a00e4"/>
<rect x="275" y="401" width="1" height="1" fill="#d8d400"/>
<rect x="277" y="398" width="1" height="1" fill="#007c00"/>
<rect x="278" y="402" width="1" height="1" fill="#007c00"/>
<rect x="279" y="397" width="1" height="1" fill="#007c00"/>
<rect x="276" y="397" width="1" height="1" fill="#d8d400"/>
<rect x="283" y="397" width="1" height="1" fill="#2a00e4"/>
<rect x="282" y="397" width="1" height="1" fill="#80b266"/>
<rect x="283" y="391" width="1" height="1" fill="#d8d400"/>
<rect x="277" y="391" width="1" height="1" fill="#80b266"/>
<rect x="277" y="398" width="1" height="1" fill="#007c00"/>
<rect x="282" y="393" width="1" height="1" fill="#80b266"/>
<rect x="278" y="389" width="1" height="1" fill="#2a00e4"/>
<rect x="282" y="397" width="1" height="1" fill="#2a00e4"/>
<rect x="278" y="399" width="1" height="1" fill="#007c00"/>
<rect x="277" y="394" width="1" height="1" fill="#007c00"/>
<rect x="282" y="395" width="1" height="1" fill="#007c00"/>
<rect x="278" y="391" width="1" height="1" fill="#2a00e4"/>
<rect x="280" y="394" width="1" height="1" fill="#2a00e4"/>
<rect x="278" y="398" width="1" height="1" fill="#d8d400"/>
<rect x="281" y="393" width="1" height="1" fill="#2a00e4"/>
<rect x="282" y="391" width="1" height="1" fill="#007c00"/>
<rect x="282" y="390" width="1" height="1" fill="#007c00"/>
<rect x="279" y="399" width="1" height="1" fill="#d8d400"/>
<rect x="279" y="389" width="1" height="1" fill="#007c00"/>
<rect x="279" y="397" width="1" height="1" fill="#2a00e4"/>
<rect x="281" y="394" width="1" height="1" fill="#007c00"/>
<rect x="279" y="392" width="1" height="1" fill="#d8d400"/>
<rect x="281" y="395" width="1" height="1" fill="#007c00"/>
<rect x="278" y="390" width="1" height="1" fill="#2a00e4"/>
<rect x="286" y="380" width="1" height="1" fill="#007c00"/>
<rect x="286" y="382" width="1" height="1" fill="#007c00"/>
<rect x="286" y="384" width="1" height="1" fill="#007c00"/>
<rect x="286" y="386" width="1" height="1" fill="#007c00"/>
<rect x="286" y="388" width="1" height="1" fill="#007c00"/>
<rect x="286" y="390" width="1" height="1" fill="#007c00"/>
<rect x="286" y="392" width="1" height="1" fill="#007c00"/>
<rect x="289" y="380" width="2" height="1" fill="#007c00"/>
<rect x="289" y="381" width="1" height="1" fill="#007c00"/>
<rect x="287" y="384" width="1" height="1" fill="#a0009e"/>
<rect x="290" y="389" width="1" height="1" fill="#80b266"/>
<rect x="290" y="391" width="1" height="1" fill="#f6b2aa"/>
<rect x="282" y="418" width="1" height="1" fill="#2a00e4"/>
<rect x="278" y="421" width="1" height="1" fill="#44a8f8"/>
<rect x="341" y="405" width="1" height="1" fill="#a0009e"/>
<rect x="326" y="380" width="1" height="2" fill="#007c00"/>
<rect x="326" y="382" width="1" height="3" fill="#f6b2aa"/>
<rect x="326" y="385" width="1" height="12" fill="#d8d400"/>
<rect x="326" y="390" width="1" height="3" fill="#12dcf6"/>
<rect x="326" y="397" width="1" height="1" fill="#007c00"/>
<rect x="326" y="399" width="1" height="1" fill="#007c00"/>
<rect x="326" y="401" width="1" height="1" fill="#007c00"/>
<rect x="326" y="403" width="1" height="1" fill="#007c00"/>
<rect x="326" y="405" width="1" height="1" fill="#007c00"/>
<rect x="326" y="398" width="1" height="5" fill="#d8d400"/>
<rect x="326" y="409" width="1" height="9" fill="#007c00"/>
<rect x="326" y="418" width="1" height="2" fill="#12dcf6"/>
<rect x="326" y="420" width="1" height="1" fill="#f6b2aa"/>
<rect x="326" y="421" width="1" height="30" fill="#12dcf6"/>
<rect x="326" y="441" width="1" height="6" fill="#d8d400"/>
<rect x="328" y="439" width="1" height="1" fill="#44a8f8"/>
<rect x="328" y="444" width="1" height="1" fill="#44a8f8"/>
<rect x="328" y="447" width="1" height="1" fill="#44a8f8"/>
<rect x="328" y="441" width="1" height="1" fill="#007c00"/>
<rect x="328" y="446" width="1" height="1" fill="#007c00"/>
<rect x="296" y="460" width="1" height="38" fill="#f6b2aa"/>
<rect x="296" y="460" width="1" height="1" fill="#2a00e4"/>
<rect x="296" y="462" width="1" height="1" fill="#2a00e4"/>
<rect x="296" y="469" width="1" height="1" fill="#2a00e4"/>
<rect x="296" y="480" width="1" height="1" fill="#2a00e4"/>
<rect x="296" y="496" width="1" height="1" fill="#2a00e4"/>
<rect x="296" y="485" width="1" height="1" fill="#d8d400"/>
<rect x="296" y="488" width="1" height="3" fill="#d8d400"/>
<rect x="296" y="498" width="1" height="2" fill="#d8d400"/>
<rect x="296" y="501" width="1" height="1" fill="#d8d400"/>
<rect x="278" y="471" width="1" height="2" fill="#007c00"/>
<rect x="307" y="503" width="1" height="1" fill="#44a8f8"/>
<rect x="306" y="511" width="1" height="1" fill="#44a8f8"/>
<rect x="326" y="451" width="1" height="69" fill="#007c00"/>
<rect x="326" y="445" width="1" height="3" fill="#12dcf6"/>
<rect x="326" y="448" width="1" height="4" fill="#d8d400"/>
<rect x="326" y="456" width="1" height="15" fill="#80b266"/>
<rect x="326" y="470" width="1" height="3" fill="#f6b2aa"/>
<rect x="326" y="472" width="1" height="6" fill="#80b266"/>
<rect x="326" y="477" width="1" height="3" fill="#12dcf6"/>
<rect x="326" y="480" width="1" height="10" fill="#d8d400"/>
<rect x="326" y="493" width="1" height="3" fill="#f6b2aa"/>
<rect x="326" y="511" width="1" height="2" fill="#12dcf6"/>
<rect x="328" y="446" width="1" height="1" fill="#44a8f8"/>
<rect x="328" y="450" width="1" height="1" fill="#44a8f8"/>
<rect x="328" y="463" width="1" height="1" fill="#44a8f8"/>
<rect x="328" y="474" width="1" height="1" fill="#44a8f8"/>
<rect x="328" y="476" width="1" height="1" fill="#44a8f8"/>
<rect x="328" y="478" width="1" height="1" fill="#44a8f8"/>
<rect x="328" y="480" width="1" height="1" fill="#44a8f8"/>
<rect x="328" y="482" width="1" height="1" fill="#44a8f8"/>
<rect x="328" y="484" width="1" height="1" fill="#44a8f8"/>
<rect x="328" y="486" width="1" height="1" fill="#44a8f8"/>
<rect x="328" y="496" width="1" height="1" fill="#44a8f8"/>
<rect x="328" y="487" width="1" height="4" fill="#007c00"/>
<rect x="328" y="498" width="1" height="1" fill="#80b266"/>
<rect x="328" y="445" width="1" height="1" fill="#007c00"/>
<rect x="334" y="512" width="1" height="8" fill="#007c00"/>
<rect x="334" y="512" width="1" height="1" fill="#12dcf6"/>
<rect x="341" y="495" width="1" height="16" fill="#a0009e"/>
<rect x="271" y="510" width="1" height="1" fill="#d8d400"/>
<rect x="268" y="508" width="1" height="1" fill="#fc3a8a"/>
<rect x="271" y="509" width="1" height="1" fill="#d8d400"/>
<rect x="271" y="510" width="1" height="1" fill="#d8d400"/>
<rect x="269" y="509" width="1" height="1" fill="#007c00"/>
<rect x="270" y="506" width="1" height="1" fill="#d8d400"/>
<rect x="276" y="510" width="1" height="1" fill="#007c00"/>
<rect x="275" y="510" width="1" height="1" fill="#007c00"/>
<rect x="274" y="511" width="1" height="1" fill="#007c00"/>
<rect x="269" y="511" width="1" height="1" fill="#d8d400"/>
<rect x="272" y="508" width="1" height="1" fill="#d8d400"/>
<rect x="273" y="509" width="1" height="1" fill="#d8d400"/>
<rect x="274" y="508" width="1" height="1" fill="#d8d400"/>
<rect x="269" y="511" width="1" height="1" fill="#f6b2aa"/>
<rect x="274" y="505" width="1" height="1" fill="#007c00"/>
<rect x="275" y="508" width="1" height="1" fill="#fc3a8a"/>
<rect x="269" y="510" width="1" height="1" fill="#007c00"/>
<rect x="268" y="510" width="1" height="1" fill="#f6b2aa"/>
<rect x="273" y="505" width="1" height="1" fill="#80b266"/>
<rect x="270" y="505" width="1" height="1" fill="#d8d400"/>
<rect x="270" y="509" width="1" height="1" fill="#d8d400"/>
<rect x="270" y="511" width="1" height="1" fill="#f6b2aa"/>
<rect x="273" y="512" width="1" height="1" fill="#007c00"/>
<rect x="275" y="509" width="1" height="1" fill="#007c00"/>
<rect x="270" y="505" width="1" height="1" fill="#d8d400"/>
<rect x="269" y="505" width="1" height="1" fill="#fc3a8a"/>
<rect x="273" y="512" width="1" height="1" fill="#007c00"/>
<rect x="269" y="512" width="1" height="1" fill="#007c00"/>
<rect x="279" y="511" width="1" height="1" fill="#2a00e4"/>
<rect x="282" y="507" width="1" height="1" fill="#2a00e4"/>
<rect x="279" y="509" width="1" height="1" fill="#d8d400"/>
<rect x="283" y="510" width="1" height="1" fill="#2a00e4"/>
<rect x="277" y="511" width="1" height="1" fill="#2a00e4"/>
<rect x="279" y="511" width="1" height="1" fill="#f6b2aa"/>
<rect x="284" y="507" width="1" height="1" fill="#2a00e4"/>
<rect x="279" y="506" width="1" height="1" fill="#d8d400"/>
<rect x="279" y="510" width="1" height="1" fill="#2a00e4"/>
<rect x="284" y="510" width="1" height="1" fill="#007c00"/>
<rect x="279" y="509" width="1" height="1" fill="#2a00e4"/>
<rect x="283" y="511" width="1" height="1" fill="#f6b2aa"/>
<rect x="278" y="507" width="1" height="1" fill="#2a00e4"/>
<rect x="278" y="512" width="1" height="1" fill="#d8d400"/>
<rect x="283" y="511" width="1" height="1" fill="#007c00"/>
<rect x="283" y="511" width="1" height="1" fill="#2a00e4"/>
<rect x="283" y="512" width="1" height="1" fill="#f6b2aa"/>
<rect x="279" y="512" width="1" height="1" fill="#007c00"/>
<rect x="282" y="507" width="1" height="1" fill="#d8d400"/>
<rect x="280" y="511" width="1" height="1" fill="#d8d400"/>
<rect x="283" y="507" width="1" height="1" fill="#2a00e4"/>
<rect x="284" y="511" width="1" height="1" fill="#d8d400"/>
<rect x="278" y="503" width="1" height="1" fill="#2a00e4"/>
<rect x="278" y="500" width="1" height="1" fill="#f6b2aa"/>
<rect x="271" y="505" width="1" height="1" fill="#d8d400"/>
<rect x="286" y="509" width="1" height="3" fill="#d8d400"/>
<rect x="286" y="508" width="1" height="1" fill="#f6b2aa"/>
<rect x="351" y="56" width="1" height="3" fill="#d8d400"/>
<rect x="352" y="60" width="1" height="1" fill="#44a8f8"/>
<rect x="350" y="64" width="1" height="1" fill="#fc0030"/>
<rect x="352" y="67" width="1" height="4" fill="#a0009e"/>
<rect x="350" y="73" width="1" height="1" fill="#2a00e4"/>
<rect x="350" y="79" width="1" height="2" fill="#2a00e4"/>
<rect x="350" y="85" width="1" height="1" fill="#a0009e"/>
<rect x="350" y="86" width="1" height="7" fill="#2a00e4"/>
<rect x="350" y="89" width="1" height="1" fill="#a0009e"/>
<rect x="371" y="56" width="1" height="1" fill="#f6b2aa"/>
<rect x="386" y="60" width="1" height="1" fill="#f6b2aa"/>
<rect x="371" y="66" width="1" height="3" fill="#f6b2aa"/>
<rect x="378" y="111" width="1" height="1" fill="#f6b2aa"/>
<rect x="397" y="56" width="1" height="2" fill="#12dcf6"/>
<rect x="397" y="58" width="1" height="9" fill="#2a00e4"/>
<rect x="397" y="60" width="1" height="1" fill="#d8d400"/>
<rect x="397" y="63" width="1" height="1" fill="#d8d400"/>
<rect x="397" y="69" width="1" height="4" fill="#f6b2aa"/>
<rect x="397" y="72" width="1" height="9" fill="#12dcf6"/>
<rect x="397" y="78" width="1" height="2" fill="#2a00e4"/>
<rect x="397" y="82" width="1" height="3" fill="#007c00"/>
<rect x="397" y="86" width="1" height="1" fill="#2a00e4"/>
<rect x="397" y="87" width="1" height="8" fill="#d8d400"/>
<rect x="397" y="94" width="1" height="6" fill="#12dcf6"/>
<rect x="397" y="100" width="1" height="1" fill="#f6b2aa"/>
<rect x="397" y="102" width="1" height="1" fill="#d8d400"/>
<rect x="397" y="104" width="1" height="6" fill="#a0009e"/>
<rect x="397" y="109" width="1" height="5" fill="#d8d400"/>
<rect x="397" y="122" width="1" height="3" fill="#12dcf6"/>
<rect x="397" y="125" width="1" height="1" fill="#2a00e4"/>
<rect x="397" y="126" width="1" height="14" fill="#d8d400"/>
<rect x="397" y="140" width="1" height="1" fill="#2a00e4"/>
<rect x="410" y="87" width="1" height="3" fill="#2a00e4"/>
<rect x="410" y="99" width="1" height="1" fill="#2a00e4"/>
<rect x="419" y="102" width="1" height="1" fill="#d8d400"/>
<rect x="419" y="103" width="1" height="2" fill="#007c00"/>
<rect x="419" y="105" width="1" height="1" fill="#007c00"/>
<rect x="419" y="114" width="1" height="1" fill="#007c00"/>
<rect x="419" y="120" width="1" height="1" fill="#80b266"/>
<rect x="419" y="122" width="1" height="1" fill="#80b266"/>
<rect x="419" y="124" width="1" height="1" fill="#80b266"/>
<rect x="424" y="117" width="1" height="1" fill="#12dcf6"/>
<rect x="424" y="121" width="1" height="2" fill="#f6b2aa"/>
<rect x="424" y="123" width="1" height="4" fill="#12dcf6"/>
<rect x="424" y="128" width="1" height="4" fill="#12dcf6"/>
<rect x="424" y="133" width="1" height="4" fill="#12dcf6"/>
<rect x="424" y="138" width="1" height="4" fill="#12dcf6"/>
<rect x="424" y="143" width="1" height="4" fill="#12dcf6"/>
<rect x="424" y="148" width="1" height="4" fill="#12dcf6"/>
<rect x="424" y="153" width="1" height="4" fill="#12dcf6"/>
<rect x="424" y="139" width="1" height="1" fill="#f6b2aa"/>
<rect x="372" y="147" width="1" height="1" fill="#f6b2aa"/>
<rect x="372" y="152" width="1" height="1" fill="#f6b2aa"/>
<rect x="372" y="154" width="1" height="1" fill="#12dcf6"/>
<rect x="372" y="156" width="1" height="3" fill="#f6b2aa"/>
<rect x="371" y="158" width="1" height="1" fill="#44a8f8"/>
<rect x="372" y="159" width="1" height="1" fill="#12dcf6"/>
<rect x="372" y="164" width="1" height="2" fill="#12dcf6"/>
<rect x="372" y="169" width="1" height="1" fill="#f6b2aa"/>
<rect x="372" y="171" width="1" height="1" fill="#f6b2aa"/>
<rect x="372" y="173" width="1" height="1" fill="#f6b2aa"/>
<rect x="372" y="175" width="1" height="1" fill="#f6b2aa"/>
<rect x="372" y="186" width="1" height="2" fill="#f6b2aa"/>
<rect x="385" y="178" width="1" height="1" fill="#12dcf6"/>
<rect x="424" y="156" width="1" height="2" fill="#12dcf6"/>
<rect x="424" y="159" width="1" height="2" fill="#12dcf6"/>
<rect x="424" y="162" width="1" height="2" fill="#12dcf6"/>
<rect x="424" y="165" width="1" height="2" fill="#12dcf6"/>
<rect x="424" y="168" width="1" height="2" fill="#12dcf6"/>
<rect x="424" y="171" width="1" height="2" fill="#12dcf6"/>
<rect x="424" y="174" width="1" height="2" fill="#12dcf6"/>
<rect x="424" y="177" width="1" height="2" fill="#12dcf6"/>
<rect x="424" y="180" width="1" height="2" fill="#12dcf6"/>
<rect x="424" y="183" width="1" height="2" fill="#12dcf6"/>
<rect x="424" y="186" width="1" height="2" fill="#12dcf6"/>
<rect x="424" y="189" width="1" height="2" fill="#12dcf6"/>
<rect x="424" y="192" width="1" height="2" fill="#12dcf6"/>
<rect x="424" y="195" width="1" height="2" fill="#12dcf6"/>
<rect x="424" y="198" width="1" height="2" fill="#12dcf6"/>
<rect x="424" y="201" width="1" height="2" fill="#12dcf6"/>
<rect x="424" y="228" width="1" height="1" fill="#12dcf6"/>
<rect x="424" y="233" width="1" height="1" fill="#f6b2aa"/>
<rect x="424" y="235" width="1" height="2" fill="#12dcf6"/>
<rect x="424" y="238" width="1" height="2" fill="#12dcf6"/>
<rect x="424" y="241" width="1" height="2" fill="#12dcf6"/>
<rect x="424" y="244" width="1" height="2" fill="#12dcf6"/>
<rect x="424" y="247" width="1" height="2" fill="#12dcf6"/>
<rect x="352" y="224" width="1" height="1" fill="#fc0030"/>
<rect x="352" y="226" width="1" height="10" fill="#fc3a8a"/>
<rect x="352" y="228" width="1" height="1" fill="#d8d400"/>
<rect x="352" y="231" width="1" height="1" fill="#d8d400"/>
<rect x="352" y="236" width="1" height="7" fill="#f6b2aa"/>
<rect x="352" y="243" width="1" height="8" fill="#d8d400"/>
<rect x="352" y="245" width="1" height="101" fill="#d8d400"/>
<rect x="353" y="255" width="1" height="4" fill="#fc0030"/>
<rect x="353" y="260" width="1" height="1" fill="#2a00e4"/>
<rect x="353" y="262" width="1" height="6" fill="#fc3a8a"/>
<rect x="353" y="264" width="1" height="1" fill="#fc0030"/>
<rect x="353" y="270" width="1" height="8" fill="#2a00e4"/>
<rect x="351" y="275" width="1" height="11" fill="#d8d400"/>
<rect x="351" y="278" width="1" height="1" fill="#007c00"/>
<rect x="351" y="281" width="1" height="1" fill="#007c00"/>
<rect x="352" y="282" width="1" height="9" fill="#f6b2aa"/>
<rect x="353" y="293" width="1" height="3" fill="#2a00e4"/>
<rect x="351" y="298" width="1" height="1" fill="#2a00e4"/>
<rect x="353" y="300" width="1" height="16" fill="#fc3a8a"/>
<rect x="353" y="303" width="1" height="1" fill="#fc0030"/>
<rect x="353" y="309" width="1" height="1" fill="#fc0030"/>
<rect x="351" y="315" width="1" height="26" fill="#d8d400"/>
<rect x="352" y="320" width="1" height="8" fill="#fc3a8a"/>
<rect x="352" y="340" width="1" height="6" fill="#fc0030"/>
<rect x="353" y="278" width="1" height="13" fill="#f6b2aa"/>
<rect x="348" y="276" width="1" height="1" fill="#f6b2aa"/>
<rect x="372" y="294" width="1" height="1" fill="#f6b2aa"/>
<rect x="372" y="296" width="1" height="1" fill="#f6b2aa"/>
<rect x="372" y="298" width="1" height="1" fill="#f6b2aa"/>
<rect x="372" y="300" width="1" height="1" fill="#f6b2aa"/>
<rect x="372" y="302" width="1" height="1" fill="#f6b2aa"/>
<rect x="372" y="304" width="1" height="1" fill="#f6b2aa"/>
<rect x="372" y="306" width="1" height="1" fill="#f6b2aa"/>
<rect x="372" y="308" width="1" height="1" fill="#f6b2aa"/>
<rect x="372" y="310" width="1" height="1" fill="#f6b2aa"/>
<rect x="372" y="312" width="1" height="1" fill="#f6b2aa"/>
<rect x="372" y="314" width="1" height="1" fill="#f6b2aa"/>
<rect x="372" y="316" width="1" height="1" fill="#f6b2aa"/>
<rect x="372" y="318" width="1" height="1" fill="#f6b2aa"/>
<rect x="372" y="320" width="1" height="1" fill="#f6b2aa"/>
<rect x="372" y="322" width="1" height="1" fill="#f6b2aa"/>
<rect x="372" y="324" width="1" height="1" fill="#f6b2aa"/>
<rect x="372" y="326" width="1" height="1" fill="#f6b2aa"/>
<rect x="372" y="328" width="1" height="1" fill="#f6b2aa"/>
<rect x="372" y="330" width="1" height="1" fill="#f6b2aa"/>
<rect x="372" y="332" width="1" height="1" fill="#f6b2aa"/>
<rect x="372" y="334" width="1" height="1" fill="#f6b2aa"/>
<rect x="372" y="336" width="1" height="1" fill="#f6b2aa"/>
<rect x="372" y="338" width="1" height="1" fill="#f6b2aa"/>
<rect x="372" y="340" width="1" height="1" fill="#f6b2aa"/>
<rect x="372" y="342" width="1" height="1" fill="#f6b2aa"/>
<rect x="372" y="310" width="1" height="3" fill="#12dcf6"/>
<rect x="372" y="318" width="1" height="1" fill="#12dcf6"/>
<rect x="372" y="320" width="1" height="1" fill="#12dcf6"/>
<rect x="372" y="322" width="1" height="1" fill="#12dcf6"/>
<rect x="372" y="324" width="1" height="1" fill="#12dcf6"/>
<rect x="372" y="326" width="1" height="1" fill="#12dcf6"/>
<rect x="372" y="328" width="1" height="1" fill="#12dcf6"/>
<rect x="372" y="330" width="1" height="1" fill="#12dcf6"/>
<rect x="371" y="335" width="1" height="9" fill="#f6b2aa"/>
<rect x="397" y="277" width="1" height="1" fill="#2a00e4"/>
<rect x="408" y="300" width="1" height="9" fill="#2a00e4"/>
<rect x="408" y="303" width="1" height="1" fill="#a0009e"/>
<rect x="408" y="308" width="1" height="38" fill="#d8d400"/>
<rect x="408" y="316" width="1" height="3" fill="#2a00e4"/>
<rect x="408" y="330" width="1" height="1" fill="#12dcf6"/>
<rect x="408" y="337" width="1" height="1" fill="#12dcf6"/>
<rect x="424" y="236" width="1" height="4" fill="#12dcf6"/>
<rect x="424" y="241" width="1" height="4" fill="#12dcf6"/>
<rect x="424" y="246" width="1" height="4" fill="#12dcf6"/>
<rect x="424" y="251" width="1" height="4" fill="#12dcf6"/>
<rect x="424" y="256" width="1" height="4" fill="#12dcf6"/>
<rect x="424" y="261" width="1" height="4" fill="#12dcf6"/>
<rect x="424" y="266" width="1" height="4" fill="#12dcf6"/>
<rect x="424" y="271" width="1" height="4" fill="#12dcf6"/>
<rect x="424" y="276" width="1" height="4" fill="#12dcf6"/>
<rect x="424" y="281" width="1" height="4" fill="#12dcf6"/>
<rect x="424" y="286" width="1" height="4" fill="#12dcf6"/>
<rect x="424" y="291" width="1" height="4" fill="#12dcf6"/>
<rect x="424" y="296" width="1" height="4" fill="#12dcf6"/>
<rect x="424" y="301" width="1" height="4" fill="#12dcf6"/>
<rect x="424" y="306" width="1" height="4" fill="#12dcf6"/>
<rect x="424" y="311" width="1" height="4" fill="#12dcf6"/>
<rect x="424" y="316" width="1" height="4" fill="#12dcf6"/>
<rect x="424" y="321" width="1" height="4" fill="#12dcf6"/>
<rect x="424" y="326" width="1" height="4" fill="#12dcf6"/>
<rect x="424" y="331" width="1" height="4" fill="#12dcf6"/>
<rect x="424" y="336" width="1" height="4" fill="#12dcf6"/>
<rect x="424" y="341" width="1" height="4" fill="#12dcf6"/>
<rect x="424" y="272" width="1" height="3" fill="#f6b2aa"/>
<rect x="424" y="250" width="1" height="1" fill="#f6b2aa"/>
<rect x="424" y="262" width="1" height="1" fill="#f6b2aa"/>
<rect x="424" y="290" width="1" height="1" fill="#f6b2aa"/>
<rect x="424" y="305" width="1" height="1" fill="#f6b2aa"/>
<rect x="424" y="320" width="1" height="1" fill="#f6b2aa"/>
<rect x="424" y="335" width="1" height="1" fill="#f6b2aa"/>
<rect x="352" y="346" width="1" height="12" fill="#d8d400"/>
<rect x="371" y="345" width="1" height="1" fill="#f6b2aa"/>
<rect x="371" y="348" width="1" height="1" fill="#f6b2aa"/>
<rect x="371" y="351" width="1" height="1" fill="#f6b2aa"/>
<rect x="371" y="354" width="1" height="1" fill="#f6b2aa"/>
<rect x="371" y="357" width="1" height="1" fill="#f6b2aa"/>
<rect x="371" y="360" width="1" height="1" fill="#f6b2aa"/>
<rect x="372" y="340" width="1" height="1" fill="#f6b2aa"/>
<rect x="372" y="342" width="1" height="1" fill="#f6b2aa"/>
<rect x="372" y="344" width="1" height="1" fill="#f6b2aa"/>
<rect x="372" y="346" width="1" height="1" fill="#f6b2aa"/>
<rect x="372" y="348" width="1" height="1" fill="#f6b2aa"/>
<rect x="372" y="350" width="1" height="1" fill="#f6b2aa"/>
<rect x="372" y="370" width="1" height="2" fill="#12dcf6"/>
<rect x="408" y="340" width="1" height="21" fill="#d8d400"/>
<rect x="408" y="398" width="1" height="43" fill="#d8d400"/>
<rect x="408" y="362" width="1" height="1" fill="#d8d400"/>
<rect x="408" y="376" width="1" height="4" fill="#d8d400"/>
<rect x="408" y="385" width="1" height="3" fill="#d8d400"/>
<rect x="408" y="389" width="1" height="1" fill="#12dcf6"/>
<rect x="408" y="341" width="1" height="1" fill="#12dcf6"/>
<rect x="408" y="344" width="1" height="1" fill="#12dcf6"/>
<rect x="408" y="346" width="1" height="1" fill="#12dcf6"/>
<rect x="408" y="349" width="1" height="1" fill="#12dcf6"/>
<rect x="408" y="351" width="1" height="1" fill="#12dcf6"/>
<rect x="408" y="354" width="1" height="1" fill="#12dcf6"/>
<rect x="408" y="356" width="1" height="1" fill="#12dcf6"/>
<rect x="408" y="358" width="1" height="1" fill="#12dcf6"/>
<rect x="408" y="399" width="1" height="1" fill="#12dcf6"/>
<rect x="408" y="401" width="1" height="1" fill="#12dcf6"/>
<rect x="408" y="404" width="1" height="1" fill="#12dcf6"/>
<rect x="408" y="406" width="1" height="1" fill="#12dcf6"/>
<rect x="408" y="409" width="1" height="1" fill="#12dcf6"/>
<rect x="408" y="415" width="1" height="1" fill="#12dcf6"/>
<rect x="408" y="418" width="1" height="1" fill="#12dcf6"/>
<rect x="408" y="420" width="1" height="1" fill="#12dcf6"/>
<rect x="408" y="423" width="1" height="1" fill="#12dcf6"/>
<rect x="408" y="426" width="1" height="1" fill="#12dcf6"/>
<rect x="408" y="428" width="1" height="1" fill="#12dcf6"/>
<rect x="408" y="430" width="1" height="1" fill="#12dcf6"/>
<rect x="408" y="436" width="1" height="1" fill="#12dcf6"/>
<rect x="408" y="352" width="1" height="1" fill="#a0009e"/>
<rect x="408" y="370" width="1" height="1" fill="#a0009e"/>
<rect x="408" y="373" width="1" height="1" fill="#44a8f8"/>
<rect x="408" y="383" width="1" height="1" fill="#f6b2aa"/>
<rect x="408" y="393" width="1" height="5" fill="#fc0030"/>
<rect x="408" y="412" width="1" height="2" fill="#a0009e"/>
<rect x="408" y="433" width="1" height="1" fill="#a0009e"/>
<rect x="408" y="432" width="1" height="1" fill="#2a00e4"/>
<rect x="408" y="435" width="1" height="4" fill="#fc3a8a"/>
<rect x="424" y="340" width="1" height="1" fill="#12dcf6"/>
<rect x="424" y="343" width="1" height="1" fill="#12dcf6"/>
<rect x="424" y="346" width="1" height="1" fill="#12dcf6"/>
<rect x="424" y="349" width="1" height="1" fill="#12dcf6"/>
<rect x="424" y="352" width="1" height="1" fill="#12dcf6"/>
<rect x="424" y="355" width="1" height="1" fill="#12dcf6"/>
<rect x="424" y="358" width="1" height="1" fill="#12dcf6"/>
<rect x="424" y="361" width="1" height="1" fill="#12dcf6"/>
<rect x="424" y="365" width="1" height="1" fill="#12dcf6"/>
<rect x="424" y="371" width="1" height="1" fill="#12dcf6"/>
<rect x="374" y="403" width="1" height="1" fill="#fc3a8a"/>
<rect x="360" y="413" width="1" height="1" fill="#44a8f8"/>
<rect x="371" y="415" width="1" height="3" fill="#f6b2aa"/>
<rect x="390" y="416" width="1" height="1" fill="#f6b2aa"/>
<rect x="390" y="418" width="1" height="1" fill="#f6b2aa"/>
<rect x="390" y="420" width="1" height="1" fill="#f6b2aa"/>
<rect x="390" y="422" width="1" height="1" fill="#f6b2aa"/>
<rect x="360" y="426" width="1" height="2" fill="#007c00"/>
<rect x="408" y="440" width="1" height="21" fill="#d8d400"/>
<rect x="408" y="441" width="1" height="1" fill="#12dcf6"/>
<rect x="408" y="444" width="1" height="1" fill="#12dcf6"/>
<rect x="408" y="447" width="1" height="1" fill="#12dcf6"/>
<rect x="408" y="449" width="1" height="1" fill="#12dcf6"/>
<rect x="408" y="452" width="1" height="1" fill="#12dcf6"/>
<rect x="408" y="455" width="1" height="1" fill="#12dcf6"/>
<rect x="408" y="458" width="1" height="1" fill="#12dcf6"/>
<rect x="408" y="461" width="1" height="1" fill="#2a00e4"/>
<rect x="408" y="475" width="1" height="1" fill="#d8d400"/>
<rect x="408" y="480" width="1" height="1" fill="#12dcf6"/>
<rect x="408" y="488" width="1" height="1" fill="#d8d400"/>
<rect x="408" y="497" width="1" height="9" fill="#12dcf6"/>
<rect x="408" y="499" width="1" height="1" fill="#d8d400"/>
<rect x="408" y="502" width="1" height="1" fill="#d8d400"/>
<rect x="404" y="514" width="1" height="1" fill="#d8d400"/>
<rect x="410" y="515" width="1" height="4" fill="#2a00e4"/>
<rect x="372" y="482" width="1" height="1" fill="#12dcf6"/>
<rect x="372" y="494" width="1" height="3" fill="#12dcf6"/>
<rect x="371" y="498" width="1" height="1" fill="#f6b2aa"/>
<rect x="372" y="500" width="1" height="1" fill="#f6b2aa"/>
<rect x="372" y="502" width="1" height="1" fill="#12dcf6"/>
<rect x="372" y="505" width="1" height="3" fill="#12dcf6"/>
<rect x="372" y="511" width="1" height="1" fill="#f6b2aa"/>
<rect x="372" y="516" width="1" height="2" fill="#12dcf6"/>
<rect x="350" y="490" width="1" height="5" fill="#a0009e"/>
<rect x="350" y="492" width="1" height="1" fill="#2a00e4"/>
<rect x="350" y="513" width="1" height="7" fill="#a0009e"/>
<rect x="350" y="517" width="1" height="1" fill="#2a00e4"/>
<rect x="541" y="56" width="1" height="1" fill="#007c00"/>
<rect x="584" y="56" width="1" height="1" fill="#fc0030"/>
<rect x="522" y="67" width="1" height="1" fill="#80b266"/>
<rect x="630" y="65" width="1" height="1" fill="#80b266"/>
<rect x="508" y="91" width="1" height="1" fill="#44a8f8"/>
<rect x="626" y="108" width="1" height="1" fill="#80b266"/>
<rect x="627" y="111" width="1" height="1" fill="#12dcf6"/>
<rect x="632" y="115" width="1" height="1" fill="#2a00e4"/>
<rect x="610" y="119" width="1" height="1" fill="#fc0030"/>
<rect x="507" y="143" width="1" height="1" fill="#2a00e4"/>
<rect x="507" y="145" width="1" height="1" fill="#fc3a8a"/>
<rect x="592" y="153" width="1" height="1" fill="#80b266"/>
<rect x="542" y="193" width="1" height="1" fill="#fc3a8a"/>
<rect x="554" y="197" width="1" height="1" fill="#007c00"/>
<rect x="584" y="214" width="1" height="1" fill="#fc0030"/>
<rect x="605" y="214" width="1" height="1" fill="#80b266"/>
<rect x="538" y="241" width="1" height="1" fill="#007c00"/>
<rect x="550" y="242" width="1" height="1" fill="#fc0030"/>
<rect x="541" y="259" width="1" height="1" fill="#fc3a8a"/>
<rect x="457" y="268" width="1" height="1" fill="#fc3a8a"/>
<rect x="562" y="273" width="1" height="1" fill="#a0009e"/>
<rect x="596" y="270" width="1" height="1" fill="#fc0030"/>
<rect x="587" y="287" width="1" height="1" fill="#007c00"/>
<rect x="616" y="289" width="1" height="1" fill="#44a8f8"/>
<rect x="621" y="286" width="1" height="1" fill="#007c00"/>
<rect x="621" y="296" width="1" height="1" fill="#d8d400"/>
<rect x="628" y="296" width="1" height="1" fill="#d8d400"/>
<rect x="451" y="308" width="1" height="1" fill="#fc3a8a"/>
<rect x="550" y="310" width="1" height="1" fill="#fc0030"/>
<rect x="588" y="314" width="1" height="1" fill="#007c00"/>
<rect x="462" y="328" width="1" height="1" fill="#fc3a8a"/>
<rect x="544" y="325" width="1" height="1" fill="#fc0030"/>
<rect x="572" y="321" width="1" height="1" fill="#007c00"/>
<rect x="602" y="322" width="1" height="1" fill="#007c00"/>
<rect x="621" y="325" width="1" height="1" fill="#f6b2aa"/>
<rect x="628" y="324" width="1" height="1" fill="#f6b2aa"/>
<rect x="632" y="317" width="1" height="1" fill="#f6b2aa"/>
<rect x="634" y="326" width="1" height="1" fill="#007c00"/>
<rect x="585" y="335" width="1" height="1" fill="#fc3a8a"/>
<rect x="604" y="334" width="1" height="1" fill="#fc0030"/>
<rect x="549" y="345" width="1" height="1" fill="#007c00"/>
<rect x="603" y="345" width="1" height="1" fill="#a0009e"/>
<rect x="605" y="355" width="1" height="1" fill="#fc0030"/>
<rect x="633" y="355" width="1" height="1" fill="#007c00"/>
<rect x="627" y="368" width="1" height="1" fill="#fc0030"/>
<rect x="604" y="373" width="1" height="1" fill="#fc0030"/>
<rect x="630" y="374" width="1" height="1" fill="#a0009e"/>
<rect x="610" y="376" width="1" height="1" fill="#007c00"/>
<rect x="604" y="384" width="1" height="1" fill="#fc0030"/>
<rect x="507" y="425" width="1" height="2" fill="#44a8f8"/>
<rect x="602" y="423" width="1" height="1" fill="#f6b2aa"/>
<rect x="603" y="438" width="1" height="1" fill="#fc3a8a"/>
<rect x="630" y="436" width="1" height="1" fill="#007c00"/>
<rect x="472" y="472" width="1" height="1" fill="#007c00"/>
<rect x="479" y="471" width="1" height="1" fill="#007c00"/>
<rect x="610" y="455" width="1" height="1" fill="#fc3a8a"/>
<rect x="596" y="470" width="1" height="1" fill="#fc3a8a"/>
<rect x="576" y="490" width="1" height="1" fill="#fc3a8a"/>
<rect x="609" y="505" width="1" height="1" fill="#fc0030"/>
<rect x="584" y="512" width="1" height="1" fill="#80b266"/>
<rect x="579" y="518" width="1" height="1" fill="#fc3a8a"/>
<rect x="222" y="516" width="1" height="1" fill="#2a00e4"/>
<rect x="251" y="516" width="1" height="1" fill="#2a00e4"/>
<rect x="212" y="515" width="1" height="1" fill="#12dcf6"/>
<rect x="258" y="473" width="1" height="1" fill="#80b266"/>
<rect x="256" y="474" width="1" height="1" fill="#007c00"/>
<rect x="257" y="473" width="1" height="1" fill="#007c00"/>
<rect x="258" y="474" width="1" height="1" fill="#007c00"/>
<rect x="255" y="475" width="1" height="1" fill="#80b266"/>
<rect x="257" y="474" width="1" height="1" fill="#80b266"/>
<rect x="257" y="475" width="1" height="1" fill="#80b266"/>
<rect x="255" y="474" width="1" height="1" fill="#80b266"/>
<rect x="258" y="475" width="1" height="1" fill="#80b266"/>
<rect x="257" y="474" width="1" height="1" fill="#007c00"/>
<rect x="256" y="471" width="1" height="1" fill="#80b266"/>
<rect x="255" y="473" width="1" height="1" fill="#007c00"/>
<rect x="255" y="474" width="1" height="1" fill="#80b266"/>
<rect x="255" y="475" width="1" height="1" fill="#80b266"/>
<rect x="266" y="511" width="1" height="1" fill="#d8d400"/>
<rect x="264" y="507" width="1" height="1" fill="#007c00"/>
<rect x="265" y="513" width="1" height="1" fill="#007c00"/>
<rect x="266" y="510" width="1" height="1" fill="#f6b2aa"/>
<rect x="267" y="509" width="1" height="1" fill="#f6b2aa"/>
<rect x="265" y="507" width="1" height="1" fill="#f6b2aa"/>
<rect x="266" y="511" width="1" height="1" fill="#fc3a8a"/>
<rect x="266" y="508" width="1" height="1" fill="#d8d400"/>
<rect x="266" y="507" width="1" height="1" fill="#d8d400"/>
<rect x="264" y="512" width="1" height="1" fill="#d8d400"/>
<rect x="265" y="512" width="1" height="1" fill="#d8d400"/>
<rect x="266" y="507" width="1" height="1" fill="#f6b2aa"/>
<rect x="255" y="507" width="1" height="1" fill="#d8d400"/>
<rect x="258" y="508" width="1" height="1" fill="#007c00"/>
<rect x="256" y="509" width="1" height="1" fill="#fc3a8a"/>
<rect x="258" y="507" width="1" height="1" fill="#007c00"/>
<rect x="256" y="510" width="1" height="1" fill="#fc3a8a"/>
<rect x="257" y="507" width="1" height="1" fill="#80b266"/>
<rect x="257" y="513" width="1" height="1" fill="#d8d400"/>
<rect x="257" y="506" width="1" height="1" fill="#d8d400"/>
<rect x="255" y="512" width="1" height="1" fill="#fc3a8a"/>
<rect x="256" y="514" width="1" height="1" fill="#007c00"/>
<rect x="258" y="509" width="1" height="1" fill="#007c00"/>
<rect x="257" y="509" width="1" height="1" fill="#fc3a8a"/>
<rect x="259" y="512" width="1" height="1" fill="#d8d400"/>
<rect x="256" y="508" width="1" height="1" fill="#80b266"/>
<rect x="258" y="510" width="1" height="1" fill="#d8d400"/>
<rect x="257" y="512" width="1" height="1" fill="#80b266"/>
<rect x="258" y="507" width="1" height="1" fill="#d8d400"/>
<rect x="256" y="506" width="1" height="1" fill="#80b266"/>
<rect x="257" y="509" width="1" height="1" fill="#d8d400"/>
<rect x="259" y="506" width="1" height="1" fill="#80b266"/>
<rect x="259" y="507" width="1" height="1" fill="#80b266"/>
<rect x="256" y="513" width="1" height="1" fill="#80b266"/>
<rect x="255" y="460" width="1" height="1" fill="#a0009e"/>
<rect x="256" y="465" width="1" height="1" fill="#a0009e"/>
<rect x="256" y="467" width="1" height="1" fill="#fc3a8a"/>
<rect x="255" y="469" width="1" height="1" fill="#f6b2aa"/>
<path d="M257.3,341.5 L257.3,360 L256.5,366 L255,373 L252,377.5 L248.5,381 L247.5,383.5" fill="none" stroke="#000" stroke-width="1.25" shape-rendering="auto"/>
<path d="M247.5,383.5 L247.4,421.2 L240.5,427.5" fill="none" stroke="#000" stroke-width="1.25" shape-rendering="auto"/>
<path d="M257.5,414.5 L257.5,422 L251.5,427.3 L246.5,431.5 L239.7,435.2" fill="none" stroke="#000" stroke-width="1.25" shape-rendering="auto"/>
<path d="M195.3,337 L196.5,339" fill="none" stroke="#000" stroke-width="1.25" shape-rendering="auto"/>
<path d="M198.5,341.8 L201.4,345.3" fill="none" stroke="#000" stroke-width="1.25" shape-rendering="auto"/>
<path d="M203.7,348.2 L206.7,352.3" fill="none" stroke="#000" stroke-width="1.25" shape-rendering="auto"/>
<path d="M208.4,354.6 L211.3,358.7" fill="none" stroke="#000" stroke-width="1.25" shape-rendering="auto"/>
<path d="M213,361 L216,365" fill="none" stroke="#000" stroke-width="1.25" shape-rendering="auto"/>
<path d="M218.3,367.5 L221.2,372" fill="none" stroke="#000" stroke-width="1.25" shape-rendering="auto"/>
<path d="M223,374.5 L226,378" fill="none" stroke="#000" stroke-width="1.25" shape-rendering="auto"/>
<path d="M228.8,380.3 L232.3,384.4" fill="none" stroke="#000" stroke-width="1.25" shape-rendering="auto"/>
<path d="M236.5,387.8 L240.3,391.8" fill="none" stroke="#000" stroke-width="1.25" shape-rendering="auto"/>
<path d="M243,394.5 L245.5,397.5" fill="none" stroke="#000" stroke-width="1.25" shape-rendering="auto"/>
<path d="M248,400.6 L250.6,403.6" fill="none" stroke="#000" stroke-width="1.25" shape-rendering="auto"/>
<path d="M253.2,407.4 L255.5,410" fill="none" stroke="#000" stroke-width="1.25" shape-rendering="auto"/>
<path d="M195,456.5 L196.7,455.6" fill="none" stroke="#000" stroke-width="1.25" shape-rendering="auto"/>
<path d="M200.1,454.3 L203.6,452.6" fill="none" stroke="#000" stroke-width="1.25" shape-rendering="auto"/>
<path d="M208.1,450.9 L212.1,448.6" fill="none" stroke="#000" stroke-width="1.25" shape-rendering="auto"/>
<path d="M216.1,446.9 L219.6,444.6" fill="none" stroke="#000" stroke-width="1.25" shape-rendering="auto"/>
<path d="M224.1,442.9 L228.7,441.1" fill="none" stroke="#000" stroke-width="1.25" shape-rendering="auto"/>
<path d="M232.1,439.3 L236.7,437" fill="none" stroke="#000" stroke-width="1.25" shape-rendering="auto"/>
<path d="M238.5,435.8 L239.8,435.2" fill="none" stroke="#000" stroke-width="1.25" shape-rendering="auto"/>
</svg></body></html>
